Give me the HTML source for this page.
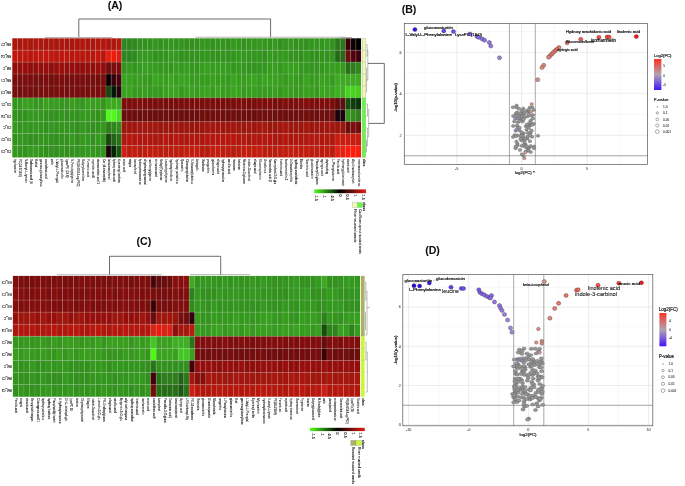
<!DOCTYPE html>
<html><head><meta charset="utf-8"><title>Figure</title>
<style>html,body{margin:0;padding:0;background:#fff;}body{width:685px;height:486px;overflow:hidden;font-family:"Liberation Sans",sans-serif;}svg{display:block;}</style></head>
<body>
<svg width="685" height="486" viewBox="0 0 685 486" font-family="Liberation Sans, Arial, sans-serif">
<defs>
<linearGradient id="gbr" x1="0" x2="1" y1="0" y2="0"><stop offset="0" stop-color="rgb(80,255,30)"/><stop offset="0.5" stop-color="#000"/><stop offset="1" stop-color="rgb(230,30,20)"/></linearGradient>
<linearGradient id="fcB" x1="0" x2="0" y1="0" y2="1"><stop offset="0" stop-color="rgb(250,50,35)"/><stop offset="0.5" stop-color="rgb(175,165,175)"/><stop offset="1" stop-color="rgb(70,20,255)"/></linearGradient>
<filter id="soft" x="-2%" y="-2%" width="104%" height="104%"><feGaussianBlur stdDeviation="0.3"/></filter>
</defs>
<g filter="url(#soft)">
<rect width="685" height="486" fill="#fff"/>
<rect x="12.30" y="38.30" width="5.25" height="11.96" fill="rgb(172,24,14)"/>
<rect x="17.51" y="38.30" width="5.25" height="11.96" fill="rgb(170,24,14)"/>
<rect x="22.71" y="38.30" width="5.25" height="11.96" fill="rgb(177,25,15)"/>
<rect x="27.91" y="38.30" width="5.25" height="11.96" fill="rgb(169,24,14)"/>
<rect x="33.12" y="38.30" width="5.25" height="11.96" fill="rgb(175,25,15)"/>
<rect x="38.33" y="38.30" width="5.25" height="11.96" fill="rgb(173,24,14)"/>
<rect x="43.53" y="38.30" width="5.25" height="11.96" fill="rgb(168,24,14)"/>
<rect x="48.73" y="38.30" width="5.25" height="11.96" fill="rgb(175,25,15)"/>
<rect x="53.94" y="38.30" width="5.25" height="11.96" fill="rgb(168,24,14)"/>
<rect x="59.14" y="38.30" width="5.25" height="11.96" fill="rgb(174,24,14)"/>
<rect x="64.35" y="38.30" width="5.25" height="11.96" fill="rgb(168,24,14)"/>
<rect x="69.56" y="38.30" width="5.25" height="11.96" fill="rgb(169,24,14)"/>
<rect x="74.76" y="38.30" width="5.25" height="11.96" fill="rgb(173,24,14)"/>
<rect x="79.97" y="38.30" width="5.25" height="11.96" fill="rgb(179,25,15)"/>
<rect x="85.17" y="38.30" width="5.25" height="11.96" fill="rgb(169,24,14)"/>
<rect x="90.38" y="38.30" width="5.25" height="11.96" fill="rgb(171,24,14)"/>
<rect x="95.58" y="38.30" width="5.25" height="11.96" fill="rgb(176,25,15)"/>
<rect x="100.78" y="38.30" width="5.25" height="11.96" fill="rgb(181,25,15)"/>
<rect x="105.99" y="38.30" width="5.25" height="11.96" fill="rgb(176,25,15)"/>
<rect x="111.19" y="38.30" width="5.25" height="11.96" fill="rgb(173,24,14)"/>
<rect x="116.40" y="38.30" width="5.25" height="11.96" fill="rgb(181,25,15)"/>
<rect x="121.61" y="38.30" width="5.25" height="11.96" fill="rgb(45,135,30)"/>
<rect x="126.81" y="38.30" width="5.25" height="11.96" fill="rgb(45,135,30)"/>
<rect x="132.02" y="38.30" width="5.25" height="11.96" fill="rgb(45,138,30)"/>
<rect x="137.22" y="38.30" width="5.25" height="11.96" fill="rgb(48,145,29)"/>
<rect x="142.43" y="38.30" width="5.25" height="11.96" fill="rgb(48,145,29)"/>
<rect x="147.63" y="38.30" width="5.25" height="11.96" fill="rgb(49,147,29)"/>
<rect x="152.84" y="38.30" width="5.25" height="11.96" fill="rgb(51,153,30)"/>
<rect x="158.04" y="38.30" width="5.25" height="11.96" fill="rgb(48,146,29)"/>
<rect x="163.25" y="38.30" width="5.25" height="11.96" fill="rgb(50,150,30)"/>
<rect x="168.45" y="38.30" width="5.25" height="11.96" fill="rgb(50,151,30)"/>
<rect x="173.66" y="38.30" width="5.25" height="11.96" fill="rgb(49,148,29)"/>
<rect x="178.86" y="38.30" width="5.25" height="11.96" fill="rgb(50,150,30)"/>
<rect x="184.07" y="38.30" width="5.25" height="11.96" fill="rgb(48,144,28)"/>
<rect x="189.27" y="38.30" width="5.25" height="11.96" fill="rgb(48,144,28)"/>
<rect x="194.48" y="38.30" width="5.25" height="11.96" fill="rgb(48,146,29)"/>
<rect x="199.68" y="38.30" width="5.25" height="11.96" fill="rgb(50,152,30)"/>
<rect x="204.89" y="38.30" width="5.25" height="11.96" fill="rgb(49,149,29)"/>
<rect x="210.09" y="38.30" width="5.25" height="11.96" fill="rgb(49,147,29)"/>
<rect x="215.30" y="38.30" width="5.25" height="11.96" fill="rgb(50,151,30)"/>
<rect x="220.50" y="38.30" width="5.25" height="11.96" fill="rgb(49,149,29)"/>
<rect x="225.71" y="38.30" width="5.25" height="11.96" fill="rgb(49,147,29)"/>
<rect x="230.91" y="38.30" width="5.25" height="11.96" fill="rgb(51,153,30)"/>
<rect x="236.12" y="38.30" width="5.25" height="11.96" fill="rgb(50,152,30)"/>
<rect x="241.32" y="38.30" width="5.25" height="11.96" fill="rgb(48,146,29)"/>
<rect x="246.53" y="38.30" width="5.25" height="11.96" fill="rgb(50,150,30)"/>
<rect x="251.73" y="38.30" width="5.25" height="11.96" fill="rgb(50,150,30)"/>
<rect x="256.94" y="38.30" width="5.25" height="11.96" fill="rgb(51,154,30)"/>
<rect x="262.14" y="38.30" width="5.25" height="11.96" fill="rgb(50,152,30)"/>
<rect x="267.35" y="38.30" width="5.25" height="11.96" fill="rgb(49,147,29)"/>
<rect x="272.55" y="38.30" width="5.25" height="11.96" fill="rgb(51,155,31)"/>
<rect x="277.75" y="38.30" width="5.25" height="11.96" fill="rgb(48,145,29)"/>
<rect x="282.96" y="38.30" width="5.25" height="11.96" fill="rgb(49,149,29)"/>
<rect x="288.17" y="38.30" width="5.25" height="11.96" fill="rgb(51,153,30)"/>
<rect x="293.37" y="38.30" width="5.25" height="11.96" fill="rgb(48,145,29)"/>
<rect x="298.57" y="38.30" width="5.25" height="11.96" fill="rgb(49,149,29)"/>
<rect x="303.78" y="38.30" width="5.25" height="11.96" fill="rgb(48,144,28)"/>
<rect x="308.99" y="38.30" width="5.25" height="11.96" fill="rgb(50,152,30)"/>
<rect x="314.19" y="38.30" width="5.25" height="11.96" fill="rgb(51,153,30)"/>
<rect x="319.40" y="38.30" width="5.25" height="11.96" fill="rgb(50,150,30)"/>
<rect x="324.60" y="38.30" width="5.25" height="11.96" fill="rgb(51,154,30)"/>
<rect x="329.81" y="38.30" width="5.25" height="11.96" fill="rgb(49,147,29)"/>
<rect x="335.01" y="38.30" width="5.25" height="11.96" fill="rgb(42,120,28)"/>
<rect x="340.22" y="38.30" width="5.25" height="11.96" fill="rgb(42,120,28)"/>
<rect x="345.42" y="38.30" width="5.25" height="11.96" fill="rgb(60,0,5)"/>
<rect x="350.62" y="38.30" width="5.25" height="11.96" fill="rgb(15,0,5)"/>
<rect x="355.83" y="38.30" width="5.25" height="11.96" fill="rgb(0,0,0)"/>
<rect x="12.30" y="50.21" width="5.25" height="11.96" fill="rgb(196,25,15)"/>
<rect x="17.51" y="50.21" width="5.25" height="11.96" fill="rgb(189,24,14)"/>
<rect x="22.71" y="50.21" width="5.25" height="11.96" fill="rgb(192,25,15)"/>
<rect x="27.91" y="50.21" width="5.25" height="11.96" fill="rgb(183,24,14)"/>
<rect x="33.12" y="50.21" width="5.25" height="11.96" fill="rgb(193,25,15)"/>
<rect x="38.33" y="50.21" width="5.25" height="11.96" fill="rgb(192,25,15)"/>
<rect x="43.53" y="50.21" width="5.25" height="11.96" fill="rgb(197,25,15)"/>
<rect x="48.73" y="50.21" width="5.25" height="11.96" fill="rgb(194,25,15)"/>
<rect x="53.94" y="50.21" width="5.25" height="11.96" fill="rgb(186,24,14)"/>
<rect x="59.14" y="50.21" width="5.25" height="11.96" fill="rgb(188,24,14)"/>
<rect x="64.35" y="50.21" width="5.25" height="11.96" fill="rgb(192,25,15)"/>
<rect x="69.56" y="50.21" width="5.25" height="11.96" fill="rgb(182,24,14)"/>
<rect x="74.76" y="50.21" width="5.25" height="11.96" fill="rgb(189,24,14)"/>
<rect x="79.97" y="50.21" width="5.25" height="11.96" fill="rgb(184,24,14)"/>
<rect x="85.17" y="50.21" width="5.25" height="11.96" fill="rgb(184,24,14)"/>
<rect x="90.38" y="50.21" width="5.25" height="11.96" fill="rgb(183,24,14)"/>
<rect x="95.58" y="50.21" width="5.25" height="11.96" fill="rgb(194,25,15)"/>
<rect x="100.78" y="50.21" width="5.25" height="11.96" fill="rgb(184,24,14)"/>
<rect x="105.99" y="50.21" width="5.25" height="11.96" fill="rgb(235,30,15)"/>
<rect x="111.19" y="50.21" width="5.25" height="11.96" fill="rgb(235,30,15)"/>
<rect x="116.40" y="50.21" width="5.25" height="11.96" fill="rgb(220,30,20)"/>
<rect x="121.61" y="50.21" width="5.25" height="11.96" fill="rgb(45,135,30)"/>
<rect x="126.81" y="50.21" width="5.25" height="11.96" fill="rgb(45,135,30)"/>
<rect x="132.02" y="50.21" width="5.25" height="11.96" fill="rgb(46,138,30)"/>
<rect x="137.22" y="50.21" width="5.25" height="11.96" fill="rgb(51,154,30)"/>
<rect x="142.43" y="50.21" width="5.25" height="11.96" fill="rgb(51,153,30)"/>
<rect x="147.63" y="50.21" width="5.25" height="11.96" fill="rgb(51,154,30)"/>
<rect x="152.84" y="50.21" width="5.25" height="11.96" fill="rgb(49,147,29)"/>
<rect x="158.04" y="50.21" width="5.25" height="11.96" fill="rgb(49,148,29)"/>
<rect x="163.25" y="50.21" width="5.25" height="11.96" fill="rgb(49,148,29)"/>
<rect x="168.45" y="50.21" width="5.25" height="11.96" fill="rgb(51,154,30)"/>
<rect x="173.66" y="50.21" width="5.25" height="11.96" fill="rgb(51,155,31)"/>
<rect x="178.86" y="50.21" width="5.25" height="11.96" fill="rgb(48,145,29)"/>
<rect x="184.07" y="50.21" width="5.25" height="11.96" fill="rgb(48,146,29)"/>
<rect x="189.27" y="50.21" width="5.25" height="11.96" fill="rgb(48,146,29)"/>
<rect x="194.48" y="50.21" width="5.25" height="11.96" fill="rgb(48,146,29)"/>
<rect x="199.68" y="50.21" width="5.25" height="11.96" fill="rgb(49,149,29)"/>
<rect x="204.89" y="50.21" width="5.25" height="11.96" fill="rgb(50,151,30)"/>
<rect x="210.09" y="50.21" width="5.25" height="11.96" fill="rgb(49,147,29)"/>
<rect x="215.30" y="50.21" width="5.25" height="11.96" fill="rgb(48,144,28)"/>
<rect x="220.50" y="50.21" width="5.25" height="11.96" fill="rgb(49,149,29)"/>
<rect x="225.71" y="50.21" width="5.25" height="11.96" fill="rgb(49,148,29)"/>
<rect x="230.91" y="50.21" width="5.25" height="11.96" fill="rgb(50,150,30)"/>
<rect x="236.12" y="50.21" width="5.25" height="11.96" fill="rgb(51,155,31)"/>
<rect x="241.32" y="50.21" width="5.25" height="11.96" fill="rgb(50,152,30)"/>
<rect x="246.53" y="50.21" width="5.25" height="11.96" fill="rgb(50,150,30)"/>
<rect x="251.73" y="50.21" width="5.25" height="11.96" fill="rgb(50,151,30)"/>
<rect x="256.94" y="50.21" width="5.25" height="11.96" fill="rgb(50,152,30)"/>
<rect x="262.14" y="50.21" width="5.25" height="11.96" fill="rgb(48,144,28)"/>
<rect x="267.35" y="50.21" width="5.25" height="11.96" fill="rgb(51,154,30)"/>
<rect x="272.55" y="50.21" width="5.25" height="11.96" fill="rgb(51,153,30)"/>
<rect x="277.75" y="50.21" width="5.25" height="11.96" fill="rgb(51,154,30)"/>
<rect x="282.96" y="50.21" width="5.25" height="11.96" fill="rgb(51,153,30)"/>
<rect x="288.17" y="50.21" width="5.25" height="11.96" fill="rgb(49,148,29)"/>
<rect x="293.37" y="50.21" width="5.25" height="11.96" fill="rgb(49,148,29)"/>
<rect x="298.57" y="50.21" width="5.25" height="11.96" fill="rgb(48,145,29)"/>
<rect x="303.78" y="50.21" width="5.25" height="11.96" fill="rgb(50,151,30)"/>
<rect x="308.99" y="50.21" width="5.25" height="11.96" fill="rgb(48,144,28)"/>
<rect x="314.19" y="50.21" width="5.25" height="11.96" fill="rgb(48,144,28)"/>
<rect x="319.40" y="50.21" width="5.25" height="11.96" fill="rgb(48,146,29)"/>
<rect x="324.60" y="50.21" width="5.25" height="11.96" fill="rgb(48,145,29)"/>
<rect x="329.81" y="50.21" width="5.25" height="11.96" fill="rgb(49,148,29)"/>
<rect x="335.01" y="50.21" width="5.25" height="11.96" fill="rgb(38,105,25)"/>
<rect x="340.22" y="50.21" width="5.25" height="11.96" fill="rgb(38,105,25)"/>
<rect x="345.42" y="50.21" width="5.25" height="11.96" fill="rgb(110,8,8)"/>
<rect x="350.62" y="50.21" width="5.25" height="11.96" fill="rgb(80,5,8)"/>
<rect x="355.83" y="50.21" width="5.25" height="11.96" fill="rgb(65,5,8)"/>
<rect x="12.30" y="62.12" width="5.25" height="11.96" fill="rgb(144,14,9)"/>
<rect x="17.51" y="62.12" width="5.25" height="11.96" fill="rgb(154,15,10)"/>
<rect x="22.71" y="62.12" width="5.25" height="11.96" fill="rgb(151,15,10)"/>
<rect x="27.91" y="62.12" width="5.25" height="11.96" fill="rgb(145,14,9)"/>
<rect x="33.12" y="62.12" width="5.25" height="11.96" fill="rgb(147,14,9)"/>
<rect x="38.33" y="62.12" width="5.25" height="11.96" fill="rgb(148,14,9)"/>
<rect x="43.53" y="62.12" width="5.25" height="11.96" fill="rgb(148,14,9)"/>
<rect x="48.73" y="62.12" width="5.25" height="11.96" fill="rgb(145,14,9)"/>
<rect x="53.94" y="62.12" width="5.25" height="11.96" fill="rgb(154,15,10)"/>
<rect x="59.14" y="62.12" width="5.25" height="11.96" fill="rgb(155,15,10)"/>
<rect x="64.35" y="62.12" width="5.25" height="11.96" fill="rgb(149,14,9)"/>
<rect x="69.56" y="62.12" width="5.25" height="11.96" fill="rgb(149,14,9)"/>
<rect x="74.76" y="62.12" width="5.25" height="11.96" fill="rgb(145,14,9)"/>
<rect x="79.97" y="62.12" width="5.25" height="11.96" fill="rgb(145,14,9)"/>
<rect x="85.17" y="62.12" width="5.25" height="11.96" fill="rgb(148,14,9)"/>
<rect x="90.38" y="62.12" width="5.25" height="11.96" fill="rgb(147,14,9)"/>
<rect x="95.58" y="62.12" width="5.25" height="11.96" fill="rgb(153,15,10)"/>
<rect x="100.78" y="62.12" width="5.25" height="11.96" fill="rgb(145,14,9)"/>
<rect x="105.99" y="62.12" width="5.25" height="11.96" fill="rgb(115,10,10)"/>
<rect x="111.19" y="62.12" width="5.25" height="11.96" fill="rgb(125,10,10)"/>
<rect x="116.40" y="62.12" width="5.25" height="11.96" fill="rgb(125,10,10)"/>
<rect x="121.61" y="62.12" width="5.25" height="11.96" fill="rgb(50,150,29)"/>
<rect x="126.81" y="62.12" width="5.25" height="11.96" fill="rgb(52,155,30)"/>
<rect x="132.02" y="62.12" width="5.25" height="11.96" fill="rgb(50,149,28)"/>
<rect x="137.22" y="62.12" width="5.25" height="11.96" fill="rgb(52,155,30)"/>
<rect x="142.43" y="62.12" width="5.25" height="11.96" fill="rgb(53,160,31)"/>
<rect x="147.63" y="62.12" width="5.25" height="11.96" fill="rgb(53,159,30)"/>
<rect x="152.84" y="62.12" width="5.25" height="11.96" fill="rgb(52,157,30)"/>
<rect x="158.04" y="62.12" width="5.25" height="11.96" fill="rgb(51,152,29)"/>
<rect x="163.25" y="62.12" width="5.25" height="11.96" fill="rgb(51,153,29)"/>
<rect x="168.45" y="62.12" width="5.25" height="11.96" fill="rgb(50,150,29)"/>
<rect x="173.66" y="62.12" width="5.25" height="11.96" fill="rgb(53,158,30)"/>
<rect x="178.86" y="62.12" width="5.25" height="11.96" fill="rgb(52,155,30)"/>
<rect x="184.07" y="62.12" width="5.25" height="11.96" fill="rgb(53,158,30)"/>
<rect x="189.27" y="62.12" width="5.25" height="11.96" fill="rgb(51,152,29)"/>
<rect x="194.48" y="62.12" width="5.25" height="11.96" fill="rgb(50,151,29)"/>
<rect x="199.68" y="62.12" width="5.25" height="11.96" fill="rgb(53,158,30)"/>
<rect x="204.89" y="62.12" width="5.25" height="11.96" fill="rgb(54,161,31)"/>
<rect x="210.09" y="62.12" width="5.25" height="11.96" fill="rgb(53,159,30)"/>
<rect x="215.30" y="62.12" width="5.25" height="11.96" fill="rgb(53,158,30)"/>
<rect x="220.50" y="62.12" width="5.25" height="11.96" fill="rgb(53,158,30)"/>
<rect x="225.71" y="62.12" width="5.25" height="11.96" fill="rgb(52,157,30)"/>
<rect x="230.91" y="62.12" width="5.25" height="11.96" fill="rgb(50,151,29)"/>
<rect x="236.12" y="62.12" width="5.25" height="11.96" fill="rgb(52,155,30)"/>
<rect x="241.32" y="62.12" width="5.25" height="11.96" fill="rgb(51,153,29)"/>
<rect x="246.53" y="62.12" width="5.25" height="11.96" fill="rgb(50,149,28)"/>
<rect x="251.73" y="62.12" width="5.25" height="11.96" fill="rgb(50,149,28)"/>
<rect x="256.94" y="62.12" width="5.25" height="11.96" fill="rgb(51,152,29)"/>
<rect x="262.14" y="62.12" width="5.25" height="11.96" fill="rgb(50,152,29)"/>
<rect x="267.35" y="62.12" width="5.25" height="11.96" fill="rgb(52,157,30)"/>
<rect x="272.55" y="62.12" width="5.25" height="11.96" fill="rgb(53,160,31)"/>
<rect x="277.75" y="62.12" width="5.25" height="11.96" fill="rgb(51,154,29)"/>
<rect x="282.96" y="62.12" width="5.25" height="11.96" fill="rgb(53,160,31)"/>
<rect x="288.17" y="62.12" width="5.25" height="11.96" fill="rgb(54,161,31)"/>
<rect x="293.37" y="62.12" width="5.25" height="11.96" fill="rgb(53,160,31)"/>
<rect x="298.57" y="62.12" width="5.25" height="11.96" fill="rgb(51,153,29)"/>
<rect x="303.78" y="62.12" width="5.25" height="11.96" fill="rgb(50,151,29)"/>
<rect x="308.99" y="62.12" width="5.25" height="11.96" fill="rgb(50,151,29)"/>
<rect x="314.19" y="62.12" width="5.25" height="11.96" fill="rgb(50,151,29)"/>
<rect x="319.40" y="62.12" width="5.25" height="11.96" fill="rgb(50,151,29)"/>
<rect x="324.60" y="62.12" width="5.25" height="11.96" fill="rgb(52,156,30)"/>
<rect x="329.81" y="62.12" width="5.25" height="11.96" fill="rgb(53,159,30)"/>
<rect x="335.01" y="62.12" width="5.25" height="11.96" fill="rgb(53,159,30)"/>
<rect x="340.22" y="62.12" width="5.25" height="11.96" fill="rgb(51,154,29)"/>
<rect x="345.42" y="62.12" width="5.25" height="11.96" fill="rgb(40,115,25)"/>
<rect x="350.62" y="62.12" width="5.25" height="11.96" fill="rgb(45,125,28)"/>
<rect x="355.83" y="62.12" width="5.25" height="11.96" fill="rgb(48,135,30)"/>
<rect x="12.30" y="74.03" width="5.25" height="11.96" fill="rgb(121,12,10)"/>
<rect x="17.51" y="74.03" width="5.25" height="11.96" fill="rgb(123,12,10)"/>
<rect x="22.71" y="74.03" width="5.25" height="11.96" fill="rgb(122,12,10)"/>
<rect x="27.91" y="74.03" width="5.25" height="11.96" fill="rgb(122,12,10)"/>
<rect x="33.12" y="74.03" width="5.25" height="11.96" fill="rgb(119,11,9)"/>
<rect x="38.33" y="74.03" width="5.25" height="11.96" fill="rgb(116,11,9)"/>
<rect x="43.53" y="74.03" width="5.25" height="11.96" fill="rgb(122,12,10)"/>
<rect x="48.73" y="74.03" width="5.25" height="11.96" fill="rgb(118,11,9)"/>
<rect x="53.94" y="74.03" width="5.25" height="11.96" fill="rgb(122,12,10)"/>
<rect x="59.14" y="74.03" width="5.25" height="11.96" fill="rgb(124,12,10)"/>
<rect x="64.35" y="74.03" width="5.25" height="11.96" fill="rgb(119,11,9)"/>
<rect x="69.56" y="74.03" width="5.25" height="11.96" fill="rgb(119,11,9)"/>
<rect x="74.76" y="74.03" width="5.25" height="11.96" fill="rgb(124,12,10)"/>
<rect x="79.97" y="74.03" width="5.25" height="11.96" fill="rgb(122,12,10)"/>
<rect x="85.17" y="74.03" width="5.25" height="11.96" fill="rgb(116,11,9)"/>
<rect x="90.38" y="74.03" width="5.25" height="11.96" fill="rgb(116,11,9)"/>
<rect x="95.58" y="74.03" width="5.25" height="11.96" fill="rgb(116,11,9)"/>
<rect x="100.78" y="74.03" width="5.25" height="11.96" fill="rgb(123,12,10)"/>
<rect x="105.99" y="74.03" width="5.25" height="11.96" fill="rgb(10,0,0)"/>
<rect x="111.19" y="74.03" width="5.25" height="11.96" fill="rgb(55,5,10)"/>
<rect x="116.40" y="74.03" width="5.25" height="11.96" fill="rgb(75,5,8)"/>
<rect x="121.61" y="74.03" width="5.25" height="11.96" fill="rgb(57,166,31)"/>
<rect x="126.81" y="74.03" width="5.25" height="11.96" fill="rgb(55,162,30)"/>
<rect x="132.02" y="74.03" width="5.25" height="11.96" fill="rgb(54,158,29)"/>
<rect x="137.22" y="74.03" width="5.25" height="11.96" fill="rgb(55,160,30)"/>
<rect x="142.43" y="74.03" width="5.25" height="11.96" fill="rgb(53,155,29)"/>
<rect x="147.63" y="74.03" width="5.25" height="11.96" fill="rgb(52,153,28)"/>
<rect x="152.84" y="74.03" width="5.25" height="11.96" fill="rgb(57,166,31)"/>
<rect x="158.04" y="74.03" width="5.25" height="11.96" fill="rgb(55,161,30)"/>
<rect x="163.25" y="74.03" width="5.25" height="11.96" fill="rgb(55,160,30)"/>
<rect x="168.45" y="74.03" width="5.25" height="11.96" fill="rgb(56,165,31)"/>
<rect x="173.66" y="74.03" width="5.25" height="11.96" fill="rgb(54,159,29)"/>
<rect x="178.86" y="74.03" width="5.25" height="11.96" fill="rgb(56,164,30)"/>
<rect x="184.07" y="74.03" width="5.25" height="11.96" fill="rgb(56,164,30)"/>
<rect x="189.27" y="74.03" width="5.25" height="11.96" fill="rgb(53,156,29)"/>
<rect x="194.48" y="74.03" width="5.25" height="11.96" fill="rgb(53,156,29)"/>
<rect x="199.68" y="74.03" width="5.25" height="11.96" fill="rgb(54,157,29)"/>
<rect x="204.89" y="74.03" width="5.25" height="11.96" fill="rgb(53,156,29)"/>
<rect x="210.09" y="74.03" width="5.25" height="11.96" fill="rgb(55,161,30)"/>
<rect x="215.30" y="74.03" width="5.25" height="11.96" fill="rgb(53,156,29)"/>
<rect x="220.50" y="74.03" width="5.25" height="11.96" fill="rgb(54,158,29)"/>
<rect x="225.71" y="74.03" width="5.25" height="11.96" fill="rgb(53,155,29)"/>
<rect x="230.91" y="74.03" width="5.25" height="11.96" fill="rgb(56,165,30)"/>
<rect x="236.12" y="74.03" width="5.25" height="11.96" fill="rgb(54,158,29)"/>
<rect x="241.32" y="74.03" width="5.25" height="11.96" fill="rgb(54,159,29)"/>
<rect x="246.53" y="74.03" width="5.25" height="11.96" fill="rgb(55,161,30)"/>
<rect x="251.73" y="74.03" width="5.25" height="11.96" fill="rgb(56,165,30)"/>
<rect x="256.94" y="74.03" width="5.25" height="11.96" fill="rgb(54,158,29)"/>
<rect x="262.14" y="74.03" width="5.25" height="11.96" fill="rgb(56,165,31)"/>
<rect x="267.35" y="74.03" width="5.25" height="11.96" fill="rgb(55,160,30)"/>
<rect x="272.55" y="74.03" width="5.25" height="11.96" fill="rgb(55,160,30)"/>
<rect x="277.75" y="74.03" width="5.25" height="11.96" fill="rgb(55,160,30)"/>
<rect x="282.96" y="74.03" width="5.25" height="11.96" fill="rgb(52,153,28)"/>
<rect x="288.17" y="74.03" width="5.25" height="11.96" fill="rgb(54,159,29)"/>
<rect x="293.37" y="74.03" width="5.25" height="11.96" fill="rgb(53,155,29)"/>
<rect x="298.57" y="74.03" width="5.25" height="11.96" fill="rgb(52,153,28)"/>
<rect x="303.78" y="74.03" width="5.25" height="11.96" fill="rgb(56,163,30)"/>
<rect x="308.99" y="74.03" width="5.25" height="11.96" fill="rgb(53,155,29)"/>
<rect x="314.19" y="74.03" width="5.25" height="11.96" fill="rgb(54,159,29)"/>
<rect x="319.40" y="74.03" width="5.25" height="11.96" fill="rgb(55,162,30)"/>
<rect x="324.60" y="74.03" width="5.25" height="11.96" fill="rgb(55,160,30)"/>
<rect x="329.81" y="74.03" width="5.25" height="11.96" fill="rgb(54,157,29)"/>
<rect x="335.01" y="74.03" width="5.25" height="11.96" fill="rgb(60,170,35)"/>
<rect x="340.22" y="74.03" width="5.25" height="11.96" fill="rgb(60,170,35)"/>
<rect x="345.42" y="74.03" width="5.25" height="11.96" fill="rgb(60,170,35)"/>
<rect x="350.62" y="74.03" width="5.25" height="11.96" fill="rgb(60,170,35)"/>
<rect x="355.83" y="74.03" width="5.25" height="11.96" fill="rgb(60,170,35)"/>
<rect x="12.30" y="85.94" width="5.25" height="11.96" fill="rgb(117,11,9)"/>
<rect x="17.51" y="85.94" width="5.25" height="11.96" fill="rgb(117,11,9)"/>
<rect x="22.71" y="85.94" width="5.25" height="11.96" fill="rgb(122,12,10)"/>
<rect x="27.91" y="85.94" width="5.25" height="11.96" fill="rgb(120,12,10)"/>
<rect x="33.12" y="85.94" width="5.25" height="11.96" fill="rgb(120,12,10)"/>
<rect x="38.33" y="85.94" width="5.25" height="11.96" fill="rgb(122,12,10)"/>
<rect x="43.53" y="85.94" width="5.25" height="11.96" fill="rgb(123,12,10)"/>
<rect x="48.73" y="85.94" width="5.25" height="11.96" fill="rgb(119,11,9)"/>
<rect x="53.94" y="85.94" width="5.25" height="11.96" fill="rgb(121,12,10)"/>
<rect x="59.14" y="85.94" width="5.25" height="11.96" fill="rgb(120,12,10)"/>
<rect x="64.35" y="85.94" width="5.25" height="11.96" fill="rgb(120,12,10)"/>
<rect x="69.56" y="85.94" width="5.25" height="11.96" fill="rgb(121,12,10)"/>
<rect x="74.76" y="85.94" width="5.25" height="11.96" fill="rgb(119,11,9)"/>
<rect x="79.97" y="85.94" width="5.25" height="11.96" fill="rgb(120,12,10)"/>
<rect x="85.17" y="85.94" width="5.25" height="11.96" fill="rgb(119,11,9)"/>
<rect x="90.38" y="85.94" width="5.25" height="11.96" fill="rgb(124,12,10)"/>
<rect x="95.58" y="85.94" width="5.25" height="11.96" fill="rgb(121,12,10)"/>
<rect x="100.78" y="85.94" width="5.25" height="11.96" fill="rgb(123,12,10)"/>
<rect x="105.99" y="85.94" width="5.25" height="11.96" fill="rgb(25,70,15)"/>
<rect x="111.19" y="85.94" width="5.25" height="11.96" fill="rgb(5,25,5)"/>
<rect x="116.40" y="85.94" width="5.25" height="11.96" fill="rgb(40,0,10)"/>
<rect x="121.61" y="85.94" width="5.25" height="11.96" fill="rgb(56,165,31)"/>
<rect x="126.81" y="85.94" width="5.25" height="11.96" fill="rgb(56,164,30)"/>
<rect x="132.02" y="85.94" width="5.25" height="11.96" fill="rgb(53,155,29)"/>
<rect x="137.22" y="85.94" width="5.25" height="11.96" fill="rgb(53,155,29)"/>
<rect x="142.43" y="85.94" width="5.25" height="11.96" fill="rgb(54,159,29)"/>
<rect x="147.63" y="85.94" width="5.25" height="11.96" fill="rgb(53,154,28)"/>
<rect x="152.84" y="85.94" width="5.25" height="11.96" fill="rgb(53,156,29)"/>
<rect x="158.04" y="85.94" width="5.25" height="11.96" fill="rgb(53,154,28)"/>
<rect x="163.25" y="85.94" width="5.25" height="11.96" fill="rgb(55,162,30)"/>
<rect x="168.45" y="85.94" width="5.25" height="11.96" fill="rgb(56,163,30)"/>
<rect x="173.66" y="85.94" width="5.25" height="11.96" fill="rgb(56,165,30)"/>
<rect x="178.86" y="85.94" width="5.25" height="11.96" fill="rgb(53,155,29)"/>
<rect x="184.07" y="85.94" width="5.25" height="11.96" fill="rgb(55,162,30)"/>
<rect x="189.27" y="85.94" width="5.25" height="11.96" fill="rgb(55,162,30)"/>
<rect x="194.48" y="85.94" width="5.25" height="11.96" fill="rgb(53,155,29)"/>
<rect x="199.68" y="85.94" width="5.25" height="11.96" fill="rgb(56,164,30)"/>
<rect x="204.89" y="85.94" width="5.25" height="11.96" fill="rgb(57,165,31)"/>
<rect x="210.09" y="85.94" width="5.25" height="11.96" fill="rgb(53,156,29)"/>
<rect x="215.30" y="85.94" width="5.25" height="11.96" fill="rgb(56,165,31)"/>
<rect x="220.50" y="85.94" width="5.25" height="11.96" fill="rgb(54,158,29)"/>
<rect x="225.71" y="85.94" width="5.25" height="11.96" fill="rgb(54,159,29)"/>
<rect x="230.91" y="85.94" width="5.25" height="11.96" fill="rgb(57,166,31)"/>
<rect x="236.12" y="85.94" width="5.25" height="11.96" fill="rgb(56,164,30)"/>
<rect x="241.32" y="85.94" width="5.25" height="11.96" fill="rgb(53,155,29)"/>
<rect x="246.53" y="85.94" width="5.25" height="11.96" fill="rgb(54,159,29)"/>
<rect x="251.73" y="85.94" width="5.25" height="11.96" fill="rgb(55,160,30)"/>
<rect x="256.94" y="85.94" width="5.25" height="11.96" fill="rgb(54,157,29)"/>
<rect x="262.14" y="85.94" width="5.25" height="11.96" fill="rgb(53,156,29)"/>
<rect x="267.35" y="85.94" width="5.25" height="11.96" fill="rgb(54,157,29)"/>
<rect x="272.55" y="85.94" width="5.25" height="11.96" fill="rgb(55,162,30)"/>
<rect x="277.75" y="85.94" width="5.25" height="11.96" fill="rgb(52,153,28)"/>
<rect x="282.96" y="85.94" width="5.25" height="11.96" fill="rgb(55,160,30)"/>
<rect x="288.17" y="85.94" width="5.25" height="11.96" fill="rgb(54,159,29)"/>
<rect x="293.37" y="85.94" width="5.25" height="11.96" fill="rgb(52,153,28)"/>
<rect x="298.57" y="85.94" width="5.25" height="11.96" fill="rgb(54,157,29)"/>
<rect x="303.78" y="85.94" width="5.25" height="11.96" fill="rgb(55,161,30)"/>
<rect x="308.99" y="85.94" width="5.25" height="11.96" fill="rgb(55,160,30)"/>
<rect x="314.19" y="85.94" width="5.25" height="11.96" fill="rgb(53,154,28)"/>
<rect x="319.40" y="85.94" width="5.25" height="11.96" fill="rgb(57,166,31)"/>
<rect x="324.60" y="85.94" width="5.25" height="11.96" fill="rgb(56,163,30)"/>
<rect x="329.81" y="85.94" width="5.25" height="11.96" fill="rgb(57,166,31)"/>
<rect x="335.01" y="85.94" width="5.25" height="11.96" fill="rgb(60,175,35)"/>
<rect x="340.22" y="85.94" width="5.25" height="11.96" fill="rgb(60,175,35)"/>
<rect x="345.42" y="85.94" width="5.25" height="11.96" fill="rgb(70,210,30)"/>
<rect x="350.62" y="85.94" width="5.25" height="11.96" fill="rgb(70,210,30)"/>
<rect x="355.83" y="85.94" width="5.25" height="11.96" fill="rgb(70,205,30)"/>
<rect x="12.30" y="97.85" width="5.25" height="11.96" fill="rgb(53,150,29)"/>
<rect x="17.51" y="97.85" width="5.25" height="11.96" fill="rgb(54,154,29)"/>
<rect x="22.71" y="97.85" width="5.25" height="11.96" fill="rgb(56,160,30)"/>
<rect x="27.91" y="97.85" width="5.25" height="11.96" fill="rgb(56,158,30)"/>
<rect x="33.12" y="97.85" width="5.25" height="11.96" fill="rgb(53,152,29)"/>
<rect x="38.33" y="97.85" width="5.25" height="11.96" fill="rgb(53,150,29)"/>
<rect x="43.53" y="97.85" width="5.25" height="11.96" fill="rgb(56,160,31)"/>
<rect x="48.73" y="97.85" width="5.25" height="11.96" fill="rgb(55,155,30)"/>
<rect x="53.94" y="97.85" width="5.25" height="11.96" fill="rgb(55,157,30)"/>
<rect x="59.14" y="97.85" width="5.25" height="11.96" fill="rgb(53,149,29)"/>
<rect x="64.35" y="97.85" width="5.25" height="11.96" fill="rgb(53,149,28)"/>
<rect x="69.56" y="97.85" width="5.25" height="11.96" fill="rgb(55,157,30)"/>
<rect x="74.76" y="97.85" width="5.25" height="11.96" fill="rgb(54,154,29)"/>
<rect x="79.97" y="97.85" width="5.25" height="11.96" fill="rgb(53,149,28)"/>
<rect x="85.17" y="97.85" width="5.25" height="11.96" fill="rgb(56,160,31)"/>
<rect x="90.38" y="97.85" width="5.25" height="11.96" fill="rgb(55,156,30)"/>
<rect x="95.58" y="97.85" width="5.25" height="11.96" fill="rgb(56,158,30)"/>
<rect x="100.78" y="97.85" width="5.25" height="11.96" fill="rgb(53,149,29)"/>
<rect x="105.99" y="97.85" width="5.25" height="11.96" fill="rgb(60,170,30)"/>
<rect x="111.19" y="97.85" width="5.25" height="11.96" fill="rgb(60,170,30)"/>
<rect x="116.40" y="97.85" width="5.25" height="11.96" fill="rgb(60,170,30)"/>
<rect x="121.61" y="97.85" width="5.25" height="11.96" fill="rgb(124,11,7)"/>
<rect x="126.81" y="97.85" width="5.25" height="11.96" fill="rgb(123,11,7)"/>
<rect x="132.02" y="97.85" width="5.25" height="11.96" fill="rgb(125,12,8)"/>
<rect x="137.22" y="97.85" width="5.25" height="11.96" fill="rgb(129,12,8)"/>
<rect x="142.43" y="97.85" width="5.25" height="11.96" fill="rgb(122,11,7)"/>
<rect x="147.63" y="97.85" width="5.25" height="11.96" fill="rgb(121,11,7)"/>
<rect x="152.84" y="97.85" width="5.25" height="11.96" fill="rgb(125,12,8)"/>
<rect x="158.04" y="97.85" width="5.25" height="11.96" fill="rgb(122,11,7)"/>
<rect x="163.25" y="97.85" width="5.25" height="11.96" fill="rgb(121,11,7)"/>
<rect x="168.45" y="97.85" width="5.25" height="11.96" fill="rgb(121,11,7)"/>
<rect x="173.66" y="97.85" width="5.25" height="11.96" fill="rgb(120,11,7)"/>
<rect x="178.86" y="97.85" width="5.25" height="11.96" fill="rgb(122,11,7)"/>
<rect x="184.07" y="97.85" width="5.25" height="11.96" fill="rgb(123,11,7)"/>
<rect x="189.27" y="97.85" width="5.25" height="11.96" fill="rgb(123,11,7)"/>
<rect x="194.48" y="97.85" width="5.25" height="11.96" fill="rgb(127,12,8)"/>
<rect x="199.68" y="97.85" width="5.25" height="11.96" fill="rgb(122,11,7)"/>
<rect x="204.89" y="97.85" width="5.25" height="11.96" fill="rgb(125,12,8)"/>
<rect x="210.09" y="97.85" width="5.25" height="11.96" fill="rgb(121,11,7)"/>
<rect x="215.30" y="97.85" width="5.25" height="11.96" fill="rgb(123,11,7)"/>
<rect x="220.50" y="97.85" width="5.25" height="11.96" fill="rgb(120,11,7)"/>
<rect x="225.71" y="97.85" width="5.25" height="11.96" fill="rgb(122,11,7)"/>
<rect x="230.91" y="97.85" width="5.25" height="11.96" fill="rgb(120,11,7)"/>
<rect x="236.12" y="97.85" width="5.25" height="11.96" fill="rgb(127,12,8)"/>
<rect x="241.32" y="97.85" width="5.25" height="11.96" fill="rgb(125,12,8)"/>
<rect x="246.53" y="97.85" width="5.25" height="11.96" fill="rgb(121,11,7)"/>
<rect x="251.73" y="97.85" width="5.25" height="11.96" fill="rgb(124,11,7)"/>
<rect x="256.94" y="97.85" width="5.25" height="11.96" fill="rgb(129,12,8)"/>
<rect x="262.14" y="97.85" width="5.25" height="11.96" fill="rgb(121,11,7)"/>
<rect x="267.35" y="97.85" width="5.25" height="11.96" fill="rgb(128,12,8)"/>
<rect x="272.55" y="97.85" width="5.25" height="11.96" fill="rgb(124,11,7)"/>
<rect x="277.75" y="97.85" width="5.25" height="11.96" fill="rgb(124,11,7)"/>
<rect x="282.96" y="97.85" width="5.25" height="11.96" fill="rgb(128,12,8)"/>
<rect x="288.17" y="97.85" width="5.25" height="11.96" fill="rgb(123,11,7)"/>
<rect x="293.37" y="97.85" width="5.25" height="11.96" fill="rgb(125,12,8)"/>
<rect x="298.57" y="97.85" width="5.25" height="11.96" fill="rgb(126,12,8)"/>
<rect x="303.78" y="97.85" width="5.25" height="11.96" fill="rgb(129,12,8)"/>
<rect x="308.99" y="97.85" width="5.25" height="11.96" fill="rgb(123,11,7)"/>
<rect x="314.19" y="97.85" width="5.25" height="11.96" fill="rgb(128,12,8)"/>
<rect x="319.40" y="97.85" width="5.25" height="11.96" fill="rgb(127,12,8)"/>
<rect x="324.60" y="97.85" width="5.25" height="11.96" fill="rgb(126,12,8)"/>
<rect x="329.81" y="97.85" width="5.25" height="11.96" fill="rgb(124,11,7)"/>
<rect x="335.01" y="97.85" width="5.25" height="11.96" fill="rgb(95,8,10)"/>
<rect x="340.22" y="97.85" width="5.25" height="11.96" fill="rgb(95,8,10)"/>
<rect x="345.42" y="97.85" width="5.25" height="11.96" fill="rgb(25,80,15)"/>
<rect x="350.62" y="97.85" width="5.25" height="11.96" fill="rgb(15,60,10)"/>
<rect x="355.83" y="97.85" width="5.25" height="11.96" fill="rgb(12,50,10)"/>
<rect x="12.30" y="109.76" width="5.25" height="11.96" fill="rgb(49,147,29)"/>
<rect x="17.51" y="109.76" width="5.25" height="11.96" fill="rgb(48,145,29)"/>
<rect x="22.71" y="109.76" width="5.25" height="11.96" fill="rgb(48,145,29)"/>
<rect x="27.91" y="109.76" width="5.25" height="11.96" fill="rgb(51,154,30)"/>
<rect x="33.12" y="109.76" width="5.25" height="11.96" fill="rgb(51,154,30)"/>
<rect x="38.33" y="109.76" width="5.25" height="11.96" fill="rgb(50,152,30)"/>
<rect x="43.53" y="109.76" width="5.25" height="11.96" fill="rgb(49,147,29)"/>
<rect x="48.73" y="109.76" width="5.25" height="11.96" fill="rgb(48,146,29)"/>
<rect x="53.94" y="109.76" width="5.25" height="11.96" fill="rgb(49,147,29)"/>
<rect x="59.14" y="109.76" width="5.25" height="11.96" fill="rgb(49,149,29)"/>
<rect x="64.35" y="109.76" width="5.25" height="11.96" fill="rgb(48,145,29)"/>
<rect x="69.56" y="109.76" width="5.25" height="11.96" fill="rgb(49,149,29)"/>
<rect x="74.76" y="109.76" width="5.25" height="11.96" fill="rgb(49,147,29)"/>
<rect x="79.97" y="109.76" width="5.25" height="11.96" fill="rgb(51,155,31)"/>
<rect x="85.17" y="109.76" width="5.25" height="11.96" fill="rgb(51,155,31)"/>
<rect x="90.38" y="109.76" width="5.25" height="11.96" fill="rgb(50,150,30)"/>
<rect x="95.58" y="109.76" width="5.25" height="11.96" fill="rgb(48,146,29)"/>
<rect x="100.78" y="109.76" width="5.25" height="11.96" fill="rgb(51,155,31)"/>
<rect x="105.99" y="109.76" width="5.25" height="11.96" fill="rgb(80,250,30)"/>
<rect x="111.19" y="109.76" width="5.25" height="11.96" fill="rgb(80,250,30)"/>
<rect x="116.40" y="109.76" width="5.25" height="11.96" fill="rgb(70,220,35)"/>
<rect x="121.61" y="109.76" width="5.25" height="11.96" fill="rgb(108,11,9)"/>
<rect x="126.81" y="109.76" width="5.25" height="11.96" fill="rgb(109,11,9)"/>
<rect x="132.02" y="109.76" width="5.25" height="11.96" fill="rgb(110,12,10)"/>
<rect x="137.22" y="109.76" width="5.25" height="11.96" fill="rgb(107,11,9)"/>
<rect x="142.43" y="109.76" width="5.25" height="11.96" fill="rgb(110,12,10)"/>
<rect x="147.63" y="109.76" width="5.25" height="11.96" fill="rgb(105,11,9)"/>
<rect x="152.84" y="109.76" width="5.25" height="11.96" fill="rgb(107,11,9)"/>
<rect x="158.04" y="109.76" width="5.25" height="11.96" fill="rgb(106,11,9)"/>
<rect x="163.25" y="109.76" width="5.25" height="11.96" fill="rgb(109,11,9)"/>
<rect x="168.45" y="109.76" width="5.25" height="11.96" fill="rgb(105,11,9)"/>
<rect x="173.66" y="109.76" width="5.25" height="11.96" fill="rgb(105,11,9)"/>
<rect x="178.86" y="109.76" width="5.25" height="11.96" fill="rgb(108,11,9)"/>
<rect x="184.07" y="109.76" width="5.25" height="11.96" fill="rgb(107,11,9)"/>
<rect x="189.27" y="109.76" width="5.25" height="11.96" fill="rgb(110,12,10)"/>
<rect x="194.48" y="109.76" width="5.25" height="11.96" fill="rgb(110,12,10)"/>
<rect x="199.68" y="109.76" width="5.25" height="11.96" fill="rgb(112,12,10)"/>
<rect x="204.89" y="109.76" width="5.25" height="11.96" fill="rgb(111,12,10)"/>
<rect x="210.09" y="109.76" width="5.25" height="11.96" fill="rgb(111,12,10)"/>
<rect x="215.30" y="109.76" width="5.25" height="11.96" fill="rgb(113,12,10)"/>
<rect x="220.50" y="109.76" width="5.25" height="11.96" fill="rgb(109,11,9)"/>
<rect x="225.71" y="109.76" width="5.25" height="11.96" fill="rgb(108,11,9)"/>
<rect x="230.91" y="109.76" width="5.25" height="11.96" fill="rgb(114,12,10)"/>
<rect x="236.12" y="109.76" width="5.25" height="11.96" fill="rgb(106,11,9)"/>
<rect x="241.32" y="109.76" width="5.25" height="11.96" fill="rgb(111,12,10)"/>
<rect x="246.53" y="109.76" width="5.25" height="11.96" fill="rgb(111,12,10)"/>
<rect x="251.73" y="109.76" width="5.25" height="11.96" fill="rgb(105,11,9)"/>
<rect x="256.94" y="109.76" width="5.25" height="11.96" fill="rgb(112,12,10)"/>
<rect x="262.14" y="109.76" width="5.25" height="11.96" fill="rgb(113,12,10)"/>
<rect x="267.35" y="109.76" width="5.25" height="11.96" fill="rgb(111,12,10)"/>
<rect x="272.55" y="109.76" width="5.25" height="11.96" fill="rgb(112,12,10)"/>
<rect x="277.75" y="109.76" width="5.25" height="11.96" fill="rgb(112,12,10)"/>
<rect x="282.96" y="109.76" width="5.25" height="11.96" fill="rgb(106,11,9)"/>
<rect x="288.17" y="109.76" width="5.25" height="11.96" fill="rgb(110,12,10)"/>
<rect x="293.37" y="109.76" width="5.25" height="11.96" fill="rgb(110,12,10)"/>
<rect x="298.57" y="109.76" width="5.25" height="11.96" fill="rgb(112,12,10)"/>
<rect x="303.78" y="109.76" width="5.25" height="11.96" fill="rgb(112,12,10)"/>
<rect x="308.99" y="109.76" width="5.25" height="11.96" fill="rgb(112,12,10)"/>
<rect x="314.19" y="109.76" width="5.25" height="11.96" fill="rgb(110,12,10)"/>
<rect x="319.40" y="109.76" width="5.25" height="11.96" fill="rgb(113,12,10)"/>
<rect x="324.60" y="109.76" width="5.25" height="11.96" fill="rgb(111,12,10)"/>
<rect x="329.81" y="109.76" width="5.25" height="11.96" fill="rgb(111,12,10)"/>
<rect x="335.01" y="109.76" width="5.25" height="11.96" fill="rgb(25,5,10)"/>
<rect x="340.22" y="109.76" width="5.25" height="11.96" fill="rgb(30,0,10)"/>
<rect x="345.42" y="109.76" width="5.25" height="11.96" fill="rgb(55,150,30)"/>
<rect x="350.62" y="109.76" width="5.25" height="11.96" fill="rgb(50,140,30)"/>
<rect x="355.83" y="109.76" width="5.25" height="11.96" fill="rgb(45,130,28)"/>
<rect x="12.30" y="121.67" width="5.25" height="11.96" fill="rgb(51,154,30)"/>
<rect x="17.51" y="121.67" width="5.25" height="11.96" fill="rgb(50,150,30)"/>
<rect x="22.71" y="121.67" width="5.25" height="11.96" fill="rgb(50,151,30)"/>
<rect x="27.91" y="121.67" width="5.25" height="11.96" fill="rgb(50,151,30)"/>
<rect x="33.12" y="121.67" width="5.25" height="11.96" fill="rgb(50,152,30)"/>
<rect x="38.33" y="121.67" width="5.25" height="11.96" fill="rgb(49,149,29)"/>
<rect x="43.53" y="121.67" width="5.25" height="11.96" fill="rgb(48,144,28)"/>
<rect x="48.73" y="121.67" width="5.25" height="11.96" fill="rgb(51,153,30)"/>
<rect x="53.94" y="121.67" width="5.25" height="11.96" fill="rgb(50,152,30)"/>
<rect x="59.14" y="121.67" width="5.25" height="11.96" fill="rgb(50,150,30)"/>
<rect x="64.35" y="121.67" width="5.25" height="11.96" fill="rgb(50,150,30)"/>
<rect x="69.56" y="121.67" width="5.25" height="11.96" fill="rgb(50,151,30)"/>
<rect x="74.76" y="121.67" width="5.25" height="11.96" fill="rgb(48,144,28)"/>
<rect x="79.97" y="121.67" width="5.25" height="11.96" fill="rgb(50,152,30)"/>
<rect x="85.17" y="121.67" width="5.25" height="11.96" fill="rgb(49,147,29)"/>
<rect x="90.38" y="121.67" width="5.25" height="11.96" fill="rgb(48,144,28)"/>
<rect x="95.58" y="121.67" width="5.25" height="11.96" fill="rgb(49,147,29)"/>
<rect x="100.78" y="121.67" width="5.25" height="11.96" fill="rgb(50,152,30)"/>
<rect x="105.99" y="121.67" width="5.25" height="11.96" fill="rgb(45,125,25)"/>
<rect x="111.19" y="121.67" width="5.25" height="11.96" fill="rgb(45,135,25)"/>
<rect x="116.40" y="121.67" width="5.25" height="11.96" fill="rgb(50,140,30)"/>
<rect x="121.61" y="121.67" width="5.25" height="11.96" fill="rgb(159,19,11)"/>
<rect x="126.81" y="121.67" width="5.25" height="11.96" fill="rgb(158,19,11)"/>
<rect x="132.02" y="121.67" width="5.25" height="11.96" fill="rgb(159,19,11)"/>
<rect x="137.22" y="121.67" width="5.25" height="11.96" fill="rgb(162,20,12)"/>
<rect x="142.43" y="121.67" width="5.25" height="11.96" fill="rgb(163,20,12)"/>
<rect x="147.63" y="121.67" width="5.25" height="11.96" fill="rgb(161,20,12)"/>
<rect x="152.84" y="121.67" width="5.25" height="11.96" fill="rgb(161,20,12)"/>
<rect x="158.04" y="121.67" width="5.25" height="11.96" fill="rgb(154,19,11)"/>
<rect x="163.25" y="121.67" width="5.25" height="11.96" fill="rgb(155,19,11)"/>
<rect x="168.45" y="121.67" width="5.25" height="11.96" fill="rgb(156,19,11)"/>
<rect x="173.66" y="121.67" width="5.25" height="11.96" fill="rgb(163,20,12)"/>
<rect x="178.86" y="121.67" width="5.25" height="11.96" fill="rgb(157,19,11)"/>
<rect x="184.07" y="121.67" width="5.25" height="11.96" fill="rgb(160,20,12)"/>
<rect x="189.27" y="121.67" width="5.25" height="11.96" fill="rgb(153,19,11)"/>
<rect x="194.48" y="121.67" width="5.25" height="11.96" fill="rgb(154,19,11)"/>
<rect x="199.68" y="121.67" width="5.25" height="11.96" fill="rgb(157,19,11)"/>
<rect x="204.89" y="121.67" width="5.25" height="11.96" fill="rgb(162,20,12)"/>
<rect x="210.09" y="121.67" width="5.25" height="11.96" fill="rgb(162,20,12)"/>
<rect x="215.30" y="121.67" width="5.25" height="11.96" fill="rgb(162,20,12)"/>
<rect x="220.50" y="121.67" width="5.25" height="11.96" fill="rgb(157,19,11)"/>
<rect x="225.71" y="121.67" width="5.25" height="11.96" fill="rgb(160,20,12)"/>
<rect x="230.91" y="121.67" width="5.25" height="11.96" fill="rgb(159,19,11)"/>
<rect x="236.12" y="121.67" width="5.25" height="11.96" fill="rgb(159,19,11)"/>
<rect x="241.32" y="121.67" width="5.25" height="11.96" fill="rgb(155,19,11)"/>
<rect x="246.53" y="121.67" width="5.25" height="11.96" fill="rgb(165,20,12)"/>
<rect x="251.73" y="121.67" width="5.25" height="11.96" fill="rgb(156,19,11)"/>
<rect x="256.94" y="121.67" width="5.25" height="11.96" fill="rgb(166,20,12)"/>
<rect x="262.14" y="121.67" width="5.25" height="11.96" fill="rgb(165,20,12)"/>
<rect x="267.35" y="121.67" width="5.25" height="11.96" fill="rgb(153,19,11)"/>
<rect x="272.55" y="121.67" width="5.25" height="11.96" fill="rgb(159,19,11)"/>
<rect x="277.75" y="121.67" width="5.25" height="11.96" fill="rgb(164,20,12)"/>
<rect x="282.96" y="121.67" width="5.25" height="11.96" fill="rgb(165,20,12)"/>
<rect x="288.17" y="121.67" width="5.25" height="11.96" fill="rgb(159,19,11)"/>
<rect x="293.37" y="121.67" width="5.25" height="11.96" fill="rgb(157,19,11)"/>
<rect x="298.57" y="121.67" width="5.25" height="11.96" fill="rgb(156,19,11)"/>
<rect x="303.78" y="121.67" width="5.25" height="11.96" fill="rgb(165,20,12)"/>
<rect x="308.99" y="121.67" width="5.25" height="11.96" fill="rgb(156,19,11)"/>
<rect x="314.19" y="121.67" width="5.25" height="11.96" fill="rgb(161,20,12)"/>
<rect x="319.40" y="121.67" width="5.25" height="11.96" fill="rgb(155,19,11)"/>
<rect x="324.60" y="121.67" width="5.25" height="11.96" fill="rgb(160,20,12)"/>
<rect x="329.81" y="121.67" width="5.25" height="11.96" fill="rgb(165,20,12)"/>
<rect x="335.01" y="121.67" width="5.25" height="11.96" fill="rgb(155,18,12)"/>
<rect x="340.22" y="121.67" width="5.25" height="11.96" fill="rgb(155,18,12)"/>
<rect x="345.42" y="121.67" width="5.25" height="11.96" fill="rgb(105,10,10)"/>
<rect x="350.62" y="121.67" width="5.25" height="11.96" fill="rgb(125,12,10)"/>
<rect x="355.83" y="121.67" width="5.25" height="11.96" fill="rgb(115,12,10)"/>
<rect x="12.30" y="133.58" width="5.25" height="11.96" fill="rgb(48,146,29)"/>
<rect x="17.51" y="133.58" width="5.25" height="11.96" fill="rgb(51,154,30)"/>
<rect x="22.71" y="133.58" width="5.25" height="11.96" fill="rgb(49,149,29)"/>
<rect x="27.91" y="133.58" width="5.25" height="11.96" fill="rgb(48,144,28)"/>
<rect x="33.12" y="133.58" width="5.25" height="11.96" fill="rgb(48,144,28)"/>
<rect x="38.33" y="133.58" width="5.25" height="11.96" fill="rgb(49,149,29)"/>
<rect x="43.53" y="133.58" width="5.25" height="11.96" fill="rgb(49,149,29)"/>
<rect x="48.73" y="133.58" width="5.25" height="11.96" fill="rgb(49,147,29)"/>
<rect x="53.94" y="133.58" width="5.25" height="11.96" fill="rgb(48,145,29)"/>
<rect x="59.14" y="133.58" width="5.25" height="11.96" fill="rgb(49,148,29)"/>
<rect x="64.35" y="133.58" width="5.25" height="11.96" fill="rgb(49,147,29)"/>
<rect x="69.56" y="133.58" width="5.25" height="11.96" fill="rgb(51,154,30)"/>
<rect x="74.76" y="133.58" width="5.25" height="11.96" fill="rgb(48,144,28)"/>
<rect x="79.97" y="133.58" width="5.25" height="11.96" fill="rgb(51,153,30)"/>
<rect x="85.17" y="133.58" width="5.25" height="11.96" fill="rgb(51,154,30)"/>
<rect x="90.38" y="133.58" width="5.25" height="11.96" fill="rgb(48,145,29)"/>
<rect x="95.58" y="133.58" width="5.25" height="11.96" fill="rgb(51,155,31)"/>
<rect x="100.78" y="133.58" width="5.25" height="11.96" fill="rgb(50,152,30)"/>
<rect x="105.99" y="133.58" width="5.25" height="11.96" fill="rgb(25,70,15)"/>
<rect x="111.19" y="133.58" width="5.25" height="11.96" fill="rgb(35,100,20)"/>
<rect x="116.40" y="133.58" width="5.25" height="11.96" fill="rgb(40,115,25)"/>
<rect x="121.61" y="133.58" width="5.25" height="11.96" fill="rgb(176,23,13)"/>
<rect x="126.81" y="133.58" width="5.25" height="11.96" fill="rgb(185,24,14)"/>
<rect x="132.02" y="133.58" width="5.25" height="11.96" fill="rgb(179,24,14)"/>
<rect x="137.22" y="133.58" width="5.25" height="11.96" fill="rgb(176,23,13)"/>
<rect x="142.43" y="133.58" width="5.25" height="11.96" fill="rgb(176,23,13)"/>
<rect x="147.63" y="133.58" width="5.25" height="11.96" fill="rgb(174,23,13)"/>
<rect x="152.84" y="133.58" width="5.25" height="11.96" fill="rgb(171,23,13)"/>
<rect x="158.04" y="133.58" width="5.25" height="11.96" fill="rgb(172,23,13)"/>
<rect x="163.25" y="133.58" width="5.25" height="11.96" fill="rgb(182,24,14)"/>
<rect x="168.45" y="133.58" width="5.25" height="11.96" fill="rgb(174,23,13)"/>
<rect x="173.66" y="133.58" width="5.25" height="11.96" fill="rgb(184,24,14)"/>
<rect x="178.86" y="133.58" width="5.25" height="11.96" fill="rgb(174,23,13)"/>
<rect x="184.07" y="133.58" width="5.25" height="11.96" fill="rgb(174,23,13)"/>
<rect x="189.27" y="133.58" width="5.25" height="11.96" fill="rgb(178,24,14)"/>
<rect x="194.48" y="133.58" width="5.25" height="11.96" fill="rgb(173,23,13)"/>
<rect x="199.68" y="133.58" width="5.25" height="11.96" fill="rgb(176,23,13)"/>
<rect x="204.89" y="133.58" width="5.25" height="11.96" fill="rgb(184,24,14)"/>
<rect x="210.09" y="133.58" width="5.25" height="11.96" fill="rgb(183,24,14)"/>
<rect x="215.30" y="133.58" width="5.25" height="11.96" fill="rgb(182,24,14)"/>
<rect x="220.50" y="133.58" width="5.25" height="11.96" fill="rgb(179,24,14)"/>
<rect x="225.71" y="133.58" width="5.25" height="11.96" fill="rgb(183,24,14)"/>
<rect x="230.91" y="133.58" width="5.25" height="11.96" fill="rgb(184,24,14)"/>
<rect x="236.12" y="133.58" width="5.25" height="11.96" fill="rgb(178,24,14)"/>
<rect x="241.32" y="133.58" width="5.25" height="11.96" fill="rgb(181,24,14)"/>
<rect x="246.53" y="133.58" width="5.25" height="11.96" fill="rgb(171,23,13)"/>
<rect x="251.73" y="133.58" width="5.25" height="11.96" fill="rgb(181,24,14)"/>
<rect x="256.94" y="133.58" width="5.25" height="11.96" fill="rgb(177,23,13)"/>
<rect x="262.14" y="133.58" width="5.25" height="11.96" fill="rgb(181,24,14)"/>
<rect x="267.35" y="133.58" width="5.25" height="11.96" fill="rgb(180,24,14)"/>
<rect x="272.55" y="133.58" width="5.25" height="11.96" fill="rgb(174,23,13)"/>
<rect x="277.75" y="133.58" width="5.25" height="11.96" fill="rgb(171,23,13)"/>
<rect x="282.96" y="133.58" width="5.25" height="11.96" fill="rgb(184,24,14)"/>
<rect x="288.17" y="133.58" width="5.25" height="11.96" fill="rgb(172,23,13)"/>
<rect x="293.37" y="133.58" width="5.25" height="11.96" fill="rgb(177,23,13)"/>
<rect x="298.57" y="133.58" width="5.25" height="11.96" fill="rgb(175,23,13)"/>
<rect x="303.78" y="133.58" width="5.25" height="11.96" fill="rgb(175,23,13)"/>
<rect x="308.99" y="133.58" width="5.25" height="11.96" fill="rgb(181,24,14)"/>
<rect x="314.19" y="133.58" width="5.25" height="11.96" fill="rgb(184,24,14)"/>
<rect x="319.40" y="133.58" width="5.25" height="11.96" fill="rgb(174,23,13)"/>
<rect x="324.60" y="133.58" width="5.25" height="11.96" fill="rgb(180,24,14)"/>
<rect x="329.81" y="133.58" width="5.25" height="11.96" fill="rgb(175,23,13)"/>
<rect x="335.01" y="133.58" width="5.25" height="11.96" fill="rgb(200,28,15)"/>
<rect x="340.22" y="133.58" width="5.25" height="11.96" fill="rgb(200,28,15)"/>
<rect x="345.42" y="133.58" width="5.25" height="11.96" fill="rgb(200,28,15)"/>
<rect x="350.62" y="133.58" width="5.25" height="11.96" fill="rgb(200,28,15)"/>
<rect x="355.83" y="133.58" width="5.25" height="11.96" fill="rgb(200,28,15)"/>
<rect x="12.30" y="145.49" width="5.25" height="11.96" fill="rgb(51,154,30)"/>
<rect x="17.51" y="145.49" width="5.25" height="11.96" fill="rgb(49,149,29)"/>
<rect x="22.71" y="145.49" width="5.25" height="11.96" fill="rgb(48,146,29)"/>
<rect x="27.91" y="145.49" width="5.25" height="11.96" fill="rgb(51,154,30)"/>
<rect x="33.12" y="145.49" width="5.25" height="11.96" fill="rgb(51,155,31)"/>
<rect x="38.33" y="145.49" width="5.25" height="11.96" fill="rgb(49,149,29)"/>
<rect x="43.53" y="145.49" width="5.25" height="11.96" fill="rgb(48,145,29)"/>
<rect x="48.73" y="145.49" width="5.25" height="11.96" fill="rgb(48,146,29)"/>
<rect x="53.94" y="145.49" width="5.25" height="11.96" fill="rgb(48,145,29)"/>
<rect x="59.14" y="145.49" width="5.25" height="11.96" fill="rgb(49,148,29)"/>
<rect x="64.35" y="145.49" width="5.25" height="11.96" fill="rgb(48,145,29)"/>
<rect x="69.56" y="145.49" width="5.25" height="11.96" fill="rgb(48,146,29)"/>
<rect x="74.76" y="145.49" width="5.25" height="11.96" fill="rgb(49,147,29)"/>
<rect x="79.97" y="145.49" width="5.25" height="11.96" fill="rgb(50,150,30)"/>
<rect x="85.17" y="145.49" width="5.25" height="11.96" fill="rgb(51,154,30)"/>
<rect x="90.38" y="145.49" width="5.25" height="11.96" fill="rgb(50,152,30)"/>
<rect x="95.58" y="145.49" width="5.25" height="11.96" fill="rgb(49,148,29)"/>
<rect x="100.78" y="145.49" width="5.25" height="11.96" fill="rgb(49,148,29)"/>
<rect x="105.99" y="145.49" width="5.25" height="11.96" fill="rgb(30,0,10)"/>
<rect x="111.19" y="145.49" width="5.25" height="11.96" fill="rgb(5,40,5)"/>
<rect x="116.40" y="145.49" width="5.25" height="11.96" fill="rgb(25,85,15)"/>
<rect x="121.61" y="145.49" width="5.25" height="11.96" fill="rgb(210,30,20)"/>
<rect x="126.81" y="145.49" width="5.25" height="11.96" fill="rgb(186,27,14)"/>
<rect x="132.02" y="145.49" width="5.25" height="11.96" fill="rgb(197,29,15)"/>
<rect x="137.22" y="145.49" width="5.25" height="11.96" fill="rgb(184,27,14)"/>
<rect x="142.43" y="145.49" width="5.25" height="11.96" fill="rgb(190,28,15)"/>
<rect x="147.63" y="145.49" width="5.25" height="11.96" fill="rgb(191,28,15)"/>
<rect x="152.84" y="145.49" width="5.25" height="11.96" fill="rgb(195,28,15)"/>
<rect x="158.04" y="145.49" width="5.25" height="11.96" fill="rgb(185,27,14)"/>
<rect x="163.25" y="145.49" width="5.25" height="11.96" fill="rgb(186,27,14)"/>
<rect x="168.45" y="145.49" width="5.25" height="11.96" fill="rgb(186,27,14)"/>
<rect x="173.66" y="145.49" width="5.25" height="11.96" fill="rgb(188,27,14)"/>
<rect x="178.86" y="145.49" width="5.25" height="11.96" fill="rgb(189,27,14)"/>
<rect x="184.07" y="145.49" width="5.25" height="11.96" fill="rgb(196,29,15)"/>
<rect x="189.27" y="145.49" width="5.25" height="11.96" fill="rgb(195,28,15)"/>
<rect x="194.48" y="145.49" width="5.25" height="11.96" fill="rgb(195,28,15)"/>
<rect x="199.68" y="145.49" width="5.25" height="11.96" fill="rgb(182,26,14)"/>
<rect x="204.89" y="145.49" width="5.25" height="11.96" fill="rgb(182,26,14)"/>
<rect x="210.09" y="145.49" width="5.25" height="11.96" fill="rgb(193,28,15)"/>
<rect x="215.30" y="145.49" width="5.25" height="11.96" fill="rgb(196,28,15)"/>
<rect x="220.50" y="145.49" width="5.25" height="11.96" fill="rgb(189,27,14)"/>
<rect x="225.71" y="145.49" width="5.25" height="11.96" fill="rgb(191,28,15)"/>
<rect x="230.91" y="145.49" width="5.25" height="11.96" fill="rgb(182,26,14)"/>
<rect x="236.12" y="145.49" width="5.25" height="11.96" fill="rgb(188,27,14)"/>
<rect x="241.32" y="145.49" width="5.25" height="11.96" fill="rgb(196,28,15)"/>
<rect x="246.53" y="145.49" width="5.25" height="11.96" fill="rgb(194,28,15)"/>
<rect x="251.73" y="145.49" width="5.25" height="11.96" fill="rgb(195,28,15)"/>
<rect x="256.94" y="145.49" width="5.25" height="11.96" fill="rgb(197,29,15)"/>
<rect x="262.14" y="145.49" width="5.25" height="11.96" fill="rgb(186,27,14)"/>
<rect x="267.35" y="145.49" width="5.25" height="11.96" fill="rgb(184,27,14)"/>
<rect x="272.55" y="145.49" width="5.25" height="11.96" fill="rgb(184,27,14)"/>
<rect x="277.75" y="145.49" width="5.25" height="11.96" fill="rgb(190,28,15)"/>
<rect x="282.96" y="145.49" width="5.25" height="11.96" fill="rgb(192,28,15)"/>
<rect x="288.17" y="145.49" width="5.25" height="11.96" fill="rgb(196,28,15)"/>
<rect x="293.37" y="145.49" width="5.25" height="11.96" fill="rgb(193,28,15)"/>
<rect x="298.57" y="145.49" width="5.25" height="11.96" fill="rgb(192,28,15)"/>
<rect x="303.78" y="145.49" width="5.25" height="11.96" fill="rgb(194,28,15)"/>
<rect x="308.99" y="145.49" width="5.25" height="11.96" fill="rgb(189,27,14)"/>
<rect x="314.19" y="145.49" width="5.25" height="11.96" fill="rgb(190,28,15)"/>
<rect x="319.40" y="145.49" width="5.25" height="11.96" fill="rgb(183,26,14)"/>
<rect x="324.60" y="145.49" width="5.25" height="11.96" fill="rgb(194,28,15)"/>
<rect x="329.81" y="145.49" width="5.25" height="11.96" fill="rgb(185,27,14)"/>
<rect x="335.01" y="145.49" width="5.25" height="11.96" fill="rgb(225,35,20)"/>
<rect x="340.22" y="145.49" width="5.25" height="11.96" fill="rgb(225,35,20)"/>
<rect x="345.42" y="145.49" width="5.25" height="11.96" fill="rgb(255,30,15)"/>
<rect x="350.62" y="145.49" width="5.25" height="11.96" fill="rgb(255,30,15)"/>
<rect x="355.83" y="145.49" width="5.25" height="11.96" fill="rgb(250,30,15)"/>
<path d="M17.51 38.30V157.40M22.71 38.30V157.40M27.91 38.30V157.40M33.12 38.30V157.40M38.33 38.30V157.40M43.53 38.30V157.40M48.73 38.30V157.40M53.94 38.30V157.40M59.14 38.30V157.40M64.35 38.30V157.40M69.56 38.30V157.40M74.76 38.30V157.40M79.97 38.30V157.40M85.17 38.30V157.40M90.38 38.30V157.40M95.58 38.30V157.40M100.78 38.30V157.40M105.99 38.30V157.40M111.19 38.30V157.40M116.40 38.30V157.40M121.61 38.30V157.40M126.81 38.30V157.40M132.02 38.30V157.40M137.22 38.30V157.40M142.43 38.30V157.40M147.63 38.30V157.40M152.84 38.30V157.40M158.04 38.30V157.40M163.25 38.30V157.40M168.45 38.30V157.40M173.66 38.30V157.40M178.86 38.30V157.40M184.07 38.30V157.40M189.27 38.30V157.40M194.48 38.30V157.40M199.68 38.30V157.40M204.89 38.30V157.40M210.09 38.30V157.40M215.30 38.30V157.40M220.50 38.30V157.40M225.71 38.30V157.40M230.91 38.30V157.40M236.12 38.30V157.40M241.32 38.30V157.40M246.53 38.30V157.40M251.73 38.30V157.40M256.94 38.30V157.40M262.14 38.30V157.40M267.35 38.30V157.40M272.55 38.30V157.40M277.75 38.30V157.40M282.96 38.30V157.40M288.17 38.30V157.40M293.37 38.30V157.40M298.57 38.30V157.40M303.78 38.30V157.40M308.99 38.30V157.40M314.19 38.30V157.40M319.40 38.30V157.40M324.60 38.30V157.40M329.81 38.30V157.40M335.01 38.30V157.40M340.22 38.30V157.40M345.42 38.30V157.40M350.62 38.30V157.40M355.83 38.30V157.40M12.30 50.21H361.04M12.30 62.12H361.04M12.30 74.03H361.04M12.30 85.94H361.04M12.30 97.85H361.04M12.30 109.76H361.04M12.30 121.67H361.04M12.30 133.58H361.04M12.30 145.49H361.04" stroke="rgba(195,195,195,0.45)" stroke-width="0.50" fill="none"/>
<rect x="362.2" y="38.30" width="3.5" height="11.91" fill="rgb(240,250,175)"/>
<rect x="362.2" y="50.21" width="3.5" height="11.91" fill="rgb(240,250,175)"/>
<rect x="362.2" y="62.12" width="3.5" height="11.91" fill="rgb(240,250,175)"/>
<rect x="362.2" y="74.03" width="3.5" height="11.91" fill="rgb(240,250,175)"/>
<rect x="362.2" y="85.94" width="3.5" height="11.91" fill="rgb(240,250,175)"/>
<rect x="362.2" y="97.85" width="3.5" height="11.91" fill="rgb(100,250,60)"/>
<rect x="362.2" y="109.76" width="3.5" height="11.91" fill="rgb(100,250,60)"/>
<rect x="362.2" y="121.67" width="3.5" height="11.91" fill="rgb(100,250,60)"/>
<rect x="362.2" y="133.58" width="3.5" height="11.91" fill="rgb(100,250,60)"/>
<rect x="362.2" y="145.49" width="3.5" height="11.91" fill="rgb(100,250,60)"/>
<path d="M362.2 50.21H365.7M362.2 62.12H365.7M362.2 74.03H365.7M362.2 85.94H365.7M362.2 97.85H365.7M362.2 109.76H365.7M362.2 121.67H365.7M362.2 133.58H365.7M362.2 145.49H365.7" stroke="rgba(170,170,150,0.7)" stroke-width="0.5"/>
<rect x="362.2" y="38.30" width="3.5" height="119.10" fill="none" stroke="rgba(150,150,150,0.7)" stroke-width="0.4"/>
<path d="M78.8 37.3V19H270.6V37" stroke="#484848" stroke-width="0.8" fill="none"/>
<path d="M45 37.5H112.4M195.3 37.2H346.2" stroke="#999" stroke-width="0.7" fill="none"/>
<path d="M340 37.6H352" stroke="#aaa" stroke-width="1" fill="none"/>
<path d="M368 63.4H384.3V123.4H368.7" stroke="#484848" stroke-width="0.8" fill="none"/>
<path d="M366 44.5H367V56H366M367 50H367.8V80H366.3M367.8 63.4H368.2M366 68H366.6V92H366M368.7 109.4V136.8M368.7 109.4H367.5V104H366M367.5 109.4V116H366M368.7 136.8H367.4V128H366M367.4 136.8V146H366.5V140H366M366.5 146V152H366" stroke="#777" stroke-width="0.5" fill="none"/>
<rect x="12.90" y="275.90" width="5.56" height="12.13" fill="rgb(126,12,10)"/>
<rect x="18.41" y="275.90" width="5.56" height="12.13" fill="rgb(126,12,10)"/>
<rect x="23.92" y="275.90" width="5.56" height="12.13" fill="rgb(121,11,9)"/>
<rect x="29.43" y="275.90" width="5.56" height="12.13" fill="rgb(120,11,9)"/>
<rect x="34.94" y="275.90" width="5.56" height="12.13" fill="rgb(125,12,10)"/>
<rect x="40.45" y="275.90" width="5.56" height="12.13" fill="rgb(125,12,10)"/>
<rect x="45.96" y="275.90" width="5.56" height="12.13" fill="rgb(123,11,9)"/>
<rect x="51.47" y="275.90" width="5.56" height="12.13" fill="rgb(122,11,9)"/>
<rect x="56.98" y="275.90" width="5.56" height="12.13" fill="rgb(126,12,10)"/>
<rect x="62.49" y="275.90" width="5.56" height="12.13" fill="rgb(120,11,9)"/>
<rect x="68.00" y="275.90" width="5.56" height="12.13" fill="rgb(123,11,9)"/>
<rect x="73.51" y="275.90" width="5.56" height="12.13" fill="rgb(124,11,9)"/>
<rect x="79.02" y="275.90" width="5.56" height="12.13" fill="rgb(129,12,10)"/>
<rect x="84.53" y="275.90" width="5.56" height="12.13" fill="rgb(126,12,10)"/>
<rect x="90.04" y="275.90" width="5.56" height="12.13" fill="rgb(128,12,10)"/>
<rect x="95.55" y="275.90" width="5.56" height="12.13" fill="rgb(124,11,9)"/>
<rect x="101.06" y="275.90" width="5.56" height="12.13" fill="rgb(122,11,9)"/>
<rect x="106.57" y="275.90" width="5.56" height="12.13" fill="rgb(122,11,9)"/>
<rect x="112.08" y="275.90" width="5.56" height="12.13" fill="rgb(129,12,10)"/>
<rect x="117.59" y="275.90" width="5.56" height="12.13" fill="rgb(127,12,10)"/>
<rect x="123.10" y="275.90" width="5.56" height="12.13" fill="rgb(123,11,9)"/>
<rect x="128.61" y="275.90" width="5.56" height="12.13" fill="rgb(120,11,9)"/>
<rect x="134.12" y="275.90" width="5.56" height="12.13" fill="rgb(124,11,9)"/>
<rect x="139.63" y="275.90" width="5.56" height="12.13" fill="rgb(126,12,10)"/>
<rect x="145.14" y="275.90" width="5.56" height="12.13" fill="rgb(124,11,9)"/>
<rect x="150.65" y="275.90" width="5.56" height="12.13" fill="rgb(75,5,8)"/>
<rect x="156.16" y="275.90" width="5.56" height="12.13" fill="rgb(95,8,10)"/>
<rect x="161.67" y="275.90" width="5.56" height="12.13" fill="rgb(105,8,8)"/>
<rect x="167.18" y="275.90" width="5.56" height="12.13" fill="rgb(110,8,8)"/>
<rect x="172.69" y="275.90" width="5.56" height="12.13" fill="rgb(140,15,10)"/>
<rect x="178.20" y="275.90" width="5.56" height="12.13" fill="rgb(135,14,10)"/>
<rect x="183.71" y="275.90" width="5.56" height="12.13" fill="rgb(140,15,10)"/>
<rect x="189.22" y="275.90" width="5.56" height="12.13" fill="rgb(60,170,35)"/>
<rect x="194.73" y="275.90" width="5.56" height="12.13" fill="rgb(48,146,29)"/>
<rect x="200.24" y="275.90" width="5.56" height="12.13" fill="rgb(51,153,30)"/>
<rect x="205.75" y="275.90" width="5.56" height="12.13" fill="rgb(50,152,30)"/>
<rect x="211.26" y="275.90" width="5.56" height="12.13" fill="rgb(50,150,30)"/>
<rect x="216.77" y="275.90" width="5.56" height="12.13" fill="rgb(48,146,29)"/>
<rect x="222.28" y="275.90" width="5.56" height="12.13" fill="rgb(51,155,31)"/>
<rect x="227.79" y="275.90" width="5.56" height="12.13" fill="rgb(49,147,29)"/>
<rect x="233.30" y="275.90" width="5.56" height="12.13" fill="rgb(51,153,30)"/>
<rect x="238.81" y="275.90" width="5.56" height="12.13" fill="rgb(48,146,29)"/>
<rect x="244.32" y="275.90" width="5.56" height="12.13" fill="rgb(48,146,29)"/>
<rect x="249.83" y="275.90" width="5.56" height="12.13" fill="rgb(51,153,30)"/>
<rect x="255.34" y="275.90" width="5.56" height="12.13" fill="rgb(49,147,29)"/>
<rect x="260.85" y="275.90" width="5.56" height="12.13" fill="rgb(51,155,31)"/>
<rect x="266.36" y="275.90" width="5.56" height="12.13" fill="rgb(49,149,29)"/>
<rect x="271.87" y="275.90" width="5.56" height="12.13" fill="rgb(48,146,29)"/>
<rect x="277.38" y="275.90" width="5.56" height="12.13" fill="rgb(48,146,29)"/>
<rect x="282.89" y="275.90" width="5.56" height="12.13" fill="rgb(49,149,29)"/>
<rect x="288.40" y="275.90" width="5.56" height="12.13" fill="rgb(50,151,30)"/>
<rect x="293.91" y="275.90" width="5.56" height="12.13" fill="rgb(51,155,31)"/>
<rect x="299.42" y="275.90" width="5.56" height="12.13" fill="rgb(48,145,29)"/>
<rect x="304.93" y="275.90" width="5.56" height="12.13" fill="rgb(49,148,29)"/>
<rect x="310.44" y="275.90" width="5.56" height="12.13" fill="rgb(48,146,29)"/>
<rect x="315.95" y="275.90" width="5.56" height="12.13" fill="rgb(51,155,31)"/>
<rect x="321.46" y="275.90" width="5.56" height="12.13" fill="rgb(60,170,35)"/>
<rect x="326.97" y="275.90" width="5.56" height="12.13" fill="rgb(48,144,28)"/>
<rect x="332.48" y="275.90" width="5.56" height="12.13" fill="rgb(48,144,28)"/>
<rect x="337.99" y="275.90" width="5.56" height="12.13" fill="rgb(49,148,29)"/>
<rect x="343.50" y="275.90" width="5.56" height="12.13" fill="rgb(51,154,30)"/>
<rect x="349.01" y="275.90" width="5.56" height="12.13" fill="rgb(51,154,30)"/>
<rect x="354.52" y="275.90" width="5.56" height="12.13" fill="rgb(50,152,30)"/>
<rect x="12.90" y="287.98" width="5.56" height="12.13" fill="rgb(135,12,10)"/>
<rect x="18.41" y="287.98" width="5.56" height="12.13" fill="rgb(134,12,10)"/>
<rect x="23.92" y="287.98" width="5.56" height="12.13" fill="rgb(128,11,9)"/>
<rect x="29.43" y="287.98" width="5.56" height="12.13" fill="rgb(126,11,9)"/>
<rect x="34.94" y="287.98" width="5.56" height="12.13" fill="rgb(134,12,10)"/>
<rect x="40.45" y="287.98" width="5.56" height="12.13" fill="rgb(132,12,10)"/>
<rect x="45.96" y="287.98" width="5.56" height="12.13" fill="rgb(125,11,9)"/>
<rect x="51.47" y="287.98" width="5.56" height="12.13" fill="rgb(131,12,10)"/>
<rect x="56.98" y="287.98" width="5.56" height="12.13" fill="rgb(128,11,9)"/>
<rect x="62.49" y="287.98" width="5.56" height="12.13" fill="rgb(128,11,9)"/>
<rect x="68.00" y="287.98" width="5.56" height="12.13" fill="rgb(128,11,9)"/>
<rect x="73.51" y="287.98" width="5.56" height="12.13" fill="rgb(126,11,9)"/>
<rect x="79.02" y="287.98" width="5.56" height="12.13" fill="rgb(124,11,9)"/>
<rect x="84.53" y="287.98" width="5.56" height="12.13" fill="rgb(127,11,9)"/>
<rect x="90.04" y="287.98" width="5.56" height="12.13" fill="rgb(128,11,9)"/>
<rect x="95.55" y="287.98" width="5.56" height="12.13" fill="rgb(134,12,10)"/>
<rect x="101.06" y="287.98" width="5.56" height="12.13" fill="rgb(126,11,9)"/>
<rect x="106.57" y="287.98" width="5.56" height="12.13" fill="rgb(134,12,10)"/>
<rect x="112.08" y="287.98" width="5.56" height="12.13" fill="rgb(126,11,9)"/>
<rect x="117.59" y="287.98" width="5.56" height="12.13" fill="rgb(128,11,9)"/>
<rect x="123.10" y="287.98" width="5.56" height="12.13" fill="rgb(133,12,10)"/>
<rect x="128.61" y="287.98" width="5.56" height="12.13" fill="rgb(133,12,10)"/>
<rect x="134.12" y="287.98" width="5.56" height="12.13" fill="rgb(129,11,9)"/>
<rect x="139.63" y="287.98" width="5.56" height="12.13" fill="rgb(125,11,9)"/>
<rect x="145.14" y="287.98" width="5.56" height="12.13" fill="rgb(129,11,9)"/>
<rect x="150.65" y="287.98" width="5.56" height="12.13" fill="rgb(120,10,10)"/>
<rect x="156.16" y="287.98" width="5.56" height="12.13" fill="rgb(120,10,10)"/>
<rect x="161.67" y="287.98" width="5.56" height="12.13" fill="rgb(120,10,10)"/>
<rect x="167.18" y="287.98" width="5.56" height="12.13" fill="rgb(120,10,10)"/>
<rect x="172.69" y="287.98" width="5.56" height="12.13" fill="rgb(134,12,10)"/>
<rect x="178.20" y="287.98" width="5.56" height="12.13" fill="rgb(125,11,9)"/>
<rect x="183.71" y="287.98" width="5.56" height="12.13" fill="rgb(129,11,9)"/>
<rect x="189.22" y="287.98" width="5.56" height="12.13" fill="rgb(45,130,28)"/>
<rect x="194.73" y="287.98" width="5.56" height="12.13" fill="rgb(51,153,30)"/>
<rect x="200.24" y="287.98" width="5.56" height="12.13" fill="rgb(48,144,28)"/>
<rect x="205.75" y="287.98" width="5.56" height="12.13" fill="rgb(48,144,28)"/>
<rect x="211.26" y="287.98" width="5.56" height="12.13" fill="rgb(48,144,28)"/>
<rect x="216.77" y="287.98" width="5.56" height="12.13" fill="rgb(51,155,31)"/>
<rect x="222.28" y="287.98" width="5.56" height="12.13" fill="rgb(49,147,29)"/>
<rect x="227.79" y="287.98" width="5.56" height="12.13" fill="rgb(50,152,30)"/>
<rect x="233.30" y="287.98" width="5.56" height="12.13" fill="rgb(51,154,30)"/>
<rect x="238.81" y="287.98" width="5.56" height="12.13" fill="rgb(49,148,29)"/>
<rect x="244.32" y="287.98" width="5.56" height="12.13" fill="rgb(49,147,29)"/>
<rect x="249.83" y="287.98" width="5.56" height="12.13" fill="rgb(51,155,31)"/>
<rect x="255.34" y="287.98" width="5.56" height="12.13" fill="rgb(50,151,30)"/>
<rect x="260.85" y="287.98" width="5.56" height="12.13" fill="rgb(49,147,29)"/>
<rect x="266.36" y="287.98" width="5.56" height="12.13" fill="rgb(50,152,30)"/>
<rect x="271.87" y="287.98" width="5.56" height="12.13" fill="rgb(49,147,29)"/>
<rect x="277.38" y="287.98" width="5.56" height="12.13" fill="rgb(49,147,29)"/>
<rect x="282.89" y="287.98" width="5.56" height="12.13" fill="rgb(48,144,28)"/>
<rect x="288.40" y="287.98" width="5.56" height="12.13" fill="rgb(51,153,30)"/>
<rect x="293.91" y="287.98" width="5.56" height="12.13" fill="rgb(51,154,30)"/>
<rect x="299.42" y="287.98" width="5.56" height="12.13" fill="rgb(50,151,30)"/>
<rect x="304.93" y="287.98" width="5.56" height="12.13" fill="rgb(51,155,31)"/>
<rect x="310.44" y="287.98" width="5.56" height="12.13" fill="rgb(48,144,28)"/>
<rect x="315.95" y="287.98" width="5.56" height="12.13" fill="rgb(48,146,29)"/>
<rect x="321.46" y="287.98" width="5.56" height="12.13" fill="rgb(49,149,29)"/>
<rect x="326.97" y="287.98" width="5.56" height="12.13" fill="rgb(51,155,31)"/>
<rect x="332.48" y="287.98" width="5.56" height="12.13" fill="rgb(51,155,31)"/>
<rect x="337.99" y="287.98" width="5.56" height="12.13" fill="rgb(49,148,29)"/>
<rect x="343.50" y="287.98" width="5.56" height="12.13" fill="rgb(49,147,29)"/>
<rect x="349.01" y="287.98" width="5.56" height="12.13" fill="rgb(49,149,29)"/>
<rect x="354.52" y="287.98" width="5.56" height="12.13" fill="rgb(49,149,29)"/>
<rect x="12.90" y="300.06" width="5.56" height="12.13" fill="rgb(134,12,10)"/>
<rect x="18.41" y="300.06" width="5.56" height="12.13" fill="rgb(126,11,9)"/>
<rect x="23.92" y="300.06" width="5.56" height="12.13" fill="rgb(133,12,10)"/>
<rect x="29.43" y="300.06" width="5.56" height="12.13" fill="rgb(132,12,10)"/>
<rect x="34.94" y="300.06" width="5.56" height="12.13" fill="rgb(133,12,10)"/>
<rect x="40.45" y="300.06" width="5.56" height="12.13" fill="rgb(132,12,10)"/>
<rect x="45.96" y="300.06" width="5.56" height="12.13" fill="rgb(131,12,10)"/>
<rect x="51.47" y="300.06" width="5.56" height="12.13" fill="rgb(128,11,9)"/>
<rect x="56.98" y="300.06" width="5.56" height="12.13" fill="rgb(128,11,9)"/>
<rect x="62.49" y="300.06" width="5.56" height="12.13" fill="rgb(128,11,9)"/>
<rect x="68.00" y="300.06" width="5.56" height="12.13" fill="rgb(132,12,10)"/>
<rect x="73.51" y="300.06" width="5.56" height="12.13" fill="rgb(125,11,9)"/>
<rect x="79.02" y="300.06" width="5.56" height="12.13" fill="rgb(126,11,9)"/>
<rect x="84.53" y="300.06" width="5.56" height="12.13" fill="rgb(132,12,10)"/>
<rect x="90.04" y="300.06" width="5.56" height="12.13" fill="rgb(127,11,9)"/>
<rect x="95.55" y="300.06" width="5.56" height="12.13" fill="rgb(125,11,9)"/>
<rect x="101.06" y="300.06" width="5.56" height="12.13" fill="rgb(125,11,9)"/>
<rect x="106.57" y="300.06" width="5.56" height="12.13" fill="rgb(130,12,10)"/>
<rect x="112.08" y="300.06" width="5.56" height="12.13" fill="rgb(128,11,9)"/>
<rect x="117.59" y="300.06" width="5.56" height="12.13" fill="rgb(134,12,10)"/>
<rect x="123.10" y="300.06" width="5.56" height="12.13" fill="rgb(133,12,10)"/>
<rect x="128.61" y="300.06" width="5.56" height="12.13" fill="rgb(135,12,10)"/>
<rect x="134.12" y="300.06" width="5.56" height="12.13" fill="rgb(127,11,9)"/>
<rect x="139.63" y="300.06" width="5.56" height="12.13" fill="rgb(125,11,9)"/>
<rect x="145.14" y="300.06" width="5.56" height="12.13" fill="rgb(125,11,9)"/>
<rect x="150.65" y="300.06" width="5.56" height="12.13" fill="rgb(60,3,5)"/>
<rect x="156.16" y="300.06" width="5.56" height="12.13" fill="rgb(120,10,10)"/>
<rect x="161.67" y="300.06" width="5.56" height="12.13" fill="rgb(120,10,10)"/>
<rect x="167.18" y="300.06" width="5.56" height="12.13" fill="rgb(120,10,10)"/>
<rect x="172.69" y="300.06" width="5.56" height="12.13" fill="rgb(129,11,9)"/>
<rect x="178.20" y="300.06" width="5.56" height="12.13" fill="rgb(131,12,10)"/>
<rect x="183.71" y="300.06" width="5.56" height="12.13" fill="rgb(131,12,10)"/>
<rect x="189.22" y="300.06" width="5.56" height="12.13" fill="rgb(50,140,28)"/>
<rect x="194.73" y="300.06" width="5.56" height="12.13" fill="rgb(51,154,30)"/>
<rect x="200.24" y="300.06" width="5.56" height="12.13" fill="rgb(50,151,30)"/>
<rect x="205.75" y="300.06" width="5.56" height="12.13" fill="rgb(48,145,29)"/>
<rect x="211.26" y="300.06" width="5.56" height="12.13" fill="rgb(51,154,30)"/>
<rect x="216.77" y="300.06" width="5.56" height="12.13" fill="rgb(49,147,29)"/>
<rect x="222.28" y="300.06" width="5.56" height="12.13" fill="rgb(50,150,30)"/>
<rect x="227.79" y="300.06" width="5.56" height="12.13" fill="rgb(49,148,29)"/>
<rect x="233.30" y="300.06" width="5.56" height="12.13" fill="rgb(50,152,30)"/>
<rect x="238.81" y="300.06" width="5.56" height="12.13" fill="rgb(48,146,29)"/>
<rect x="244.32" y="300.06" width="5.56" height="12.13" fill="rgb(48,146,29)"/>
<rect x="249.83" y="300.06" width="5.56" height="12.13" fill="rgb(48,146,29)"/>
<rect x="255.34" y="300.06" width="5.56" height="12.13" fill="rgb(48,145,29)"/>
<rect x="260.85" y="300.06" width="5.56" height="12.13" fill="rgb(51,154,30)"/>
<rect x="266.36" y="300.06" width="5.56" height="12.13" fill="rgb(50,150,30)"/>
<rect x="271.87" y="300.06" width="5.56" height="12.13" fill="rgb(49,147,29)"/>
<rect x="277.38" y="300.06" width="5.56" height="12.13" fill="rgb(49,148,29)"/>
<rect x="282.89" y="300.06" width="5.56" height="12.13" fill="rgb(51,155,31)"/>
<rect x="288.40" y="300.06" width="5.56" height="12.13" fill="rgb(50,150,30)"/>
<rect x="293.91" y="300.06" width="5.56" height="12.13" fill="rgb(48,146,29)"/>
<rect x="299.42" y="300.06" width="5.56" height="12.13" fill="rgb(51,153,30)"/>
<rect x="304.93" y="300.06" width="5.56" height="12.13" fill="rgb(50,151,30)"/>
<rect x="310.44" y="300.06" width="5.56" height="12.13" fill="rgb(51,155,31)"/>
<rect x="315.95" y="300.06" width="5.56" height="12.13" fill="rgb(48,145,29)"/>
<rect x="321.46" y="300.06" width="5.56" height="12.13" fill="rgb(49,149,29)"/>
<rect x="326.97" y="300.06" width="5.56" height="12.13" fill="rgb(51,153,30)"/>
<rect x="332.48" y="300.06" width="5.56" height="12.13" fill="rgb(51,154,30)"/>
<rect x="337.99" y="300.06" width="5.56" height="12.13" fill="rgb(51,154,30)"/>
<rect x="343.50" y="300.06" width="5.56" height="12.13" fill="rgb(48,144,28)"/>
<rect x="349.01" y="300.06" width="5.56" height="12.13" fill="rgb(49,147,29)"/>
<rect x="354.52" y="300.06" width="5.56" height="12.13" fill="rgb(48,145,29)"/>
<rect x="12.90" y="312.14" width="5.56" height="12.13" fill="rgb(151,17,9)"/>
<rect x="18.41" y="312.14" width="5.56" height="12.13" fill="rgb(160,18,10)"/>
<rect x="23.92" y="312.14" width="5.56" height="12.13" fill="rgb(156,18,10)"/>
<rect x="29.43" y="312.14" width="5.56" height="12.13" fill="rgb(160,18,10)"/>
<rect x="34.94" y="312.14" width="5.56" height="12.13" fill="rgb(153,17,9)"/>
<rect x="40.45" y="312.14" width="5.56" height="12.13" fill="rgb(159,18,10)"/>
<rect x="45.96" y="312.14" width="5.56" height="12.13" fill="rgb(154,17,9)"/>
<rect x="51.47" y="312.14" width="5.56" height="12.13" fill="rgb(152,17,9)"/>
<rect x="56.98" y="312.14" width="5.56" height="12.13" fill="rgb(158,18,10)"/>
<rect x="62.49" y="312.14" width="5.56" height="12.13" fill="rgb(160,18,10)"/>
<rect x="68.00" y="312.14" width="5.56" height="12.13" fill="rgb(150,17,9)"/>
<rect x="73.51" y="312.14" width="5.56" height="12.13" fill="rgb(156,18,10)"/>
<rect x="79.02" y="312.14" width="5.56" height="12.13" fill="rgb(156,18,10)"/>
<rect x="84.53" y="312.14" width="5.56" height="12.13" fill="rgb(151,17,9)"/>
<rect x="90.04" y="312.14" width="5.56" height="12.13" fill="rgb(153,17,9)"/>
<rect x="95.55" y="312.14" width="5.56" height="12.13" fill="rgb(150,17,9)"/>
<rect x="101.06" y="312.14" width="5.56" height="12.13" fill="rgb(151,17,9)"/>
<rect x="106.57" y="312.14" width="5.56" height="12.13" fill="rgb(151,17,9)"/>
<rect x="112.08" y="312.14" width="5.56" height="12.13" fill="rgb(156,18,10)"/>
<rect x="117.59" y="312.14" width="5.56" height="12.13" fill="rgb(156,18,10)"/>
<rect x="123.10" y="312.14" width="5.56" height="12.13" fill="rgb(151,17,9)"/>
<rect x="128.61" y="312.14" width="5.56" height="12.13" fill="rgb(148,17,9)"/>
<rect x="134.12" y="312.14" width="5.56" height="12.13" fill="rgb(152,17,9)"/>
<rect x="139.63" y="312.14" width="5.56" height="12.13" fill="rgb(157,18,10)"/>
<rect x="145.14" y="312.14" width="5.56" height="12.13" fill="rgb(151,17,9)"/>
<rect x="150.65" y="312.14" width="5.56" height="12.13" fill="rgb(100,8,10)"/>
<rect x="156.16" y="312.14" width="5.56" height="12.13" fill="rgb(160,20,10)"/>
<rect x="161.67" y="312.14" width="5.56" height="12.13" fill="rgb(160,20,10)"/>
<rect x="167.18" y="312.14" width="5.56" height="12.13" fill="rgb(160,20,10)"/>
<rect x="172.69" y="312.14" width="5.56" height="12.13" fill="rgb(150,18,10)"/>
<rect x="178.20" y="312.14" width="5.56" height="12.13" fill="rgb(120,10,10)"/>
<rect x="183.71" y="312.14" width="5.56" height="12.13" fill="rgb(115,10,10)"/>
<rect x="189.22" y="312.14" width="5.56" height="12.13" fill="rgb(50,0,8)"/>
<rect x="194.73" y="312.14" width="5.56" height="12.13" fill="rgb(52,156,30)"/>
<rect x="200.24" y="312.14" width="5.56" height="12.13" fill="rgb(50,149,29)"/>
<rect x="205.75" y="312.14" width="5.56" height="12.13" fill="rgb(50,150,29)"/>
<rect x="211.26" y="312.14" width="5.56" height="12.13" fill="rgb(52,157,30)"/>
<rect x="216.77" y="312.14" width="5.56" height="12.13" fill="rgb(51,153,29)"/>
<rect x="222.28" y="312.14" width="5.56" height="12.13" fill="rgb(51,152,29)"/>
<rect x="227.79" y="312.14" width="5.56" height="12.13" fill="rgb(51,152,29)"/>
<rect x="233.30" y="312.14" width="5.56" height="12.13" fill="rgb(53,160,31)"/>
<rect x="238.81" y="312.14" width="5.56" height="12.13" fill="rgb(51,152,29)"/>
<rect x="244.32" y="312.14" width="5.56" height="12.13" fill="rgb(52,155,30)"/>
<rect x="249.83" y="312.14" width="5.56" height="12.13" fill="rgb(51,153,29)"/>
<rect x="255.34" y="312.14" width="5.56" height="12.13" fill="rgb(51,153,29)"/>
<rect x="260.85" y="312.14" width="5.56" height="12.13" fill="rgb(53,159,30)"/>
<rect x="266.36" y="312.14" width="5.56" height="12.13" fill="rgb(54,161,31)"/>
<rect x="271.87" y="312.14" width="5.56" height="12.13" fill="rgb(51,153,29)"/>
<rect x="277.38" y="312.14" width="5.56" height="12.13" fill="rgb(50,151,29)"/>
<rect x="282.89" y="312.14" width="5.56" height="12.13" fill="rgb(52,157,30)"/>
<rect x="288.40" y="312.14" width="5.56" height="12.13" fill="rgb(50,151,29)"/>
<rect x="293.91" y="312.14" width="5.56" height="12.13" fill="rgb(49,148,28)"/>
<rect x="299.42" y="312.14" width="5.56" height="12.13" fill="rgb(53,159,30)"/>
<rect x="304.93" y="312.14" width="5.56" height="12.13" fill="rgb(51,154,29)"/>
<rect x="310.44" y="312.14" width="5.56" height="12.13" fill="rgb(53,158,30)"/>
<rect x="315.95" y="312.14" width="5.56" height="12.13" fill="rgb(51,153,29)"/>
<rect x="321.46" y="312.14" width="5.56" height="12.13" fill="rgb(45,130,28)"/>
<rect x="326.97" y="312.14" width="5.56" height="12.13" fill="rgb(51,154,29)"/>
<rect x="332.48" y="312.14" width="5.56" height="12.13" fill="rgb(50,150,29)"/>
<rect x="337.99" y="312.14" width="5.56" height="12.13" fill="rgb(49,148,28)"/>
<rect x="343.50" y="312.14" width="5.56" height="12.13" fill="rgb(52,155,30)"/>
<rect x="349.01" y="312.14" width="5.56" height="12.13" fill="rgb(52,156,30)"/>
<rect x="354.52" y="312.14" width="5.56" height="12.13" fill="rgb(53,160,30)"/>
<rect x="12.90" y="324.22" width="5.56" height="12.13" fill="rgb(174,24,14)"/>
<rect x="18.41" y="324.22" width="5.56" height="12.13" fill="rgb(181,25,15)"/>
<rect x="23.92" y="324.22" width="5.56" height="12.13" fill="rgb(178,24,14)"/>
<rect x="29.43" y="324.22" width="5.56" height="12.13" fill="rgb(180,25,15)"/>
<rect x="34.94" y="324.22" width="5.56" height="12.13" fill="rgb(174,24,14)"/>
<rect x="40.45" y="324.22" width="5.56" height="12.13" fill="rgb(176,24,14)"/>
<rect x="45.96" y="324.22" width="5.56" height="12.13" fill="rgb(180,25,15)"/>
<rect x="51.47" y="324.22" width="5.56" height="12.13" fill="rgb(186,25,15)"/>
<rect x="56.98" y="324.22" width="5.56" height="12.13" fill="rgb(174,24,14)"/>
<rect x="62.49" y="324.22" width="5.56" height="12.13" fill="rgb(179,24,14)"/>
<rect x="68.00" y="324.22" width="5.56" height="12.13" fill="rgb(184,25,15)"/>
<rect x="73.51" y="324.22" width="5.56" height="12.13" fill="rgb(186,25,15)"/>
<rect x="79.02" y="324.22" width="5.56" height="12.13" fill="rgb(175,24,14)"/>
<rect x="84.53" y="324.22" width="5.56" height="12.13" fill="rgb(174,24,14)"/>
<rect x="90.04" y="324.22" width="5.56" height="12.13" fill="rgb(186,25,15)"/>
<rect x="95.55" y="324.22" width="5.56" height="12.13" fill="rgb(186,25,15)"/>
<rect x="101.06" y="324.22" width="5.56" height="12.13" fill="rgb(179,24,14)"/>
<rect x="106.57" y="324.22" width="5.56" height="12.13" fill="rgb(173,24,14)"/>
<rect x="112.08" y="324.22" width="5.56" height="12.13" fill="rgb(186,25,15)"/>
<rect x="117.59" y="324.22" width="5.56" height="12.13" fill="rgb(178,24,14)"/>
<rect x="123.10" y="324.22" width="5.56" height="12.13" fill="rgb(185,25,15)"/>
<rect x="128.61" y="324.22" width="5.56" height="12.13" fill="rgb(181,25,15)"/>
<rect x="134.12" y="324.22" width="5.56" height="12.13" fill="rgb(184,25,15)"/>
<rect x="139.63" y="324.22" width="5.56" height="12.13" fill="rgb(175,24,14)"/>
<rect x="145.14" y="324.22" width="5.56" height="12.13" fill="rgb(184,25,15)"/>
<rect x="150.65" y="324.22" width="5.56" height="12.13" fill="rgb(215,35,20)"/>
<rect x="156.16" y="324.22" width="5.56" height="12.13" fill="rgb(235,30,15)"/>
<rect x="161.67" y="324.22" width="5.56" height="12.13" fill="rgb(215,32,18)"/>
<rect x="167.18" y="324.22" width="5.56" height="12.13" fill="rgb(215,32,18)"/>
<rect x="172.69" y="324.22" width="5.56" height="12.13" fill="rgb(140,15,12)"/>
<rect x="178.20" y="324.22" width="5.56" height="12.13" fill="rgb(165,20,12)"/>
<rect x="183.71" y="324.22" width="5.56" height="12.13" fill="rgb(165,20,12)"/>
<rect x="189.22" y="324.22" width="5.56" height="12.13" fill="rgb(185,28,15)"/>
<rect x="194.73" y="324.22" width="5.56" height="12.13" fill="rgb(54,156,29)"/>
<rect x="200.24" y="324.22" width="5.56" height="12.13" fill="rgb(53,153,29)"/>
<rect x="205.75" y="324.22" width="5.56" height="12.13" fill="rgb(53,154,29)"/>
<rect x="211.26" y="324.22" width="5.56" height="12.13" fill="rgb(55,160,30)"/>
<rect x="216.77" y="324.22" width="5.56" height="12.13" fill="rgb(56,163,30)"/>
<rect x="222.28" y="324.22" width="5.56" height="12.13" fill="rgb(52,152,28)"/>
<rect x="227.79" y="324.22" width="5.56" height="12.13" fill="rgb(55,158,30)"/>
<rect x="233.30" y="324.22" width="5.56" height="12.13" fill="rgb(56,161,30)"/>
<rect x="238.81" y="324.22" width="5.56" height="12.13" fill="rgb(52,152,28)"/>
<rect x="244.32" y="324.22" width="5.56" height="12.13" fill="rgb(56,162,30)"/>
<rect x="249.83" y="324.22" width="5.56" height="12.13" fill="rgb(53,153,29)"/>
<rect x="255.34" y="324.22" width="5.56" height="12.13" fill="rgb(55,159,30)"/>
<rect x="260.85" y="324.22" width="5.56" height="12.13" fill="rgb(55,158,30)"/>
<rect x="266.36" y="324.22" width="5.56" height="12.13" fill="rgb(55,159,30)"/>
<rect x="271.87" y="324.22" width="5.56" height="12.13" fill="rgb(54,155,29)"/>
<rect x="277.38" y="324.22" width="5.56" height="12.13" fill="rgb(54,156,29)"/>
<rect x="282.89" y="324.22" width="5.56" height="12.13" fill="rgb(55,159,30)"/>
<rect x="288.40" y="324.22" width="5.56" height="12.13" fill="rgb(54,157,29)"/>
<rect x="293.91" y="324.22" width="5.56" height="12.13" fill="rgb(55,160,30)"/>
<rect x="299.42" y="324.22" width="5.56" height="12.13" fill="rgb(54,157,29)"/>
<rect x="304.93" y="324.22" width="5.56" height="12.13" fill="rgb(54,157,29)"/>
<rect x="310.44" y="324.22" width="5.56" height="12.13" fill="rgb(52,151,28)"/>
<rect x="315.95" y="324.22" width="5.56" height="12.13" fill="rgb(55,159,30)"/>
<rect x="321.46" y="324.22" width="5.56" height="12.13" fill="rgb(25,80,15)"/>
<rect x="326.97" y="324.22" width="5.56" height="12.13" fill="rgb(45,130,28)"/>
<rect x="332.48" y="324.22" width="5.56" height="12.13" fill="rgb(45,132,28)"/>
<rect x="337.99" y="324.22" width="5.56" height="12.13" fill="rgb(56,161,30)"/>
<rect x="343.50" y="324.22" width="5.56" height="12.13" fill="rgb(54,157,29)"/>
<rect x="349.01" y="324.22" width="5.56" height="12.13" fill="rgb(45,130,28)"/>
<rect x="354.52" y="324.22" width="5.56" height="12.13" fill="rgb(54,157,29)"/>
<rect x="12.90" y="336.30" width="5.56" height="12.13" fill="rgb(53,150,29)"/>
<rect x="18.41" y="336.30" width="5.56" height="12.13" fill="rgb(53,150,29)"/>
<rect x="23.92" y="336.30" width="5.56" height="12.13" fill="rgb(54,154,29)"/>
<rect x="29.43" y="336.30" width="5.56" height="12.13" fill="rgb(53,149,29)"/>
<rect x="34.94" y="336.30" width="5.56" height="12.13" fill="rgb(54,154,29)"/>
<rect x="40.45" y="336.30" width="5.56" height="12.13" fill="rgb(55,155,30)"/>
<rect x="45.96" y="336.30" width="5.56" height="12.13" fill="rgb(52,149,28)"/>
<rect x="51.47" y="336.30" width="5.56" height="12.13" fill="rgb(55,156,30)"/>
<rect x="56.98" y="336.30" width="5.56" height="12.13" fill="rgb(53,149,28)"/>
<rect x="62.49" y="336.30" width="5.56" height="12.13" fill="rgb(56,157,30)"/>
<rect x="68.00" y="336.30" width="5.56" height="12.13" fill="rgb(56,158,30)"/>
<rect x="73.51" y="336.30" width="5.56" height="12.13" fill="rgb(55,155,30)"/>
<rect x="79.02" y="336.30" width="5.56" height="12.13" fill="rgb(53,149,28)"/>
<rect x="84.53" y="336.30" width="5.56" height="12.13" fill="rgb(55,155,30)"/>
<rect x="90.04" y="336.30" width="5.56" height="12.13" fill="rgb(54,153,29)"/>
<rect x="95.55" y="336.30" width="5.56" height="12.13" fill="rgb(56,160,31)"/>
<rect x="101.06" y="336.30" width="5.56" height="12.13" fill="rgb(53,150,29)"/>
<rect x="106.57" y="336.30" width="5.56" height="12.13" fill="rgb(56,159,30)"/>
<rect x="112.08" y="336.30" width="5.56" height="12.13" fill="rgb(57,161,31)"/>
<rect x="117.59" y="336.30" width="5.56" height="12.13" fill="rgb(56,157,30)"/>
<rect x="123.10" y="336.30" width="5.56" height="12.13" fill="rgb(56,158,30)"/>
<rect x="128.61" y="336.30" width="5.56" height="12.13" fill="rgb(53,151,29)"/>
<rect x="134.12" y="336.30" width="5.56" height="12.13" fill="rgb(57,160,31)"/>
<rect x="139.63" y="336.30" width="5.56" height="12.13" fill="rgb(54,154,29)"/>
<rect x="145.14" y="336.30" width="5.56" height="12.13" fill="rgb(57,160,31)"/>
<rect x="150.65" y="336.30" width="5.56" height="12.13" fill="rgb(65,200,35)"/>
<rect x="156.16" y="336.30" width="5.56" height="12.13" fill="rgb(55,160,30)"/>
<rect x="161.67" y="336.30" width="5.56" height="12.13" fill="rgb(55,160,30)"/>
<rect x="167.18" y="336.30" width="5.56" height="12.13" fill="rgb(55,160,30)"/>
<rect x="172.69" y="336.30" width="5.56" height="12.13" fill="rgb(60,175,32)"/>
<rect x="178.20" y="336.30" width="5.56" height="12.13" fill="rgb(60,175,32)"/>
<rect x="183.71" y="336.30" width="5.56" height="12.13" fill="rgb(60,175,32)"/>
<rect x="189.22" y="336.30" width="5.56" height="12.13" fill="rgb(40,120,25)"/>
<rect x="194.73" y="336.30" width="5.56" height="12.13" fill="rgb(134,12,10)"/>
<rect x="200.24" y="336.30" width="5.56" height="12.13" fill="rgb(127,11,9)"/>
<rect x="205.75" y="336.30" width="5.56" height="12.13" fill="rgb(133,12,10)"/>
<rect x="211.26" y="336.30" width="5.56" height="12.13" fill="rgb(126,11,9)"/>
<rect x="216.77" y="336.30" width="5.56" height="12.13" fill="rgb(130,12,10)"/>
<rect x="222.28" y="336.30" width="5.56" height="12.13" fill="rgb(134,12,10)"/>
<rect x="227.79" y="336.30" width="5.56" height="12.13" fill="rgb(126,11,9)"/>
<rect x="233.30" y="336.30" width="5.56" height="12.13" fill="rgb(127,11,9)"/>
<rect x="238.81" y="336.30" width="5.56" height="12.13" fill="rgb(130,12,10)"/>
<rect x="244.32" y="336.30" width="5.56" height="12.13" fill="rgb(128,11,9)"/>
<rect x="249.83" y="336.30" width="5.56" height="12.13" fill="rgb(125,11,9)"/>
<rect x="255.34" y="336.30" width="5.56" height="12.13" fill="rgb(126,11,9)"/>
<rect x="260.85" y="336.30" width="5.56" height="12.13" fill="rgb(126,11,9)"/>
<rect x="266.36" y="336.30" width="5.56" height="12.13" fill="rgb(134,12,10)"/>
<rect x="271.87" y="336.30" width="5.56" height="12.13" fill="rgb(131,12,10)"/>
<rect x="277.38" y="336.30" width="5.56" height="12.13" fill="rgb(134,12,10)"/>
<rect x="282.89" y="336.30" width="5.56" height="12.13" fill="rgb(126,11,9)"/>
<rect x="288.40" y="336.30" width="5.56" height="12.13" fill="rgb(132,12,10)"/>
<rect x="293.91" y="336.30" width="5.56" height="12.13" fill="rgb(125,11,9)"/>
<rect x="299.42" y="336.30" width="5.56" height="12.13" fill="rgb(130,12,10)"/>
<rect x="304.93" y="336.30" width="5.56" height="12.13" fill="rgb(131,12,10)"/>
<rect x="310.44" y="336.30" width="5.56" height="12.13" fill="rgb(128,11,9)"/>
<rect x="315.95" y="336.30" width="5.56" height="12.13" fill="rgb(133,12,10)"/>
<rect x="321.46" y="336.30" width="5.56" height="12.13" fill="rgb(100,8,8)"/>
<rect x="326.97" y="336.30" width="5.56" height="12.13" fill="rgb(130,12,10)"/>
<rect x="332.48" y="336.30" width="5.56" height="12.13" fill="rgb(133,12,10)"/>
<rect x="337.99" y="336.30" width="5.56" height="12.13" fill="rgb(125,11,9)"/>
<rect x="343.50" y="336.30" width="5.56" height="12.13" fill="rgb(135,12,10)"/>
<rect x="349.01" y="336.30" width="5.56" height="12.13" fill="rgb(131,12,10)"/>
<rect x="354.52" y="336.30" width="5.56" height="12.13" fill="rgb(128,11,9)"/>
<rect x="12.90" y="348.38" width="5.56" height="12.13" fill="rgb(56,158,30)"/>
<rect x="18.41" y="348.38" width="5.56" height="12.13" fill="rgb(53,152,29)"/>
<rect x="23.92" y="348.38" width="5.56" height="12.13" fill="rgb(57,161,31)"/>
<rect x="29.43" y="348.38" width="5.56" height="12.13" fill="rgb(55,155,30)"/>
<rect x="34.94" y="348.38" width="5.56" height="12.13" fill="rgb(54,153,29)"/>
<rect x="40.45" y="348.38" width="5.56" height="12.13" fill="rgb(56,158,30)"/>
<rect x="45.96" y="348.38" width="5.56" height="12.13" fill="rgb(54,154,29)"/>
<rect x="51.47" y="348.38" width="5.56" height="12.13" fill="rgb(53,150,29)"/>
<rect x="56.98" y="348.38" width="5.56" height="12.13" fill="rgb(56,158,30)"/>
<rect x="62.49" y="348.38" width="5.56" height="12.13" fill="rgb(53,149,28)"/>
<rect x="68.00" y="348.38" width="5.56" height="12.13" fill="rgb(56,158,30)"/>
<rect x="73.51" y="348.38" width="5.56" height="12.13" fill="rgb(53,151,29)"/>
<rect x="79.02" y="348.38" width="5.56" height="12.13" fill="rgb(55,156,30)"/>
<rect x="84.53" y="348.38" width="5.56" height="12.13" fill="rgb(57,161,31)"/>
<rect x="90.04" y="348.38" width="5.56" height="12.13" fill="rgb(55,156,30)"/>
<rect x="95.55" y="348.38" width="5.56" height="12.13" fill="rgb(55,157,30)"/>
<rect x="101.06" y="348.38" width="5.56" height="12.13" fill="rgb(54,152,29)"/>
<rect x="106.57" y="348.38" width="5.56" height="12.13" fill="rgb(52,148,28)"/>
<rect x="112.08" y="348.38" width="5.56" height="12.13" fill="rgb(52,149,28)"/>
<rect x="117.59" y="348.38" width="5.56" height="12.13" fill="rgb(53,150,29)"/>
<rect x="123.10" y="348.38" width="5.56" height="12.13" fill="rgb(55,156,30)"/>
<rect x="128.61" y="348.38" width="5.56" height="12.13" fill="rgb(54,154,29)"/>
<rect x="134.12" y="348.38" width="5.56" height="12.13" fill="rgb(55,155,30)"/>
<rect x="139.63" y="348.38" width="5.56" height="12.13" fill="rgb(56,159,30)"/>
<rect x="145.14" y="348.38" width="5.56" height="12.13" fill="rgb(53,150,29)"/>
<rect x="150.65" y="348.38" width="5.56" height="12.13" fill="rgb(75,250,15)"/>
<rect x="156.16" y="348.38" width="5.56" height="12.13" fill="rgb(55,165,30)"/>
<rect x="161.67" y="348.38" width="5.56" height="12.13" fill="rgb(55,165,30)"/>
<rect x="167.18" y="348.38" width="5.56" height="12.13" fill="rgb(55,165,30)"/>
<rect x="172.69" y="348.38" width="5.56" height="12.13" fill="rgb(55,160,30)"/>
<rect x="178.20" y="348.38" width="5.56" height="12.13" fill="rgb(65,200,35)"/>
<rect x="183.71" y="348.38" width="5.56" height="12.13" fill="rgb(65,200,35)"/>
<rect x="189.22" y="348.38" width="5.56" height="12.13" fill="rgb(55,160,30)"/>
<rect x="194.73" y="348.38" width="5.56" height="12.13" fill="rgb(115,10,10)"/>
<rect x="200.24" y="348.38" width="5.56" height="12.13" fill="rgb(115,10,10)"/>
<rect x="205.75" y="348.38" width="5.56" height="12.13" fill="rgb(112,9,9)"/>
<rect x="211.26" y="348.38" width="5.56" height="12.13" fill="rgb(116,10,10)"/>
<rect x="216.77" y="348.38" width="5.56" height="12.13" fill="rgb(114,9,9)"/>
<rect x="222.28" y="348.38" width="5.56" height="12.13" fill="rgb(111,9,9)"/>
<rect x="227.79" y="348.38" width="5.56" height="12.13" fill="rgb(119,10,10)"/>
<rect x="233.30" y="348.38" width="5.56" height="12.13" fill="rgb(112,9,9)"/>
<rect x="238.81" y="348.38" width="5.56" height="12.13" fill="rgb(111,9,9)"/>
<rect x="244.32" y="348.38" width="5.56" height="12.13" fill="rgb(111,9,9)"/>
<rect x="249.83" y="348.38" width="5.56" height="12.13" fill="rgb(116,10,10)"/>
<rect x="255.34" y="348.38" width="5.56" height="12.13" fill="rgb(118,10,10)"/>
<rect x="260.85" y="348.38" width="5.56" height="12.13" fill="rgb(117,10,10)"/>
<rect x="266.36" y="348.38" width="5.56" height="12.13" fill="rgb(114,9,9)"/>
<rect x="271.87" y="348.38" width="5.56" height="12.13" fill="rgb(112,9,9)"/>
<rect x="277.38" y="348.38" width="5.56" height="12.13" fill="rgb(110,9,9)"/>
<rect x="282.89" y="348.38" width="5.56" height="12.13" fill="rgb(116,10,10)"/>
<rect x="288.40" y="348.38" width="5.56" height="12.13" fill="rgb(115,10,10)"/>
<rect x="293.91" y="348.38" width="5.56" height="12.13" fill="rgb(113,9,9)"/>
<rect x="299.42" y="348.38" width="5.56" height="12.13" fill="rgb(116,10,10)"/>
<rect x="304.93" y="348.38" width="5.56" height="12.13" fill="rgb(114,9,9)"/>
<rect x="310.44" y="348.38" width="5.56" height="12.13" fill="rgb(119,10,10)"/>
<rect x="315.95" y="348.38" width="5.56" height="12.13" fill="rgb(117,10,10)"/>
<rect x="321.46" y="348.38" width="5.56" height="12.13" fill="rgb(60,3,5)"/>
<rect x="326.97" y="348.38" width="5.56" height="12.13" fill="rgb(118,10,10)"/>
<rect x="332.48" y="348.38" width="5.56" height="12.13" fill="rgb(110,9,9)"/>
<rect x="337.99" y="348.38" width="5.56" height="12.13" fill="rgb(115,10,10)"/>
<rect x="343.50" y="348.38" width="5.56" height="12.13" fill="rgb(114,9,9)"/>
<rect x="349.01" y="348.38" width="5.56" height="12.13" fill="rgb(100,8,8)"/>
<rect x="354.52" y="348.38" width="5.56" height="12.13" fill="rgb(110,9,9)"/>
<rect x="12.90" y="360.46" width="5.56" height="12.13" fill="rgb(51,153,30)"/>
<rect x="18.41" y="360.46" width="5.56" height="12.13" fill="rgb(48,144,28)"/>
<rect x="23.92" y="360.46" width="5.56" height="12.13" fill="rgb(50,150,30)"/>
<rect x="29.43" y="360.46" width="5.56" height="12.13" fill="rgb(51,155,31)"/>
<rect x="34.94" y="360.46" width="5.56" height="12.13" fill="rgb(48,145,29)"/>
<rect x="40.45" y="360.46" width="5.56" height="12.13" fill="rgb(48,146,29)"/>
<rect x="45.96" y="360.46" width="5.56" height="12.13" fill="rgb(50,151,30)"/>
<rect x="51.47" y="360.46" width="5.56" height="12.13" fill="rgb(50,150,30)"/>
<rect x="56.98" y="360.46" width="5.56" height="12.13" fill="rgb(50,151,30)"/>
<rect x="62.49" y="360.46" width="5.56" height="12.13" fill="rgb(51,153,30)"/>
<rect x="68.00" y="360.46" width="5.56" height="12.13" fill="rgb(48,146,29)"/>
<rect x="73.51" y="360.46" width="5.56" height="12.13" fill="rgb(49,147,29)"/>
<rect x="79.02" y="360.46" width="5.56" height="12.13" fill="rgb(49,147,29)"/>
<rect x="84.53" y="360.46" width="5.56" height="12.13" fill="rgb(48,144,28)"/>
<rect x="90.04" y="360.46" width="5.56" height="12.13" fill="rgb(51,154,30)"/>
<rect x="95.55" y="360.46" width="5.56" height="12.13" fill="rgb(51,153,30)"/>
<rect x="101.06" y="360.46" width="5.56" height="12.13" fill="rgb(50,152,30)"/>
<rect x="106.57" y="360.46" width="5.56" height="12.13" fill="rgb(48,144,28)"/>
<rect x="112.08" y="360.46" width="5.56" height="12.13" fill="rgb(51,154,30)"/>
<rect x="117.59" y="360.46" width="5.56" height="12.13" fill="rgb(50,152,30)"/>
<rect x="123.10" y="360.46" width="5.56" height="12.13" fill="rgb(49,149,29)"/>
<rect x="128.61" y="360.46" width="5.56" height="12.13" fill="rgb(50,152,30)"/>
<rect x="134.12" y="360.46" width="5.56" height="12.13" fill="rgb(49,149,29)"/>
<rect x="139.63" y="360.46" width="5.56" height="12.13" fill="rgb(48,146,29)"/>
<rect x="145.14" y="360.46" width="5.56" height="12.13" fill="rgb(48,145,29)"/>
<rect x="150.65" y="360.46" width="5.56" height="12.13" fill="rgb(42,115,28)"/>
<rect x="156.16" y="360.46" width="5.56" height="12.13" fill="rgb(50,145,30)"/>
<rect x="161.67" y="360.46" width="5.56" height="12.13" fill="rgb(50,145,30)"/>
<rect x="167.18" y="360.46" width="5.56" height="12.13" fill="rgb(50,145,30)"/>
<rect x="172.69" y="360.46" width="5.56" height="12.13" fill="rgb(50,145,30)"/>
<rect x="178.20" y="360.46" width="5.56" height="12.13" fill="rgb(50,145,30)"/>
<rect x="183.71" y="360.46" width="5.56" height="12.13" fill="rgb(50,145,30)"/>
<rect x="189.22" y="360.46" width="5.56" height="12.13" fill="rgb(65,0,8)"/>
<rect x="194.73" y="360.46" width="5.56" height="12.13" fill="rgb(148,16,10)"/>
<rect x="200.24" y="360.46" width="5.56" height="12.13" fill="rgb(147,15,9)"/>
<rect x="205.75" y="360.46" width="5.56" height="12.13" fill="rgb(151,16,10)"/>
<rect x="211.26" y="360.46" width="5.56" height="12.13" fill="rgb(148,16,10)"/>
<rect x="216.77" y="360.46" width="5.56" height="12.13" fill="rgb(145,15,9)"/>
<rect x="222.28" y="360.46" width="5.56" height="12.13" fill="rgb(149,16,10)"/>
<rect x="227.79" y="360.46" width="5.56" height="12.13" fill="rgb(153,16,10)"/>
<rect x="233.30" y="360.46" width="5.56" height="12.13" fill="rgb(144,15,9)"/>
<rect x="238.81" y="360.46" width="5.56" height="12.13" fill="rgb(152,16,10)"/>
<rect x="244.32" y="360.46" width="5.56" height="12.13" fill="rgb(142,15,9)"/>
<rect x="249.83" y="360.46" width="5.56" height="12.13" fill="rgb(145,15,9)"/>
<rect x="255.34" y="360.46" width="5.56" height="12.13" fill="rgb(144,15,9)"/>
<rect x="260.85" y="360.46" width="5.56" height="12.13" fill="rgb(150,16,10)"/>
<rect x="266.36" y="360.46" width="5.56" height="12.13" fill="rgb(153,16,10)"/>
<rect x="271.87" y="360.46" width="5.56" height="12.13" fill="rgb(150,16,10)"/>
<rect x="277.38" y="360.46" width="5.56" height="12.13" fill="rgb(145,15,9)"/>
<rect x="282.89" y="360.46" width="5.56" height="12.13" fill="rgb(152,16,10)"/>
<rect x="288.40" y="360.46" width="5.56" height="12.13" fill="rgb(145,15,9)"/>
<rect x="293.91" y="360.46" width="5.56" height="12.13" fill="rgb(144,15,9)"/>
<rect x="299.42" y="360.46" width="5.56" height="12.13" fill="rgb(152,16,10)"/>
<rect x="304.93" y="360.46" width="5.56" height="12.13" fill="rgb(149,16,10)"/>
<rect x="310.44" y="360.46" width="5.56" height="12.13" fill="rgb(150,16,10)"/>
<rect x="315.95" y="360.46" width="5.56" height="12.13" fill="rgb(149,16,10)"/>
<rect x="321.46" y="360.46" width="5.56" height="12.13" fill="rgb(153,16,10)"/>
<rect x="326.97" y="360.46" width="5.56" height="12.13" fill="rgb(147,15,9)"/>
<rect x="332.48" y="360.46" width="5.56" height="12.13" fill="rgb(152,16,10)"/>
<rect x="337.99" y="360.46" width="5.56" height="12.13" fill="rgb(150,16,10)"/>
<rect x="343.50" y="360.46" width="5.56" height="12.13" fill="rgb(152,16,10)"/>
<rect x="349.01" y="360.46" width="5.56" height="12.13" fill="rgb(147,15,9)"/>
<rect x="354.52" y="360.46" width="5.56" height="12.13" fill="rgb(150,16,10)"/>
<rect x="12.90" y="372.54" width="5.56" height="12.13" fill="rgb(50,150,30)"/>
<rect x="18.41" y="372.54" width="5.56" height="12.13" fill="rgb(49,147,29)"/>
<rect x="23.92" y="372.54" width="5.56" height="12.13" fill="rgb(48,146,29)"/>
<rect x="29.43" y="372.54" width="5.56" height="12.13" fill="rgb(50,151,30)"/>
<rect x="34.94" y="372.54" width="5.56" height="12.13" fill="rgb(48,144,28)"/>
<rect x="40.45" y="372.54" width="5.56" height="12.13" fill="rgb(51,154,30)"/>
<rect x="45.96" y="372.54" width="5.56" height="12.13" fill="rgb(48,145,29)"/>
<rect x="51.47" y="372.54" width="5.56" height="12.13" fill="rgb(48,144,28)"/>
<rect x="56.98" y="372.54" width="5.56" height="12.13" fill="rgb(48,145,29)"/>
<rect x="62.49" y="372.54" width="5.56" height="12.13" fill="rgb(51,155,31)"/>
<rect x="68.00" y="372.54" width="5.56" height="12.13" fill="rgb(49,148,29)"/>
<rect x="73.51" y="372.54" width="5.56" height="12.13" fill="rgb(48,145,29)"/>
<rect x="79.02" y="372.54" width="5.56" height="12.13" fill="rgb(48,144,28)"/>
<rect x="84.53" y="372.54" width="5.56" height="12.13" fill="rgb(48,144,28)"/>
<rect x="90.04" y="372.54" width="5.56" height="12.13" fill="rgb(50,152,30)"/>
<rect x="95.55" y="372.54" width="5.56" height="12.13" fill="rgb(50,151,30)"/>
<rect x="101.06" y="372.54" width="5.56" height="12.13" fill="rgb(50,152,30)"/>
<rect x="106.57" y="372.54" width="5.56" height="12.13" fill="rgb(50,152,30)"/>
<rect x="112.08" y="372.54" width="5.56" height="12.13" fill="rgb(48,144,28)"/>
<rect x="117.59" y="372.54" width="5.56" height="12.13" fill="rgb(50,151,30)"/>
<rect x="123.10" y="372.54" width="5.56" height="12.13" fill="rgb(49,148,29)"/>
<rect x="128.61" y="372.54" width="5.56" height="12.13" fill="rgb(51,153,30)"/>
<rect x="134.12" y="372.54" width="5.56" height="12.13" fill="rgb(51,153,30)"/>
<rect x="139.63" y="372.54" width="5.56" height="12.13" fill="rgb(51,154,30)"/>
<rect x="145.14" y="372.54" width="5.56" height="12.13" fill="rgb(48,144,28)"/>
<rect x="150.65" y="372.54" width="5.56" height="12.13" fill="rgb(70,0,8)"/>
<rect x="156.16" y="372.54" width="5.56" height="12.13" fill="rgb(40,115,25)"/>
<rect x="161.67" y="372.54" width="5.56" height="12.13" fill="rgb(45,125,28)"/>
<rect x="167.18" y="372.54" width="5.56" height="12.13" fill="rgb(45,125,28)"/>
<rect x="172.69" y="372.54" width="5.56" height="12.13" fill="rgb(45,125,28)"/>
<rect x="178.20" y="372.54" width="5.56" height="12.13" fill="rgb(35,100,22)"/>
<rect x="183.71" y="372.54" width="5.56" height="12.13" fill="rgb(42,120,26)"/>
<rect x="189.22" y="372.54" width="5.56" height="12.13" fill="rgb(165,22,12)"/>
<rect x="194.73" y="372.54" width="5.56" height="12.13" fill="rgb(135,14,10)"/>
<rect x="200.24" y="372.54" width="5.56" height="12.13" fill="rgb(135,14,10)"/>
<rect x="205.75" y="372.54" width="5.56" height="12.13" fill="rgb(169,20,12)"/>
<rect x="211.26" y="372.54" width="5.56" height="12.13" fill="rgb(166,20,12)"/>
<rect x="216.77" y="372.54" width="5.56" height="12.13" fill="rgb(162,19,11)"/>
<rect x="222.28" y="372.54" width="5.56" height="12.13" fill="rgb(159,19,11)"/>
<rect x="227.79" y="372.54" width="5.56" height="12.13" fill="rgb(159,19,11)"/>
<rect x="233.30" y="372.54" width="5.56" height="12.13" fill="rgb(168,20,12)"/>
<rect x="238.81" y="372.54" width="5.56" height="12.13" fill="rgb(161,19,11)"/>
<rect x="244.32" y="372.54" width="5.56" height="12.13" fill="rgb(162,19,11)"/>
<rect x="249.83" y="372.54" width="5.56" height="12.13" fill="rgb(163,19,11)"/>
<rect x="255.34" y="372.54" width="5.56" height="12.13" fill="rgb(158,19,11)"/>
<rect x="260.85" y="372.54" width="5.56" height="12.13" fill="rgb(161,19,11)"/>
<rect x="266.36" y="372.54" width="5.56" height="12.13" fill="rgb(162,19,11)"/>
<rect x="271.87" y="372.54" width="5.56" height="12.13" fill="rgb(167,20,12)"/>
<rect x="277.38" y="372.54" width="5.56" height="12.13" fill="rgb(163,19,11)"/>
<rect x="282.89" y="372.54" width="5.56" height="12.13" fill="rgb(162,19,11)"/>
<rect x="288.40" y="372.54" width="5.56" height="12.13" fill="rgb(171,20,12)"/>
<rect x="293.91" y="372.54" width="5.56" height="12.13" fill="rgb(165,20,12)"/>
<rect x="299.42" y="372.54" width="5.56" height="12.13" fill="rgb(169,20,12)"/>
<rect x="304.93" y="372.54" width="5.56" height="12.13" fill="rgb(166,20,12)"/>
<rect x="310.44" y="372.54" width="5.56" height="12.13" fill="rgb(158,19,11)"/>
<rect x="315.95" y="372.54" width="5.56" height="12.13" fill="rgb(163,19,11)"/>
<rect x="321.46" y="372.54" width="5.56" height="12.13" fill="rgb(164,19,11)"/>
<rect x="326.97" y="372.54" width="5.56" height="12.13" fill="rgb(168,20,12)"/>
<rect x="332.48" y="372.54" width="5.56" height="12.13" fill="rgb(162,19,11)"/>
<rect x="337.99" y="372.54" width="5.56" height="12.13" fill="rgb(167,20,12)"/>
<rect x="343.50" y="372.54" width="5.56" height="12.13" fill="rgb(165,20,12)"/>
<rect x="349.01" y="372.54" width="5.56" height="12.13" fill="rgb(161,19,11)"/>
<rect x="354.52" y="372.54" width="5.56" height="12.13" fill="rgb(169,20,12)"/>
<rect x="12.90" y="384.62" width="5.56" height="12.13" fill="rgb(48,145,29)"/>
<rect x="18.41" y="384.62" width="5.56" height="12.13" fill="rgb(51,153,30)"/>
<rect x="23.92" y="384.62" width="5.56" height="12.13" fill="rgb(48,146,29)"/>
<rect x="29.43" y="384.62" width="5.56" height="12.13" fill="rgb(48,144,28)"/>
<rect x="34.94" y="384.62" width="5.56" height="12.13" fill="rgb(48,146,29)"/>
<rect x="40.45" y="384.62" width="5.56" height="12.13" fill="rgb(51,153,30)"/>
<rect x="45.96" y="384.62" width="5.56" height="12.13" fill="rgb(51,155,31)"/>
<rect x="51.47" y="384.62" width="5.56" height="12.13" fill="rgb(48,144,28)"/>
<rect x="56.98" y="384.62" width="5.56" height="12.13" fill="rgb(49,149,29)"/>
<rect x="62.49" y="384.62" width="5.56" height="12.13" fill="rgb(49,149,29)"/>
<rect x="68.00" y="384.62" width="5.56" height="12.13" fill="rgb(51,153,30)"/>
<rect x="73.51" y="384.62" width="5.56" height="12.13" fill="rgb(48,146,29)"/>
<rect x="79.02" y="384.62" width="5.56" height="12.13" fill="rgb(49,149,29)"/>
<rect x="84.53" y="384.62" width="5.56" height="12.13" fill="rgb(49,148,29)"/>
<rect x="90.04" y="384.62" width="5.56" height="12.13" fill="rgb(51,153,30)"/>
<rect x="95.55" y="384.62" width="5.56" height="12.13" fill="rgb(49,147,29)"/>
<rect x="101.06" y="384.62" width="5.56" height="12.13" fill="rgb(51,155,31)"/>
<rect x="106.57" y="384.62" width="5.56" height="12.13" fill="rgb(49,147,29)"/>
<rect x="112.08" y="384.62" width="5.56" height="12.13" fill="rgb(48,146,29)"/>
<rect x="117.59" y="384.62" width="5.56" height="12.13" fill="rgb(50,152,30)"/>
<rect x="123.10" y="384.62" width="5.56" height="12.13" fill="rgb(49,149,29)"/>
<rect x="128.61" y="384.62" width="5.56" height="12.13" fill="rgb(48,145,29)"/>
<rect x="134.12" y="384.62" width="5.56" height="12.13" fill="rgb(50,151,30)"/>
<rect x="139.63" y="384.62" width="5.56" height="12.13" fill="rgb(48,144,28)"/>
<rect x="145.14" y="384.62" width="5.56" height="12.13" fill="rgb(51,153,30)"/>
<rect x="150.65" y="384.62" width="5.56" height="12.13" fill="rgb(115,10,12)"/>
<rect x="156.16" y="384.62" width="5.56" height="12.13" fill="rgb(40,110,25)"/>
<rect x="161.67" y="384.62" width="5.56" height="12.13" fill="rgb(40,110,25)"/>
<rect x="167.18" y="384.62" width="5.56" height="12.13" fill="rgb(40,110,25)"/>
<rect x="172.69" y="384.62" width="5.56" height="12.13" fill="rgb(40,112,25)"/>
<rect x="178.20" y="384.62" width="5.56" height="12.13" fill="rgb(30,90,20)"/>
<rect x="183.71" y="384.62" width="5.56" height="12.13" fill="rgb(40,115,25)"/>
<rect x="189.22" y="384.62" width="5.56" height="12.13" fill="rgb(205,30,18)"/>
<rect x="194.73" y="384.62" width="5.56" height="12.13" fill="rgb(187,25,14)"/>
<rect x="200.24" y="384.62" width="5.56" height="12.13" fill="rgb(175,24,13)"/>
<rect x="205.75" y="384.62" width="5.56" height="12.13" fill="rgb(177,24,13)"/>
<rect x="211.26" y="384.62" width="5.56" height="12.13" fill="rgb(178,24,13)"/>
<rect x="216.77" y="384.62" width="5.56" height="12.13" fill="rgb(187,25,14)"/>
<rect x="222.28" y="384.62" width="5.56" height="12.13" fill="rgb(182,25,14)"/>
<rect x="227.79" y="384.62" width="5.56" height="12.13" fill="rgb(180,24,13)"/>
<rect x="233.30" y="384.62" width="5.56" height="12.13" fill="rgb(187,25,14)"/>
<rect x="238.81" y="384.62" width="5.56" height="12.13" fill="rgb(178,24,13)"/>
<rect x="244.32" y="384.62" width="5.56" height="12.13" fill="rgb(181,24,13)"/>
<rect x="249.83" y="384.62" width="5.56" height="12.13" fill="rgb(182,25,14)"/>
<rect x="255.34" y="384.62" width="5.56" height="12.13" fill="rgb(185,25,14)"/>
<rect x="260.85" y="384.62" width="5.56" height="12.13" fill="rgb(185,25,14)"/>
<rect x="266.36" y="384.62" width="5.56" height="12.13" fill="rgb(184,25,14)"/>
<rect x="271.87" y="384.62" width="5.56" height="12.13" fill="rgb(179,24,13)"/>
<rect x="277.38" y="384.62" width="5.56" height="12.13" fill="rgb(179,24,13)"/>
<rect x="282.89" y="384.62" width="5.56" height="12.13" fill="rgb(176,24,13)"/>
<rect x="288.40" y="384.62" width="5.56" height="12.13" fill="rgb(186,25,14)"/>
<rect x="293.91" y="384.62" width="5.56" height="12.13" fill="rgb(184,25,14)"/>
<rect x="299.42" y="384.62" width="5.56" height="12.13" fill="rgb(185,25,14)"/>
<rect x="304.93" y="384.62" width="5.56" height="12.13" fill="rgb(177,24,13)"/>
<rect x="310.44" y="384.62" width="5.56" height="12.13" fill="rgb(181,24,13)"/>
<rect x="315.95" y="384.62" width="5.56" height="12.13" fill="rgb(185,25,14)"/>
<rect x="321.46" y="384.62" width="5.56" height="12.13" fill="rgb(205,30,18)"/>
<rect x="326.97" y="384.62" width="5.56" height="12.13" fill="rgb(176,24,13)"/>
<rect x="332.48" y="384.62" width="5.56" height="12.13" fill="rgb(181,24,13)"/>
<rect x="337.99" y="384.62" width="5.56" height="12.13" fill="rgb(187,25,14)"/>
<rect x="343.50" y="384.62" width="5.56" height="12.13" fill="rgb(178,24,13)"/>
<rect x="349.01" y="384.62" width="5.56" height="12.13" fill="rgb(177,24,13)"/>
<rect x="354.52" y="384.62" width="5.56" height="12.13" fill="rgb(179,24,13)"/>
<path d="M18.41 275.90V396.70M23.92 275.90V396.70M29.43 275.90V396.70M34.94 275.90V396.70M40.45 275.90V396.70M45.96 275.90V396.70M51.47 275.90V396.70M56.98 275.90V396.70M62.49 275.90V396.70M68.00 275.90V396.70M73.51 275.90V396.70M79.02 275.90V396.70M84.53 275.90V396.70M90.04 275.90V396.70M95.55 275.90V396.70M101.06 275.90V396.70M106.57 275.90V396.70M112.08 275.90V396.70M117.59 275.90V396.70M123.10 275.90V396.70M128.61 275.90V396.70M134.12 275.90V396.70M139.63 275.90V396.70M145.14 275.90V396.70M150.65 275.90V396.70M156.16 275.90V396.70M161.67 275.90V396.70M167.18 275.90V396.70M172.69 275.90V396.70M178.20 275.90V396.70M183.71 275.90V396.70M189.22 275.90V396.70M194.73 275.90V396.70M200.24 275.90V396.70M205.75 275.90V396.70M211.26 275.90V396.70M216.77 275.90V396.70M222.28 275.90V396.70M227.79 275.90V396.70M233.30 275.90V396.70M238.81 275.90V396.70M244.32 275.90V396.70M249.83 275.90V396.70M255.34 275.90V396.70M260.85 275.90V396.70M266.36 275.90V396.70M271.87 275.90V396.70M277.38 275.90V396.70M282.89 275.90V396.70M288.40 275.90V396.70M293.91 275.90V396.70M299.42 275.90V396.70M304.93 275.90V396.70M310.44 275.90V396.70M315.95 275.90V396.70M321.46 275.90V396.70M326.97 275.90V396.70M332.48 275.90V396.70M337.99 275.90V396.70M343.50 275.90V396.70M349.01 275.90V396.70M354.52 275.90V396.70M12.90 287.98H360.03M12.90 300.06H360.03M12.90 312.14H360.03M12.90 324.22H360.03M12.90 336.30H360.03M12.90 348.38H360.03M12.90 360.46H360.03M12.90 372.54H360.03M12.90 384.62H360.03" stroke="rgba(195,195,195,0.45)" stroke-width="0.50" fill="none"/>
<rect x="361" y="275.90" width="3.6" height="12.08" fill="rgb(172,176,98)"/>
<rect x="361" y="287.98" width="3.6" height="12.08" fill="rgb(172,176,98)"/>
<rect x="361" y="300.06" width="3.6" height="12.08" fill="rgb(172,176,98)"/>
<rect x="361" y="312.14" width="3.6" height="12.08" fill="rgb(172,176,98)"/>
<rect x="361" y="324.22" width="3.6" height="12.08" fill="rgb(172,176,98)"/>
<rect x="361" y="336.30" width="3.6" height="12.08" fill="rgb(200,250,50)"/>
<rect x="361" y="348.38" width="3.6" height="12.08" fill="rgb(200,250,50)"/>
<rect x="361" y="360.46" width="3.6" height="12.08" fill="rgb(200,250,50)"/>
<rect x="361" y="372.54" width="3.6" height="12.08" fill="rgb(200,250,50)"/>
<rect x="361" y="384.62" width="3.6" height="12.08" fill="rgb(200,250,50)"/>
<path d="M361 287.98H364.6M361 300.06H364.6M361 312.14H364.6M361 324.22H364.6M361 336.30H364.6M361 348.38H364.6M361 360.46H364.6M361 372.54H364.6M361 384.62H364.6" stroke="rgba(170,170,130,0.6)" stroke-width="0.5"/>
<path d="M109.5 275V256.3H220.7V275" stroke="#484848" stroke-width="0.8" fill="none"/>
<path d="M57 274.8H162M190 274.6H250" stroke="#999" stroke-width="0.7" fill="none"/>
<path d="M365 282H365.8V300H365M365.8 291H367V335H365.5M367 307.5H370M365.5 312V330M365 342H366V360H365M366 352H367.3V392H365.5M367.3 372H368" stroke="#777" stroke-width="0.5" fill="none"/>
<text x="115.00" y="9.00" font-size="10.6" fill="#111" stroke="#111" stroke-width="0.06" text-anchor="middle" font-weight="bold" >(A)</text>
<text x="409.00" y="13.30" font-size="10.6" fill="#111" stroke="#111" stroke-width="0.06" text-anchor="middle" font-weight="bold" >(B)</text>
<text x="143.90" y="245.00" font-size="10.6" fill="#111" stroke="#111" stroke-width="0.06" text-anchor="middle" font-weight="bold" >(C)</text>
<text x="432.50" y="253.60" font-size="10.6" fill="#111" stroke="#111" stroke-width="0.06" text-anchor="middle" font-weight="bold" >(D)</text>
<text x="11.20" y="43.05" font-size="3.5" fill="#222" stroke="#222" stroke-width="0.13" text-anchor="start" transform="rotate(180 11.20 43.05)" textLength="10.0" lengthAdjust="spacingAndGlyphs">RM_C2</text>
<text x="11.20" y="54.96" font-size="3.5" fill="#222" stroke="#222" stroke-width="0.13" text-anchor="start" transform="rotate(180 11.20 54.96)" textLength="10.0" lengthAdjust="spacingAndGlyphs">RM_C4</text>
<text x="11.20" y="66.87" font-size="3.5" fill="#222" stroke="#222" stroke-width="0.13" text-anchor="start" transform="rotate(180 11.20 66.87)" textLength="8.0" lengthAdjust="spacingAndGlyphs">RM_C</text>
<text x="11.20" y="78.78" font-size="3.5" fill="#222" stroke="#222" stroke-width="0.13" text-anchor="start" transform="rotate(180 11.20 78.78)" textLength="10.0" lengthAdjust="spacingAndGlyphs">RM_C1</text>
<text x="11.20" y="90.69" font-size="3.5" fill="#222" stroke="#222" stroke-width="0.13" text-anchor="start" transform="rotate(180 11.20 90.69)" textLength="10.0" lengthAdjust="spacingAndGlyphs">RM_C3</text>
<text x="11.20" y="102.60" font-size="3.5" fill="#222" stroke="#222" stroke-width="0.13" text-anchor="start" transform="rotate(180 11.20 102.60)" textLength="10.0" lengthAdjust="spacingAndGlyphs">CS_C1</text>
<text x="11.20" y="114.52" font-size="3.5" fill="#222" stroke="#222" stroke-width="0.13" text-anchor="start" transform="rotate(180 11.20 114.52)" textLength="10.0" lengthAdjust="spacingAndGlyphs">CS_C4</text>
<text x="11.20" y="126.42" font-size="3.5" fill="#222" stroke="#222" stroke-width="0.13" text-anchor="start" transform="rotate(180 11.20 126.42)" textLength="8.0" lengthAdjust="spacingAndGlyphs">CS_C</text>
<text x="11.20" y="138.34" font-size="3.5" fill="#222" stroke="#222" stroke-width="0.13" text-anchor="start" transform="rotate(180 11.20 138.34)" textLength="10.0" lengthAdjust="spacingAndGlyphs">CS_C2</text>
<text x="11.20" y="150.25" font-size="3.5" fill="#222" stroke="#222" stroke-width="0.13" text-anchor="start" transform="rotate(180 11.20 150.25)" textLength="10.0" lengthAdjust="spacingAndGlyphs">CS_C3</text>
<text x="11.80" y="280.74" font-size="3.5" fill="#222" stroke="#222" stroke-width="0.13" text-anchor="start" transform="rotate(180 11.80 280.74)" textLength="10.0" lengthAdjust="spacingAndGlyphs">RS_C3</text>
<text x="11.80" y="292.82" font-size="3.5" fill="#222" stroke="#222" stroke-width="0.13" text-anchor="start" transform="rotate(180 11.80 292.82)" textLength="10.0" lengthAdjust="spacingAndGlyphs">RS_C1</text>
<text x="11.80" y="304.90" font-size="3.5" fill="#222" stroke="#222" stroke-width="0.13" text-anchor="start" transform="rotate(180 11.80 304.90)" textLength="10.0" lengthAdjust="spacingAndGlyphs">RS_C2</text>
<text x="11.80" y="316.98" font-size="3.5" fill="#222" stroke="#222" stroke-width="0.13" text-anchor="start" transform="rotate(180 11.80 316.98)" textLength="8.0" lengthAdjust="spacingAndGlyphs">RS_C</text>
<text x="11.80" y="329.06" font-size="3.5" fill="#222" stroke="#222" stroke-width="0.13" text-anchor="start" transform="rotate(180 11.80 329.06)" textLength="10.0" lengthAdjust="spacingAndGlyphs">RS_C4</text>
<text x="11.80" y="341.14" font-size="3.5" fill="#222" stroke="#222" stroke-width="0.13" text-anchor="start" transform="rotate(180 11.80 341.14)" textLength="10.0" lengthAdjust="spacingAndGlyphs">RM_C1</text>
<text x="11.80" y="353.22" font-size="3.5" fill="#222" stroke="#222" stroke-width="0.13" text-anchor="start" transform="rotate(180 11.80 353.22)" textLength="10.0" lengthAdjust="spacingAndGlyphs">RM_C3</text>
<text x="11.80" y="365.30" font-size="3.5" fill="#222" stroke="#222" stroke-width="0.13" text-anchor="start" transform="rotate(180 11.80 365.30)" textLength="8.0" lengthAdjust="spacingAndGlyphs">RM_C</text>
<text x="11.80" y="377.38" font-size="3.5" fill="#222" stroke="#222" stroke-width="0.13" text-anchor="start" transform="rotate(180 11.80 377.38)" textLength="10.0" lengthAdjust="spacingAndGlyphs">RM_C2</text>
<text x="11.80" y="389.46" font-size="3.5" fill="#222" stroke="#222" stroke-width="0.13" text-anchor="start" transform="rotate(180 11.80 389.46)" textLength="10.0" lengthAdjust="spacingAndGlyphs">RM_C4</text>
<text x="14.15" y="158.90" font-size="2.6" fill="#1c1c1c" stroke="#1c1c1c" stroke-width="0.07" text-anchor="start" transform="rotate(90 14.15 158.90)" textLength="14.4" lengthAdjust="spacingAndGlyphs">tryptamine</text>
<text x="19.36" y="158.90" font-size="2.6" fill="#1c1c1c" stroke="#1c1c1c" stroke-width="0.07" text-anchor="start" transform="rotate(90 19.36 158.90)" textLength="17.9" lengthAdjust="spacingAndGlyphs">PC(18:3/18:0)</text>
<text x="24.56" y="158.90" font-size="2.6" fill="#1c1c1c" stroke="#1c1c1c" stroke-width="0.07" text-anchor="start" transform="rotate(90 24.56 158.90)" textLength="24.0" lengthAdjust="spacingAndGlyphs">N-Acetyl-L-tyrosin</text>
<text x="29.77" y="158.90" font-size="2.6" fill="#1c1c1c" stroke="#1c1c1c" stroke-width="0.07" text-anchor="start" transform="rotate(90 29.77 158.90)" textLength="25.4" lengthAdjust="spacingAndGlyphs">Dodecanoic acid (6.</text>
<text x="34.97" y="158.90" font-size="2.6" fill="#1c1c1c" stroke="#1c1c1c" stroke-width="0.07" text-anchor="start" transform="rotate(90 34.97 158.90)" textLength="8.2" lengthAdjust="spacingAndGlyphs">Guttiol</text>
<text x="40.18" y="158.90" font-size="2.6" fill="#1c1c1c" stroke="#1c1c1c" stroke-width="0.07" text-anchor="start" transform="rotate(90 40.18 158.90)" textLength="27.9" lengthAdjust="spacingAndGlyphs">gamma-glutamylleuc</text>
<text x="45.38" y="158.90" font-size="2.6" fill="#1c1c1c" stroke="#1c1c1c" stroke-width="0.07" text-anchor="start" transform="rotate(90 45.38 158.90)" textLength="19.6" lengthAdjust="spacingAndGlyphs">arachidonic acid</text>
<text x="50.59" y="158.90" font-size="2.6" fill="#1c1c1c" stroke="#1c1c1c" stroke-width="0.07" text-anchor="start" transform="rotate(90 50.59 158.90)" textLength="6.5" lengthAdjust="spacingAndGlyphs">valin</text>
<text x="55.79" y="158.90" font-size="2.6" fill="#1c1c1c" stroke="#1c1c1c" stroke-width="0.07" text-anchor="start" transform="rotate(90 55.79 158.90)" textLength="24.0" lengthAdjust="spacingAndGlyphs">L-Valyl-L-Phenylal</text>
<text x="61.00" y="158.90" font-size="2.6" fill="#1c1c1c" stroke="#1c1c1c" stroke-width="0.07" text-anchor="start" transform="rotate(90 61.00 158.90)" textLength="20.1" lengthAdjust="spacingAndGlyphs">gluconasturtiin</text>
<text x="66.20" y="158.90" font-size="2.6" fill="#1c1c1c" stroke="#1c1c1c" stroke-width="0.07" text-anchor="start" transform="rotate(90 66.20 158.90)" textLength="18.7" lengthAdjust="spacingAndGlyphs">LysoPE (18:0)</text>
<text x="71.41" y="158.90" font-size="2.6" fill="#1c1c1c" stroke="#1c1c1c" stroke-width="0.07" text-anchor="start" transform="rotate(90 71.41 158.90)" textLength="24.4" lengthAdjust="spacingAndGlyphs">N-Feruloylglycine</text>
<text x="76.61" y="158.90" font-size="2.6" fill="#1c1c1c" stroke="#1c1c1c" stroke-width="0.07" text-anchor="start" transform="rotate(90 76.61 158.90)" textLength="27.5" lengthAdjust="spacingAndGlyphs">PG(16:0/18:4-cg.PG2)</text>
<text x="81.82" y="158.90" font-size="2.6" fill="#1c1c1c" stroke="#1c1c1c" stroke-width="0.07" text-anchor="start" transform="rotate(90 81.82 158.90)" textLength="22.2" lengthAdjust="spacingAndGlyphs">Butyrylcarnitine</text>
<text x="87.02" y="158.90" font-size="2.6" fill="#1c1c1c" stroke="#1c1c1c" stroke-width="0.07" text-anchor="start" transform="rotate(90 87.02 158.90)" textLength="18.4" lengthAdjust="spacingAndGlyphs">Fumaric acid</text>
<text x="92.23" y="158.90" font-size="2.6" fill="#1c1c1c" stroke="#1c1c1c" stroke-width="0.07" text-anchor="start" transform="rotate(90 92.23 158.90)" textLength="18.4" lengthAdjust="spacingAndGlyphs">myristic acid</text>
<text x="97.43" y="158.90" font-size="2.6" fill="#1c1c1c" stroke="#1c1c1c" stroke-width="0.07" text-anchor="start" transform="rotate(90 97.43 158.90)" textLength="24.9" lengthAdjust="spacingAndGlyphs">docosanedioic acid 1</text>
<text x="102.64" y="158.90" font-size="2.6" fill="#1c1c1c" stroke="#1c1c1c" stroke-width="0.07" text-anchor="start" transform="rotate(90 102.64 158.90)" textLength="23.1" lengthAdjust="spacingAndGlyphs">Cer (d-stearoside)</text>
<text x="107.84" y="158.90" font-size="2.6" fill="#1c1c1c" stroke="#1c1c1c" stroke-width="0.07" text-anchor="start" transform="rotate(90 107.84 158.90)" textLength="20.5" lengthAdjust="spacingAndGlyphs">beta-tocopherol</text>
<text x="113.05" y="158.90" font-size="2.6" fill="#1c1c1c" stroke="#1c1c1c" stroke-width="0.07" text-anchor="start" transform="rotate(90 113.05 158.90)" textLength="23.1" lengthAdjust="spacingAndGlyphs">hydroxy stearic acid</text>
<text x="118.25" y="158.90" font-size="2.6" fill="#1c1c1c" stroke="#1c1c1c" stroke-width="0.07" text-anchor="start" transform="rotate(90 118.25 158.90)" textLength="24.0" lengthAdjust="spacingAndGlyphs">4-pentenyl isothioc</text>
<text x="123.46" y="158.90" font-size="2.6" fill="#1c1c1c" stroke="#1c1c1c" stroke-width="0.07" text-anchor="start" transform="rotate(90 123.46 158.90)" textLength="13.1" lengthAdjust="spacingAndGlyphs">erucic acid</text>
<text x="128.66" y="158.90" font-size="2.6" fill="#1c1c1c" stroke="#1c1c1c" stroke-width="0.07" text-anchor="start" transform="rotate(90 128.66 158.90)" textLength="8.2" lengthAdjust="spacingAndGlyphs">sinigrin</text>
<text x="133.87" y="158.90" font-size="2.6" fill="#1c1c1c" stroke="#1c1c1c" stroke-width="0.07" text-anchor="start" transform="rotate(90 133.87 158.90)" textLength="15.2" lengthAdjust="spacingAndGlyphs">kaempferol</text>
<text x="139.07" y="158.90" font-size="2.6" fill="#1c1c1c" stroke="#1c1c1c" stroke-width="0.07" text-anchor="start" transform="rotate(90 139.07 158.90)" textLength="25.8" lengthAdjust="spacingAndGlyphs">hydroxydocosanoic ac</text>
<text x="144.28" y="158.90" font-size="2.6" fill="#1c1c1c" stroke="#1c1c1c" stroke-width="0.07" text-anchor="start" transform="rotate(90 144.28 158.90)" textLength="25.8" lengthAdjust="spacingAndGlyphs">dihydroxystigmastat</text>
<text x="149.48" y="158.90" font-size="2.6" fill="#1c1c1c" stroke="#1c1c1c" stroke-width="0.07" text-anchor="start" transform="rotate(90 149.48 158.90)" textLength="22.2" lengthAdjust="spacingAndGlyphs">methionylglycine</text>
<text x="154.69" y="158.90" font-size="2.6" fill="#1c1c1c" stroke="#1c1c1c" stroke-width="0.07" text-anchor="start" transform="rotate(90 154.69 158.90)" textLength="17.9" lengthAdjust="spacingAndGlyphs">cinnamic acid</text>
<text x="159.89" y="158.90" font-size="2.6" fill="#1c1c1c" stroke="#1c1c1c" stroke-width="0.07" text-anchor="start" transform="rotate(90 159.89 158.90)" textLength="21.4" lengthAdjust="spacingAndGlyphs">Methyl(T)cytosine</text>
<text x="165.10" y="158.90" font-size="2.6" fill="#1c1c1c" stroke="#1c1c1c" stroke-width="0.07" text-anchor="start" transform="rotate(90 165.10 158.90)" textLength="23.7" lengthAdjust="spacingAndGlyphs">Leukotryptlysine</text>
<text x="170.30" y="158.90" font-size="2.6" fill="#1c1c1c" stroke="#1c1c1c" stroke-width="0.07" text-anchor="start" transform="rotate(90 170.30 158.90)" textLength="22.2" lengthAdjust="spacingAndGlyphs">hydroxy linolenic</text>
<text x="175.51" y="158.90" font-size="2.6" fill="#1c1c1c" stroke="#1c1c1c" stroke-width="0.07" text-anchor="start" transform="rotate(90 175.51 158.90)" textLength="24.9" lengthAdjust="spacingAndGlyphs">hydroxy palmitic a</text>
<text x="180.71" y="158.90" font-size="2.6" fill="#1c1c1c" stroke="#1c1c1c" stroke-width="0.07" text-anchor="start" transform="rotate(90 180.71 158.90)" textLength="12.6" lengthAdjust="spacingAndGlyphs">Quercetin</text>
<text x="185.92" y="158.90" font-size="2.6" fill="#1c1c1c" stroke="#1c1c1c" stroke-width="0.07" text-anchor="start" transform="rotate(90 185.92 158.90)" textLength="23.1" lengthAdjust="spacingAndGlyphs">Chlorogenylcholine</text>
<text x="191.12" y="158.90" font-size="2.6" fill="#1c1c1c" stroke="#1c1c1c" stroke-width="0.07" text-anchor="start" transform="rotate(90 191.12 158.90)" textLength="24.9" lengthAdjust="spacingAndGlyphs">N-Nonanoyl(cholic a</text>
<text x="196.33" y="158.90" font-size="2.6" fill="#1c1c1c" stroke="#1c1c1c" stroke-width="0.07" text-anchor="start" transform="rotate(90 196.33 158.90)" textLength="11.7" lengthAdjust="spacingAndGlyphs">Astragalin</text>
<text x="201.53" y="158.90" font-size="2.6" fill="#1c1c1c" stroke="#1c1c1c" stroke-width="0.07" text-anchor="start" transform="rotate(90 201.53 158.90)" textLength="12.6" lengthAdjust="spacingAndGlyphs">Diadenine</text>
<text x="206.74" y="158.90" font-size="2.6" fill="#1c1c1c" stroke="#1c1c1c" stroke-width="0.07" text-anchor="start" transform="rotate(90 206.74 158.90)" textLength="14.4" lengthAdjust="spacingAndGlyphs">progoitrin</text>
<text x="211.94" y="158.90" font-size="2.6" fill="#1c1c1c" stroke="#1c1c1c" stroke-width="0.07" text-anchor="start" transform="rotate(90 211.94 158.90)" textLength="16.1" lengthAdjust="spacingAndGlyphs">glucoiberin</text>
<text x="217.15" y="158.90" font-size="2.6" fill="#1c1c1c" stroke="#1c1c1c" stroke-width="0.07" text-anchor="start" transform="rotate(90 217.15 158.90)" textLength="14.9" lengthAdjust="spacingAndGlyphs">ellagic acid</text>
<text x="222.35" y="158.90" font-size="2.6" fill="#1c1c1c" stroke="#1c1c1c" stroke-width="0.07" text-anchor="start" transform="rotate(90 222.35 158.90)" textLength="23.1" lengthAdjust="spacingAndGlyphs">hydroxyquinoxaline</text>
<text x="227.56" y="158.90" font-size="2.6" fill="#1c1c1c" stroke="#1c1c1c" stroke-width="0.07" text-anchor="start" transform="rotate(90 227.56 158.90)" textLength="15.2" lengthAdjust="spacingAndGlyphs">vanillic acid</text>
<text x="232.76" y="158.90" font-size="2.6" fill="#1c1c1c" stroke="#1c1c1c" stroke-width="0.07" text-anchor="start" transform="rotate(90 232.76 158.90)" textLength="11.7" lengthAdjust="spacingAndGlyphs">threonine</text>
<text x="237.97" y="158.90" font-size="2.6" fill="#1c1c1c" stroke="#1c1c1c" stroke-width="0.07" text-anchor="start" transform="rotate(90 237.97 158.90)" textLength="10.9" lengthAdjust="spacingAndGlyphs">betaine</text>
<text x="243.17" y="158.90" font-size="2.6" fill="#1c1c1c" stroke="#1c1c1c" stroke-width="0.07" text-anchor="start" transform="rotate(90 243.17 158.90)" textLength="24.9" lengthAdjust="spacingAndGlyphs">Glutamine-2-glucose</text>
<text x="248.38" y="158.90" font-size="2.6" fill="#1c1c1c" stroke="#1c1c1c" stroke-width="0.07" text-anchor="start" transform="rotate(90 248.38 158.90)" textLength="22.2" lengthAdjust="spacingAndGlyphs">indole-3-carbinol</text>
<text x="253.58" y="158.90" font-size="2.6" fill="#1c1c1c" stroke="#1c1c1c" stroke-width="0.07" text-anchor="start" transform="rotate(90 253.58 158.90)" textLength="14.4" lengthAdjust="spacingAndGlyphs">ellagic acid</text>
<text x="258.79" y="158.90" font-size="2.6" fill="#1c1c1c" stroke="#1c1c1c" stroke-width="0.07" text-anchor="start" transform="rotate(90 258.79 158.90)" textLength="20.5" lengthAdjust="spacingAndGlyphs">Glucoraphanin</text>
<text x="263.99" y="158.90" font-size="2.6" fill="#1c1c1c" stroke="#1c1c1c" stroke-width="0.07" text-anchor="start" transform="rotate(90 263.99 158.90)" textLength="14.4" lengthAdjust="spacingAndGlyphs">Sinalbin a</text>
<text x="269.20" y="158.90" font-size="2.6" fill="#1c1c1c" stroke="#1c1c1c" stroke-width="0.07" text-anchor="start" transform="rotate(90 269.20 158.90)" textLength="23.1" lengthAdjust="spacingAndGlyphs">Nonanedioic acid (2</text>
<text x="274.40" y="158.90" font-size="2.6" fill="#1c1c1c" stroke="#1c1c1c" stroke-width="0.07" text-anchor="start" transform="rotate(90 274.40 158.90)" textLength="24.9" lengthAdjust="spacingAndGlyphs">Kaempferol-3-O-glu</text>
<text x="279.61" y="158.90" font-size="2.6" fill="#1c1c1c" stroke="#1c1c1c" stroke-width="0.07" text-anchor="start" transform="rotate(90 279.61 158.90)" textLength="17.0" lengthAdjust="spacingAndGlyphs">linolenic acid</text>
<text x="284.81" y="158.90" font-size="2.6" fill="#1c1c1c" stroke="#1c1c1c" stroke-width="0.07" text-anchor="start" transform="rotate(90 284.81 158.90)" textLength="21.4" lengthAdjust="spacingAndGlyphs">Isorhamnetin 2</text>
<text x="290.02" y="158.90" font-size="2.6" fill="#1c1c1c" stroke="#1c1c1c" stroke-width="0.07" text-anchor="start" transform="rotate(90 290.02 158.90)" textLength="23.1" lengthAdjust="spacingAndGlyphs">5-Oxovalerophilic</text>
<text x="295.22" y="158.90" font-size="2.6" fill="#1c1c1c" stroke="#1c1c1c" stroke-width="0.07" text-anchor="start" transform="rotate(90 295.22 158.90)" textLength="25.4" lengthAdjust="spacingAndGlyphs">hydroxy arachidonic</text>
<text x="300.43" y="158.90" font-size="2.6" fill="#1c1c1c" stroke="#1c1c1c" stroke-width="0.07" text-anchor="start" transform="rotate(90 300.43 158.90)" textLength="10.0" lengthAdjust="spacingAndGlyphs">Biotin</text>
<text x="305.63" y="158.90" font-size="2.6" fill="#1c1c1c" stroke="#1c1c1c" stroke-width="0.07" text-anchor="start" transform="rotate(90 305.63 158.90)" textLength="17.9" lengthAdjust="spacingAndGlyphs">Nicotinic acid</text>
<text x="310.84" y="158.90" font-size="2.6" fill="#1c1c1c" stroke="#1c1c1c" stroke-width="0.07" text-anchor="start" transform="rotate(90 310.84 158.90)" textLength="19.6" lengthAdjust="spacingAndGlyphs">glucobrassicin</text>
<text x="316.04" y="158.90" font-size="2.6" fill="#1c1c1c" stroke="#1c1c1c" stroke-width="0.07" text-anchor="start" transform="rotate(90 316.04 158.90)" textLength="25.8" lengthAdjust="spacingAndGlyphs">Phosphoryl-O-glucos</text>
<text x="321.25" y="158.90" font-size="2.6" fill="#1c1c1c" stroke="#1c1c1c" stroke-width="0.07" text-anchor="start" transform="rotate(90 321.25 158.90)" textLength="17.0" lengthAdjust="spacingAndGlyphs">syringic acid</text>
<text x="326.45" y="158.90" font-size="2.6" fill="#1c1c1c" stroke="#1c1c1c" stroke-width="0.07" text-anchor="start" transform="rotate(90 326.45 158.90)" textLength="15.2" lengthAdjust="spacingAndGlyphs">phytosphing</text>
<text x="331.66" y="158.90" font-size="2.6" fill="#1c1c1c" stroke="#1c1c1c" stroke-width="0.07" text-anchor="start" transform="rotate(90 331.66 158.90)" textLength="22.2" lengthAdjust="spacingAndGlyphs">L-Phenylalanine</text>
<text x="336.86" y="158.90" font-size="2.6" fill="#1c1c1c" stroke="#1c1c1c" stroke-width="0.07" text-anchor="start" transform="rotate(90 336.86 158.90)" textLength="15.2" lengthAdjust="spacingAndGlyphs">Ferulic acid</text>
<text x="342.07" y="158.90" font-size="2.6" fill="#1c1c1c" stroke="#1c1c1c" stroke-width="0.07" text-anchor="start" transform="rotate(90 342.07 158.90)" textLength="27.5" lengthAdjust="spacingAndGlyphs">hydroxyglutarinosin</text>
<text x="347.27" y="158.90" font-size="2.6" fill="#1c1c1c" stroke="#1c1c1c" stroke-width="0.07" text-anchor="start" transform="rotate(90 347.27 158.90)" textLength="13.5" lengthAdjust="spacingAndGlyphs">stearic acid</text>
<text x="352.48" y="158.90" font-size="2.6" fill="#1c1c1c" stroke="#1c1c1c" stroke-width="0.07" text-anchor="start" transform="rotate(90 352.48 158.90)" textLength="24.5" lengthAdjust="spacingAndGlyphs">Alpi-linolenoyl-et</text>
<text x="357.68" y="158.90" font-size="2.6" fill="#1c1c1c" stroke="#1c1c1c" stroke-width="0.07" text-anchor="start" transform="rotate(90 357.68 158.90)" textLength="27.5" lengthAdjust="spacingAndGlyphs">monosaccharide sc</text>
<text x="362.90" y="158.90" font-size="3.0" fill="#111" stroke="#111" stroke-width="0.06" text-anchor="start" transform="rotate(90 362.90 158.90)" font-weight="bold" >class</text>
<text x="14.91" y="398.10" font-size="2.6" fill="#1c1c1c" stroke="#1c1c1c" stroke-width="0.07" text-anchor="start" transform="rotate(90 14.91 398.10)" textLength="14.9" lengthAdjust="spacingAndGlyphs">Ferulic acid</text>
<text x="20.41" y="398.10" font-size="2.6" fill="#1c1c1c" stroke="#1c1c1c" stroke-width="0.07" text-anchor="start" transform="rotate(90 20.41 398.10)" textLength="8.8" lengthAdjust="spacingAndGlyphs">sinigrin</text>
<text x="25.92" y="398.10" font-size="2.6" fill="#1c1c1c" stroke="#1c1c1c" stroke-width="0.07" text-anchor="start" transform="rotate(90 25.92 398.10)" textLength="14.9" lengthAdjust="spacingAndGlyphs">stearic acid</text>
<text x="31.44" y="398.10" font-size="2.6" fill="#1c1c1c" stroke="#1c1c1c" stroke-width="0.07" text-anchor="start" transform="rotate(90 31.44 398.10)" textLength="23.3" lengthAdjust="spacingAndGlyphs">Benzylisothiocyan</text>
<text x="36.95" y="398.10" font-size="2.6" fill="#1c1c1c" stroke="#1c1c1c" stroke-width="0.07" text-anchor="start" transform="rotate(90 36.95 398.10)" textLength="23.7" lengthAdjust="spacingAndGlyphs">Chlorogenic acid 1</text>
<text x="42.45" y="398.10" font-size="2.6" fill="#1c1c1c" stroke="#1c1c1c" stroke-width="0.07" text-anchor="start" transform="rotate(90 42.45 398.10)" textLength="21.9" lengthAdjust="spacingAndGlyphs">hydroxy palmitic a</text>
<text x="47.96" y="398.10" font-size="2.6" fill="#1c1c1c" stroke="#1c1c1c" stroke-width="0.07" text-anchor="start" transform="rotate(90 47.96 398.10)" textLength="21.0" lengthAdjust="spacingAndGlyphs">hydroxy linolenic</text>
<text x="53.47" y="398.10" font-size="2.6" fill="#1c1c1c" stroke="#1c1c1c" stroke-width="0.07" text-anchor="start" transform="rotate(90 53.47 398.10)" textLength="24.5" lengthAdjust="spacingAndGlyphs">Phosphatidyl isoleti</text>
<text x="58.98" y="398.10" font-size="2.6" fill="#1c1c1c" stroke="#1c1c1c" stroke-width="0.07" text-anchor="start" transform="rotate(90 58.98 398.10)" textLength="25.4" lengthAdjust="spacingAndGlyphs">4-Hydroxybenzoic a</text>
<text x="64.50" y="398.10" font-size="2.6" fill="#1c1c1c" stroke="#1c1c1c" stroke-width="0.07" text-anchor="start" transform="rotate(90 64.50 398.10)" textLength="22.8" lengthAdjust="spacingAndGlyphs">2-H-L-tetrahydr-glu</text>
<text x="70.00" y="398.10" font-size="2.6" fill="#1c1c1c" stroke="#1c1c1c" stroke-width="0.07" text-anchor="start" transform="rotate(90 70.00 398.10)" textLength="13.1" lengthAdjust="spacingAndGlyphs">LysoPC 18:</text>
<text x="75.52" y="398.10" font-size="2.6" fill="#1c1c1c" stroke="#1c1c1c" stroke-width="0.07" text-anchor="start" transform="rotate(90 75.52 398.10)" textLength="8.8" lengthAdjust="spacingAndGlyphs">betaine</text>
<text x="81.03" y="398.10" font-size="2.6" fill="#1c1c1c" stroke="#1c1c1c" stroke-width="0.07" text-anchor="start" transform="rotate(90 81.03 398.10)" textLength="24.0" lengthAdjust="spacingAndGlyphs">Dihydroxystigmastat</text>
<text x="86.53" y="398.10" font-size="2.6" fill="#1c1c1c" stroke="#1c1c1c" stroke-width="0.07" text-anchor="start" transform="rotate(90 86.53 398.10)" textLength="10.5" lengthAdjust="spacingAndGlyphs">Ellagine</text>
<text x="92.05" y="398.10" font-size="2.6" fill="#1c1c1c" stroke="#1c1c1c" stroke-width="0.07" text-anchor="start" transform="rotate(90 92.05 398.10)" textLength="21.9" lengthAdjust="spacingAndGlyphs">indole-3-carbinol</text>
<text x="97.56" y="398.10" font-size="2.6" fill="#1c1c1c" stroke="#1c1c1c" stroke-width="0.07" text-anchor="start" transform="rotate(90 97.56 398.10)" textLength="21.9" lengthAdjust="spacingAndGlyphs">Luteolin-3-O-glu</text>
<text x="103.06" y="398.10" font-size="2.6" fill="#1c1c1c" stroke="#1c1c1c" stroke-width="0.07" text-anchor="start" transform="rotate(90 103.06 398.10)" textLength="23.7" lengthAdjust="spacingAndGlyphs">PG-Lfindosylglucos</text>
<text x="108.58" y="398.10" font-size="2.6" fill="#1c1c1c" stroke="#1c1c1c" stroke-width="0.07" text-anchor="start" transform="rotate(90 108.58 398.10)" textLength="14.5" lengthAdjust="spacingAndGlyphs">ellagic acid</text>
<text x="114.09" y="398.10" font-size="2.6" fill="#1c1c1c" stroke="#1c1c1c" stroke-width="0.07" text-anchor="start" transform="rotate(90 114.09 398.10)" textLength="14.5" lengthAdjust="spacingAndGlyphs">vanillic acid</text>
<text x="119.59" y="398.10" font-size="2.6" fill="#1c1c1c" stroke="#1c1c1c" stroke-width="0.07" text-anchor="start" transform="rotate(90 119.59 398.10)" textLength="22.8" lengthAdjust="spacingAndGlyphs">Apigenin-3-O-glu</text>
<text x="125.11" y="398.10" font-size="2.6" fill="#1c1c1c" stroke="#1c1c1c" stroke-width="0.07" text-anchor="start" transform="rotate(90 125.11 398.10)" textLength="21.9" lengthAdjust="spacingAndGlyphs">allyl isothiocyana</text>
<text x="130.61" y="398.10" font-size="2.6" fill="#1c1c1c" stroke="#1c1c1c" stroke-width="0.07" text-anchor="start" transform="rotate(90 130.61 398.10)" textLength="23.7" lengthAdjust="spacingAndGlyphs">hydroxy arachidoni</text>
<text x="136.12" y="398.10" font-size="2.6" fill="#1c1c1c" stroke="#1c1c1c" stroke-width="0.07" text-anchor="start" transform="rotate(90 136.12 398.10)" textLength="16.6" lengthAdjust="spacingAndGlyphs">linolenic acid</text>
<text x="141.63" y="398.10" font-size="2.6" fill="#1c1c1c" stroke="#1c1c1c" stroke-width="0.07" text-anchor="start" transform="rotate(90 141.63 398.10)" textLength="16.6" lengthAdjust="spacingAndGlyphs">isorhamnetin</text>
<text x="147.15" y="398.10" font-size="2.6" fill="#1c1c1c" stroke="#1c1c1c" stroke-width="0.07" text-anchor="start" transform="rotate(90 147.15 398.10)" textLength="13.1" lengthAdjust="spacingAndGlyphs">erucic acid</text>
<text x="152.66" y="398.10" font-size="2.6" fill="#1c1c1c" stroke="#1c1c1c" stroke-width="0.07" text-anchor="start" transform="rotate(90 152.66 398.10)" textLength="20.1" lengthAdjust="spacingAndGlyphs">arachidonic acid</text>
<text x="158.16" y="398.10" font-size="2.6" fill="#1c1c1c" stroke="#1c1c1c" stroke-width="0.07" text-anchor="start" transform="rotate(90 158.16 398.10)" textLength="13.1" lengthAdjust="spacingAndGlyphs">kaempferol</text>
<text x="163.68" y="398.10" font-size="2.6" fill="#1c1c1c" stroke="#1c1c1c" stroke-width="0.07" text-anchor="start" transform="rotate(90 163.68 398.10)" textLength="24.5" lengthAdjust="spacingAndGlyphs">Peonidin-3-O-gluco</text>
<text x="169.19" y="398.10" font-size="2.6" fill="#1c1c1c" stroke="#1c1c1c" stroke-width="0.07" text-anchor="start" transform="rotate(90 169.19 398.10)" textLength="20.1" lengthAdjust="spacingAndGlyphs">Dodecanoic acid (</text>
<text x="174.69" y="398.10" font-size="2.6" fill="#1c1c1c" stroke="#1c1c1c" stroke-width="0.07" text-anchor="start" transform="rotate(90 174.69 398.10)" textLength="19.8" lengthAdjust="spacingAndGlyphs">beta-tocopherol</text>
<text x="180.21" y="398.10" font-size="2.6" fill="#1c1c1c" stroke="#1c1c1c" stroke-width="0.07" text-anchor="start" transform="rotate(90 180.21 398.10)" textLength="14.9" lengthAdjust="spacingAndGlyphs">Syringic acid</text>
<text x="185.72" y="398.10" font-size="2.6" fill="#1c1c1c" stroke="#1c1c1c" stroke-width="0.07" text-anchor="start" transform="rotate(90 185.72 398.10)" textLength="21.9" lengthAdjust="spacingAndGlyphs">L-Glutathionyl-Gly</text>
<text x="191.22" y="398.10" font-size="2.6" fill="#1c1c1c" stroke="#1c1c1c" stroke-width="0.07" text-anchor="start" transform="rotate(90 191.22 398.10)" textLength="21.9" lengthAdjust="spacingAndGlyphs">PE-18 octadecen</text>
<text x="196.73" y="398.10" font-size="2.6" fill="#1c1c1c" stroke="#1c1c1c" stroke-width="0.07" text-anchor="start" transform="rotate(90 196.73 398.10)" textLength="12.3" lengthAdjust="spacingAndGlyphs">Diosmetin</text>
<text x="202.25" y="398.10" font-size="2.6" fill="#1c1c1c" stroke="#1c1c1c" stroke-width="0.07" text-anchor="start" transform="rotate(90 202.25 398.10)" textLength="17.5" lengthAdjust="spacingAndGlyphs">gluconasturtiin</text>
<text x="207.75" y="398.10" font-size="2.6" fill="#1c1c1c" stroke="#1c1c1c" stroke-width="0.07" text-anchor="start" transform="rotate(90 207.75 398.10)" textLength="20.1" lengthAdjust="spacingAndGlyphs">Glucotropaeolin</text>
<text x="213.26" y="398.10" font-size="2.6" fill="#1c1c1c" stroke="#1c1c1c" stroke-width="0.07" text-anchor="start" transform="rotate(90 213.26 398.10)" textLength="16.6" lengthAdjust="spacingAndGlyphs">Glucocheirolin</text>
<text x="218.78" y="398.10" font-size="2.6" fill="#1c1c1c" stroke="#1c1c1c" stroke-width="0.07" text-anchor="start" transform="rotate(90 218.78 398.10)" textLength="11.4" lengthAdjust="spacingAndGlyphs">progoitrin</text>
<text x="224.28" y="398.10" font-size="2.6" fill="#1c1c1c" stroke="#1c1c1c" stroke-width="0.07" text-anchor="start" transform="rotate(90 224.28 398.10)" textLength="20.1" lengthAdjust="spacingAndGlyphs">L-Phenylalanine</text>
<text x="229.79" y="398.10" font-size="2.6" fill="#1c1c1c" stroke="#1c1c1c" stroke-width="0.07" text-anchor="start" transform="rotate(90 229.79 398.10)" textLength="18.4" lengthAdjust="spacingAndGlyphs">gluconasturtiin</text>
<text x="235.31" y="398.10" font-size="2.6" fill="#1c1c1c" stroke="#1c1c1c" stroke-width="0.07" text-anchor="start" transform="rotate(90 235.31 398.10)" textLength="5.3" lengthAdjust="spacingAndGlyphs">Gutt</text>
<text x="240.81" y="398.10" font-size="2.6" fill="#1c1c1c" stroke="#1c1c1c" stroke-width="0.07" text-anchor="start" transform="rotate(90 240.81 398.10)" textLength="26.3" lengthAdjust="spacingAndGlyphs">gamma-glutamylleuc</text>
<text x="246.32" y="398.10" font-size="2.6" fill="#1c1c1c" stroke="#1c1c1c" stroke-width="0.07" text-anchor="start" transform="rotate(90 246.32 398.10)" textLength="23.7" lengthAdjust="spacingAndGlyphs">L-Valyl-L-Phenylal</text>
<text x="251.84" y="398.10" font-size="2.6" fill="#1c1c1c" stroke="#1c1c1c" stroke-width="0.07" text-anchor="start" transform="rotate(90 251.84 398.10)" textLength="20.1" lengthAdjust="spacingAndGlyphs">4-pentenyl isothio</text>
<text x="257.34" y="398.10" font-size="2.6" fill="#1c1c1c" stroke="#1c1c1c" stroke-width="0.07" text-anchor="start" transform="rotate(90 257.34 398.10)" textLength="15.8" lengthAdjust="spacingAndGlyphs">Myricetrin</text>
<text x="262.85" y="398.10" font-size="2.6" fill="#1c1c1c" stroke="#1c1c1c" stroke-width="0.07" text-anchor="start" transform="rotate(90 262.85 398.10)" textLength="25.4" lengthAdjust="spacingAndGlyphs">hydroxydocosanoic</text>
<text x="268.36" y="398.10" font-size="2.6" fill="#1c1c1c" stroke="#1c1c1c" stroke-width="0.07" text-anchor="start" transform="rotate(90 268.36 398.10)" textLength="21.0" lengthAdjust="spacingAndGlyphs">N-acetyl-L-tyrosin</text>
<text x="273.87" y="398.10" font-size="2.6" fill="#1c1c1c" stroke="#1c1c1c" stroke-width="0.07" text-anchor="start" transform="rotate(90 273.87 398.10)" textLength="16.6" lengthAdjust="spacingAndGlyphs">PE(18:3/18:0)</text>
<text x="279.38" y="398.10" font-size="2.6" fill="#1c1c1c" stroke="#1c1c1c" stroke-width="0.07" text-anchor="start" transform="rotate(90 279.38 398.10)" textLength="14.0" lengthAdjust="spacingAndGlyphs">Fumaric aci</text>
<text x="284.89" y="398.10" font-size="2.6" fill="#1c1c1c" stroke="#1c1c1c" stroke-width="0.07" text-anchor="start" transform="rotate(90 284.89 398.10)" textLength="14.0" lengthAdjust="spacingAndGlyphs">myristic acid</text>
<text x="290.40" y="398.10" font-size="2.6" fill="#1c1c1c" stroke="#1c1c1c" stroke-width="0.07" text-anchor="start" transform="rotate(90 290.40 398.10)" textLength="21.9" lengthAdjust="spacingAndGlyphs">hydroxy stearic aci</text>
<text x="295.91" y="398.10" font-size="2.6" fill="#1c1c1c" stroke="#1c1c1c" stroke-width="0.07" text-anchor="start" transform="rotate(90 295.91 398.10)" textLength="15.8" lengthAdjust="spacingAndGlyphs">Desmosterol</text>
<text x="301.42" y="398.10" font-size="2.6" fill="#1c1c1c" stroke="#1c1c1c" stroke-width="0.07" text-anchor="start" transform="rotate(90 301.42 398.10)" textLength="13.1" lengthAdjust="spacingAndGlyphs">Tryptamine</text>
<text x="306.93" y="398.10" font-size="2.6" fill="#1c1c1c" stroke="#1c1c1c" stroke-width="0.07" text-anchor="start" transform="rotate(90 306.93 398.10)" textLength="8.8" lengthAdjust="spacingAndGlyphs">leucine</text>
<text x="312.44" y="398.10" font-size="2.6" fill="#1c1c1c" stroke="#1c1c1c" stroke-width="0.07" text-anchor="start" transform="rotate(90 312.44 398.10)" textLength="21.9" lengthAdjust="spacingAndGlyphs">Butyrylglucosamid</text>
<text x="317.95" y="398.10" font-size="2.6" fill="#1c1c1c" stroke="#1c1c1c" stroke-width="0.07" text-anchor="start" transform="rotate(90 317.95 398.10)" textLength="19.3" lengthAdjust="spacingAndGlyphs">N-Feruloylglycine</text>
<text x="323.46" y="398.10" font-size="2.6" fill="#1c1c1c" stroke="#1c1c1c" stroke-width="0.07" text-anchor="start" transform="rotate(90 323.46 398.10)" textLength="6.1" lengthAdjust="spacingAndGlyphs">valin</text>
<text x="328.97" y="398.10" font-size="2.6" fill="#1c1c1c" stroke="#1c1c1c" stroke-width="0.07" text-anchor="start" transform="rotate(90 328.97 398.10)" textLength="14.0" lengthAdjust="spacingAndGlyphs">phosphatidi</text>
<text x="334.48" y="398.10" font-size="2.6" fill="#1c1c1c" stroke="#1c1c1c" stroke-width="0.07" text-anchor="start" transform="rotate(90 334.48 398.10)" textLength="22.8" lengthAdjust="spacingAndGlyphs">aminopentanoic ac</text>
<text x="339.99" y="398.10" font-size="2.6" fill="#1c1c1c" stroke="#1c1c1c" stroke-width="0.07" text-anchor="start" transform="rotate(90 339.99 398.10)" textLength="20.1" lengthAdjust="spacingAndGlyphs">Nonanedioic acid</text>
<text x="345.50" y="398.10" font-size="2.6" fill="#1c1c1c" stroke="#1c1c1c" stroke-width="0.07" text-anchor="start" transform="rotate(90 345.50 398.10)" textLength="25.4" lengthAdjust="spacingAndGlyphs">PG(16:0/18:4-cg.PG2)</text>
<text x="351.01" y="398.10" font-size="2.6" fill="#1c1c1c" stroke="#1c1c1c" stroke-width="0.07" text-anchor="start" transform="rotate(90 351.01 398.10)" textLength="14.0" lengthAdjust="spacingAndGlyphs">LysoPE (18:</text>
<text x="356.52" y="398.10" font-size="2.6" fill="#1c1c1c" stroke="#1c1c1c" stroke-width="0.07" text-anchor="start" transform="rotate(90 356.52 398.10)" textLength="15.8" lengthAdjust="spacingAndGlyphs">Nicotinic acid</text>
<text x="361.70" y="398.20" font-size="3.0" fill="#111" stroke="#111" stroke-width="0.06" text-anchor="start" transform="rotate(90 361.70 398.20)" font-weight="bold" >class</text>
<rect x="314.1" y="189.4" width="51.9" height="3.8" fill="url(#gbr)"/>
<text x="315.20" y="194.60" font-size="3.8" fill="#111" stroke="#111" stroke-width="0.07" text-anchor="start" transform="rotate(90 315.20 194.60)" >-1.5</text>
<text x="323.10" y="194.60" font-size="3.8" fill="#111" stroke="#111" stroke-width="0.07" text-anchor="start" transform="rotate(90 323.10 194.60)" >-1</text>
<text x="330.90" y="194.60" font-size="3.8" fill="#111" stroke="#111" stroke-width="0.07" text-anchor="start" transform="rotate(90 330.90 194.60)" >-0.5</text>
<text x="338.70" y="194.60" font-size="3.8" fill="#111" stroke="#111" stroke-width="0.07" text-anchor="start" transform="rotate(90 338.70 194.60)" >0</text>
<text x="346.20" y="194.60" font-size="3.8" fill="#111" stroke="#111" stroke-width="0.07" text-anchor="start" transform="rotate(90 346.20 194.60)" >0.5</text>
<text x="353.70" y="194.60" font-size="3.8" fill="#111" stroke="#111" stroke-width="0.07" text-anchor="start" transform="rotate(90 353.70 194.60)" >1</text>
<text x="361.70" y="194.60" font-size="3.8" fill="#111" stroke="#111" stroke-width="0.07" text-anchor="start" transform="rotate(90 361.70 194.60)" >1.5</text>
<text x="363.20" y="202.20" font-size="3.6" fill="#111" stroke="#111" stroke-width="0.06" text-anchor="start" transform="rotate(90 363.20 202.20)" font-weight="bold" >class</text>
<rect x="352.4" y="202.7" width="5.1" height="4.8" fill="rgb(240,250,175)" stroke="#999" stroke-width="0.3"/>
<rect x="357.5" y="202.7" width="5.0" height="4.8" fill="rgb(100,250,60)" stroke="#999" stroke-width="0.3"/>
<text x="358.50" y="209.20" font-size="3.2" fill="#111" stroke="#111" stroke-width="0.07" text-anchor="start" transform="rotate(90 358.50 209.20)" textLength="44.5" lengthAdjust="spacingAndGlyphs">Cauliflower-sprout mustard seeds</text>
<text x="353.50" y="209.20" font-size="3.2" fill="#111" stroke="#111" stroke-width="0.07" text-anchor="start" transform="rotate(90 353.50 209.20)" textLength="33" lengthAdjust="spacingAndGlyphs">River mustard seeds</text>
<rect x="310" y="427.8" width="54.8" height="3.3" fill="url(#gbr)"/>
<text x="312.40" y="432.60" font-size="3.8" fill="#111" stroke="#111" stroke-width="0.07" text-anchor="start" transform="rotate(90 312.40 432.60)" >-1.5</text>
<text x="320.70" y="432.60" font-size="3.8" fill="#111" stroke="#111" stroke-width="0.07" text-anchor="start" transform="rotate(90 320.70 432.60)" >-1</text>
<text x="328.30" y="432.60" font-size="3.8" fill="#111" stroke="#111" stroke-width="0.07" text-anchor="start" transform="rotate(90 328.30 432.60)" >-0.5</text>
<text x="336.20" y="432.60" font-size="3.8" fill="#111" stroke="#111" stroke-width="0.07" text-anchor="start" transform="rotate(90 336.20 432.60)" >0</text>
<text x="344.20" y="432.60" font-size="3.8" fill="#111" stroke="#111" stroke-width="0.07" text-anchor="start" transform="rotate(90 344.20 432.60)" >0.5</text>
<text x="351.70" y="432.60" font-size="3.8" fill="#111" stroke="#111" stroke-width="0.07" text-anchor="start" transform="rotate(90 351.70 432.60)" >1</text>
<text x="359.20" y="432.60" font-size="3.8" fill="#111" stroke="#111" stroke-width="0.07" text-anchor="start" transform="rotate(90 359.20 432.60)" >1.5</text>
<text x="362.20" y="440.00" font-size="3.6" fill="#111" stroke="#111" stroke-width="0.06" text-anchor="start" transform="rotate(90 362.20 440.00)" font-weight="bold" >class</text>
<rect x="350.8" y="440.3" width="5.2" height="5.2" fill="rgb(175,176,98)" stroke="#999" stroke-width="0.3"/>
<rect x="356" y="440.3" width="5.3" height="5.2" fill="rgb(200,250,50)" stroke="#999" stroke-width="0.3"/>
<text x="357.50" y="447.00" font-size="3.2" fill="#111" stroke="#111" stroke-width="0.07" text-anchor="start" transform="rotate(90 357.50 447.00)" textLength="31" lengthAdjust="spacingAndGlyphs">River mustard seeds</text>
<text x="352.20" y="447.00" font-size="3.2" fill="#111" stroke="#111" stroke-width="0.07" text-anchor="start" transform="rotate(90 352.20 447.00)" textLength="37" lengthAdjust="spacingAndGlyphs">Roasted mustard seeds</text>
<rect x="404.30" y="23.40" width="243.30" height="141.00" fill="#fff"/>
<path d="M424.20 23.40V164.40M489.20 23.40V164.40M554.30 23.40V164.40M619.60 23.40V164.40M404.30 31.50H647.60M404.30 72.80H647.60M404.30 114.30H647.60M404.30 156.00H647.60" stroke="#ececec" stroke-width="0.35" fill="none"/>
<path d="M456.80 23.40V164.40M521.60 23.40V164.40M587.10 23.40V164.40M404.30 52.30H647.60M404.30 93.30H647.60M404.30 135.30H647.60" stroke="#dcdcdc" stroke-width="0.55" fill="none"/>
<path d="M509.40 23.40V164.40M535.30 23.40V164.40M404.30 155.75H647.60" stroke="#555" stroke-width="0.5" fill="none"/>
<rect x="404.30" y="23.40" width="243.30" height="141.00" fill="none" stroke="#555" stroke-width="0.7"/>
<ellipse cx="528.0" cy="148.9" rx="1.8" ry="1.5" fill="rgb(152,152,152)" stroke="#555" stroke-width="0.35"/>
<ellipse cx="515.9" cy="113.5" rx="1.8" ry="1.5" fill="rgb(152,152,152)" stroke="#555" stroke-width="0.35"/>
<ellipse cx="517.9" cy="122.3" rx="1.8" ry="1.5" fill="rgb(152,152,152)" stroke="#555" stroke-width="0.35"/>
<ellipse cx="524.0" cy="113.8" rx="1.8" ry="1.5" fill="rgb(152,152,152)" stroke="#555" stroke-width="0.35"/>
<ellipse cx="519.7" cy="115.2" rx="1.8" ry="1.5" fill="rgb(152,152,152)" stroke="#555" stroke-width="0.35"/>
<ellipse cx="534.1" cy="146.4" rx="1.8" ry="1.5" fill="rgb(152,152,152)" stroke="#555" stroke-width="0.35"/>
<ellipse cx="522.1" cy="115.6" rx="1.8" ry="1.5" fill="rgb(152,152,152)" stroke="#555" stroke-width="0.35"/>
<ellipse cx="526.5" cy="111.0" rx="1.8" ry="1.5" fill="rgb(152,152,152)" stroke="#555" stroke-width="0.35"/>
<ellipse cx="517.0" cy="125.5" rx="1.8" ry="1.5" fill="rgb(152,152,152)" stroke="#555" stroke-width="0.35"/>
<ellipse cx="513.2" cy="126.0" rx="1.8" ry="1.5" fill="rgb(152,152,152)" stroke="#555" stroke-width="0.35"/>
<ellipse cx="529.9" cy="141.2" rx="1.8" ry="1.5" fill="rgb(152,152,152)" stroke="#555" stroke-width="0.35"/>
<ellipse cx="523.5" cy="138.1" rx="1.8" ry="1.5" fill="rgb(152,152,152)" stroke="#555" stroke-width="0.35"/>
<ellipse cx="522.7" cy="112.8" rx="1.8" ry="1.5" fill="rgb(152,152,152)" stroke="#555" stroke-width="0.35"/>
<ellipse cx="525.8" cy="126.3" rx="1.8" ry="1.5" fill="rgb(152,152,152)" stroke="#555" stroke-width="0.35"/>
<ellipse cx="525.1" cy="144.1" rx="1.8" ry="1.5" fill="rgb(152,152,152)" stroke="#555" stroke-width="0.35"/>
<ellipse cx="521.8" cy="117.3" rx="1.8" ry="1.5" fill="rgb(152,152,152)" stroke="#555" stroke-width="0.35"/>
<ellipse cx="528.4" cy="150.8" rx="1.8" ry="1.5" fill="rgb(152,152,152)" stroke="#555" stroke-width="0.35"/>
<ellipse cx="527.5" cy="138.5" rx="1.8" ry="1.5" fill="rgb(152,152,152)" stroke="#555" stroke-width="0.35"/>
<ellipse cx="522.5" cy="121.6" rx="1.8" ry="1.5" fill="rgb(152,152,152)" stroke="#555" stroke-width="0.35"/>
<ellipse cx="521.7" cy="145.8" rx="1.8" ry="1.5" fill="rgb(152,152,152)" stroke="#555" stroke-width="0.35"/>
<ellipse cx="518.0" cy="127.3" rx="1.8" ry="1.5" fill="rgb(152,152,152)" stroke="#555" stroke-width="0.35"/>
<ellipse cx="521.5" cy="140.3" rx="1.8" ry="1.5" fill="rgb(152,152,152)" stroke="#555" stroke-width="0.35"/>
<ellipse cx="533.0" cy="114.9" rx="1.8" ry="1.5" fill="rgb(152,152,152)" stroke="#555" stroke-width="0.35"/>
<ellipse cx="529.6" cy="125.5" rx="1.8" ry="1.5" fill="rgb(152,152,152)" stroke="#555" stroke-width="0.35"/>
<ellipse cx="514.7" cy="135.1" rx="1.8" ry="1.5" fill="rgb(152,152,152)" stroke="#555" stroke-width="0.35"/>
<ellipse cx="524.4" cy="142.4" rx="1.8" ry="1.5" fill="rgb(152,152,152)" stroke="#555" stroke-width="0.35"/>
<ellipse cx="530.7" cy="132.4" rx="1.8" ry="1.5" fill="rgb(152,152,152)" stroke="#555" stroke-width="0.35"/>
<ellipse cx="527.6" cy="125.7" rx="1.8" ry="1.5" fill="rgb(152,152,152)" stroke="#555" stroke-width="0.35"/>
<ellipse cx="529.3" cy="111.8" rx="1.8" ry="1.5" fill="rgb(152,152,152)" stroke="#555" stroke-width="0.35"/>
<ellipse cx="520.2" cy="119.2" rx="1.8" ry="1.5" fill="rgb(152,152,152)" stroke="#555" stroke-width="0.35"/>
<ellipse cx="517.4" cy="143.7" rx="1.8" ry="1.5" fill="rgb(152,152,152)" stroke="#555" stroke-width="0.35"/>
<ellipse cx="517.2" cy="112.2" rx="1.8" ry="1.5" fill="rgb(152,152,152)" stroke="#555" stroke-width="0.35"/>
<ellipse cx="529.6" cy="147.2" rx="1.8" ry="1.5" fill="rgb(152,152,152)" stroke="#555" stroke-width="0.35"/>
<ellipse cx="526.5" cy="129.7" rx="1.8" ry="1.5" fill="rgb(152,152,152)" stroke="#555" stroke-width="0.35"/>
<ellipse cx="524.9" cy="117.1" rx="1.8" ry="1.5" fill="rgb(152,152,152)" stroke="#555" stroke-width="0.35"/>
<ellipse cx="533.7" cy="123.7" rx="1.8" ry="1.5" fill="rgb(152,152,152)" stroke="#555" stroke-width="0.35"/>
<ellipse cx="524.6" cy="111.9" rx="1.8" ry="1.5" fill="rgb(152,152,152)" stroke="#555" stroke-width="0.35"/>
<ellipse cx="530.8" cy="123.8" rx="1.8" ry="1.5" fill="rgb(152,152,152)" stroke="#555" stroke-width="0.35"/>
<ellipse cx="516.6" cy="105.6" rx="1.8" ry="1.5" fill="rgb(152,152,152)" stroke="#555" stroke-width="0.35"/>
<ellipse cx="518.7" cy="118.1" rx="1.8" ry="1.5" fill="rgb(152,152,152)" stroke="#555" stroke-width="0.35"/>
<ellipse cx="519.1" cy="130.2" rx="1.8" ry="1.5" fill="rgb(152,152,152)" stroke="#555" stroke-width="0.35"/>
<ellipse cx="521.9" cy="138.3" rx="1.8" ry="1.5" fill="rgb(152,152,152)" stroke="#555" stroke-width="0.35"/>
<ellipse cx="527.0" cy="124.2" rx="1.8" ry="1.5" fill="rgb(152,152,152)" stroke="#555" stroke-width="0.35"/>
<ellipse cx="530.7" cy="152.1" rx="1.8" ry="1.5" fill="rgb(152,152,152)" stroke="#555" stroke-width="0.35"/>
<ellipse cx="515.6" cy="148.3" rx="1.8" ry="1.5" fill="rgb(152,152,152)" stroke="#555" stroke-width="0.35"/>
<ellipse cx="517.6" cy="145.5" rx="1.8" ry="1.5" fill="rgb(152,152,152)" stroke="#555" stroke-width="0.35"/>
<ellipse cx="520.1" cy="113.4" rx="1.8" ry="1.5" fill="rgb(152,152,152)" stroke="#555" stroke-width="0.35"/>
<ellipse cx="532.1" cy="136.8" rx="1.8" ry="1.5" fill="rgb(152,152,152)" stroke="#555" stroke-width="0.35"/>
<ellipse cx="531.0" cy="115.7" rx="1.8" ry="1.5" fill="rgb(152,152,152)" stroke="#555" stroke-width="0.35"/>
<ellipse cx="527.7" cy="132.8" rx="1.8" ry="1.5" fill="rgb(152,152,152)" stroke="#555" stroke-width="0.35"/>
<ellipse cx="528.8" cy="128.1" rx="1.8" ry="1.5" fill="rgb(152,152,152)" stroke="#555" stroke-width="0.35"/>
<ellipse cx="523.3" cy="108.5" rx="1.8" ry="1.5" fill="rgb(152,152,152)" stroke="#555" stroke-width="0.35"/>
<ellipse cx="515.7" cy="130.8" rx="1.8" ry="1.5" fill="rgb(152,152,152)" stroke="#555" stroke-width="0.35"/>
<ellipse cx="523.5" cy="133.3" rx="1.8" ry="1.5" fill="rgb(152,152,152)" stroke="#555" stroke-width="0.35"/>
<ellipse cx="524.9" cy="139.8" rx="1.8" ry="1.5" fill="rgb(152,152,152)" stroke="#555" stroke-width="0.35"/>
<ellipse cx="513.1" cy="136.9" rx="1.8" ry="1.5" fill="rgb(152,152,152)" stroke="#555" stroke-width="0.35"/>
<ellipse cx="532.2" cy="107.2" rx="1.8" ry="1.5" fill="rgb(152,152,152)" stroke="#555" stroke-width="0.35"/>
<ellipse cx="519.9" cy="149.9" rx="1.8" ry="1.5" fill="rgb(152,152,152)" stroke="#555" stroke-width="0.35"/>
<ellipse cx="524.1" cy="145.2" rx="1.8" ry="1.5" fill="rgb(152,152,152)" stroke="#555" stroke-width="0.35"/>
<ellipse cx="521.8" cy="134.0" rx="1.8" ry="1.5" fill="rgb(152,152,152)" stroke="#555" stroke-width="0.35"/>
<ellipse cx="530.7" cy="120.6" rx="1.8" ry="1.5" fill="rgb(152,152,152)" stroke="#555" stroke-width="0.35"/>
<ellipse cx="523.6" cy="119.5" rx="1.8" ry="1.5" fill="rgb(152,152,152)" stroke="#555" stroke-width="0.35"/>
<ellipse cx="523.6" cy="155.7" rx="1.8" ry="1.5" fill="rgb(152,152,152)" stroke="#555" stroke-width="0.35"/>
<ellipse cx="529.9" cy="122.5" rx="1.8" ry="1.5" fill="rgb(152,152,152)" stroke="#555" stroke-width="0.35"/>
<ellipse cx="519.5" cy="120.9" rx="1.8" ry="1.5" fill="rgb(152,152,152)" stroke="#555" stroke-width="0.35"/>
<ellipse cx="525.4" cy="138.2" rx="1.8" ry="1.5" fill="rgb(152,152,152)" stroke="#555" stroke-width="0.35"/>
<ellipse cx="529.8" cy="107.6" rx="1.8" ry="1.5" fill="rgb(152,152,152)" stroke="#555" stroke-width="0.35"/>
<ellipse cx="527.8" cy="136.2" rx="1.8" ry="1.5" fill="rgb(152,152,152)" stroke="#555" stroke-width="0.35"/>
<ellipse cx="527.5" cy="116.4" rx="1.8" ry="1.5" fill="rgb(152,152,152)" stroke="#555" stroke-width="0.35"/>
<ellipse cx="516.5" cy="107.4" rx="1.8" ry="1.5" fill="rgb(152,152,152)" stroke="#555" stroke-width="0.35"/>
<ellipse cx="530.6" cy="146.0" rx="1.8" ry="1.5" fill="rgb(152,152,152)" stroke="#555" stroke-width="0.35"/>
<ellipse cx="519.5" cy="127.7" rx="1.8" ry="1.5" fill="rgb(152,152,152)" stroke="#555" stroke-width="0.35"/>
<ellipse cx="530.3" cy="135.1" rx="1.8" ry="1.5" fill="rgb(152,152,152)" stroke="#555" stroke-width="0.35"/>
<ellipse cx="521.0" cy="136.0" rx="1.8" ry="1.5" fill="rgb(152,152,152)" stroke="#555" stroke-width="0.35"/>
<ellipse cx="521.6" cy="110.8" rx="1.8" ry="1.5" fill="rgb(152,152,152)" stroke="#555" stroke-width="0.35"/>
<ellipse cx="533.8" cy="110.0" rx="1.8" ry="1.5" fill="rgb(152,152,152)" stroke="#555" stroke-width="0.35"/>
<ellipse cx="528.6" cy="109.8" rx="1.8" ry="1.5" fill="rgb(152,152,152)" stroke="#555" stroke-width="0.35"/>
<ellipse cx="533.0" cy="118.6" rx="1.8" ry="1.5" fill="rgb(152,152,152)" stroke="#555" stroke-width="0.35"/>
<ellipse cx="526.8" cy="147.6" rx="1.8" ry="1.5" fill="rgb(152,152,152)" stroke="#555" stroke-width="0.35"/>
<ellipse cx="514.3" cy="121.5" rx="1.8" ry="1.5" fill="rgb(152,152,152)" stroke="#555" stroke-width="0.35"/>
<ellipse cx="528.5" cy="114.0" rx="1.8" ry="1.5" fill="rgb(152,152,152)" stroke="#555" stroke-width="0.35"/>
<ellipse cx="515.7" cy="146.6" rx="1.8" ry="1.5" fill="rgb(152,152,152)" stroke="#555" stroke-width="0.35"/>
<ellipse cx="520.5" cy="138.7" rx="1.8" ry="1.5" fill="rgb(152,152,152)" stroke="#555" stroke-width="0.35"/>
<ellipse cx="518.9" cy="108.6" rx="1.8" ry="1.5" fill="rgb(152,152,152)" stroke="#555" stroke-width="0.35"/>
<ellipse cx="534.0" cy="148.3" rx="1.8" ry="1.5" fill="rgb(152,152,152)" stroke="#555" stroke-width="0.35"/>
<ellipse cx="532.0" cy="124.9" rx="1.8" ry="1.5" fill="rgb(152,152,152)" stroke="#555" stroke-width="0.35"/>
<ellipse cx="525.7" cy="151.6" rx="1.8" ry="1.5" fill="rgb(152,152,152)" stroke="#555" stroke-width="0.35"/>
<ellipse cx="524.7" cy="146.6" rx="1.8" ry="1.5" fill="rgb(152,152,152)" stroke="#555" stroke-width="0.35"/>
<ellipse cx="517.0" cy="118.6" rx="1.8" ry="1.5" fill="rgb(152,152,152)" stroke="#555" stroke-width="0.35"/>
<ellipse cx="517.6" cy="135.3" rx="1.8" ry="1.5" fill="rgb(152,152,152)" stroke="#555" stroke-width="0.35"/>
<ellipse cx="523.0" cy="135.9" rx="1.8" ry="1.5" fill="rgb(152,152,152)" stroke="#555" stroke-width="0.35"/>
<ellipse cx="516.7" cy="115.4" rx="1.8" ry="1.5" fill="rgb(152,152,152)" stroke="#555" stroke-width="0.35"/>
<ellipse cx="516.5" cy="141.6" rx="1.8" ry="1.5" fill="rgb(152,152,152)" stroke="#555" stroke-width="0.35"/>
<ellipse cx="521.4" cy="132.1" rx="1.8" ry="1.5" fill="rgb(152,152,152)" stroke="#555" stroke-width="0.35"/>
<ellipse cx="526.4" cy="146.0" rx="1.8" ry="1.5" fill="rgb(152,152,152)" stroke="#555" stroke-width="0.35"/>
<ellipse cx="515.9" cy="136.3" rx="1.8" ry="1.5" fill="rgb(152,152,152)" stroke="#555" stroke-width="0.35"/>
<ellipse cx="513.0" cy="107.2" rx="1.8" ry="1.5" fill="rgb(152,152,152)" stroke="#555" stroke-width="0.35"/>
<ellipse cx="531.6" cy="130.5" rx="1.8" ry="1.5" fill="rgb(152,152,152)" stroke="#555" stroke-width="0.35"/>
<ellipse cx="521.9" cy="154.2" rx="1.8" ry="1.5" fill="rgb(152,152,152)" stroke="#555" stroke-width="0.35"/>
<ellipse cx="513.3" cy="115.9" rx="1.8" ry="1.5" fill="rgb(152,152,152)" stroke="#555" stroke-width="0.35"/>
<ellipse cx="538.0" cy="135.8" rx="1.8" ry="1.5" fill="rgb(152,152,152)" stroke="#555" stroke-width="0.35"/>
<ellipse cx="515.0" cy="118.5" rx="1.7" ry="1.5" fill="rgb(150,140,200)" stroke="#5a5a5a" stroke-width="0.35"/>
<ellipse cx="516.3" cy="129.7" rx="1.7" ry="1.5" fill="rgb(150,140,200)" stroke="#5a5a5a" stroke-width="0.35"/>
<ellipse cx="531.7" cy="104.0" rx="1.7" ry="1.5" fill="rgb(215,150,135)" stroke="#5a5a5a" stroke-width="0.35"/>
<ellipse cx="530.8" cy="111.7" rx="1.7" ry="1.5" fill="rgb(215,145,130)" stroke="#5a5a5a" stroke-width="0.35"/>
<ellipse cx="525.4" cy="152.4" rx="1.7" ry="1.5" fill="rgb(215,150,135)" stroke="#5a5a5a" stroke-width="0.35"/>
<ellipse cx="524.3" cy="158.3" rx="1.7" ry="1.5" fill="rgb(210,150,140)" stroke="#5a5a5a" stroke-width="0.35"/>
<ellipse cx="414.9" cy="29.6" rx="2.1" ry="2.0" fill="rgb(47,17,242)" stroke="#3a2a2a" stroke-width="0.35"/>
<ellipse cx="443.8" cy="30.9" rx="2.1" ry="2.0" fill="rgb(93,63,245)" stroke="#3a2a2a" stroke-width="0.35"/>
<ellipse cx="453.4" cy="31.6" rx="2.1" ry="2.0" fill="rgb(107,77,244)" stroke="#3a2a2a" stroke-width="0.35"/>
<ellipse cx="470.0" cy="34.0" rx="2.1" ry="2.0" fill="rgb(124,94,239)" stroke="#3a2a2a" stroke-width="0.35"/>
<ellipse cx="477.0" cy="36.5" rx="2.1" ry="2.0" fill="rgb(132,102,236)" stroke="#3a2a2a" stroke-width="0.35"/>
<ellipse cx="478.8" cy="37.4" rx="2.1" ry="2.0" fill="rgb(133,104,235)" stroke="#3a2a2a" stroke-width="0.35"/>
<ellipse cx="482.3" cy="39.0" rx="2.1" ry="2.0" fill="rgb(137,108,233)" stroke="#3a2a2a" stroke-width="0.35"/>
<ellipse cx="484.5" cy="40.2" rx="2.1" ry="2.0" fill="rgb(139,111,232)" stroke="#3a2a2a" stroke-width="0.35"/>
<ellipse cx="489.3" cy="42.5" rx="2.1" ry="2.0" fill="rgb(143,117,229)" stroke="#3a2a2a" stroke-width="0.35"/>
<ellipse cx="490.8" cy="46.0" rx="2.1" ry="2.0" fill="rgb(145,119,229)" stroke="#3a2a2a" stroke-width="0.35"/>
<ellipse cx="499.5" cy="57.8" rx="2.1" ry="2.0" fill="rgb(153,130,222)" stroke="#3a2a2a" stroke-width="0.35"/>
<ellipse cx="636.3" cy="36.6" rx="2.1" ry="2.0" fill="rgb(249,23,22)" stroke="#3a2a2a" stroke-width="0.35"/>
<ellipse cx="607.1" cy="37.0" rx="2.1" ry="2.0" fill="rgb(246,66,56)" stroke="#3a2a2a" stroke-width="0.35"/>
<ellipse cx="609.0" cy="37.0" rx="2.1" ry="2.0" fill="rgb(246,63,54)" stroke="#3a2a2a" stroke-width="0.35"/>
<ellipse cx="598.9" cy="37.2" rx="2.1" ry="2.0" fill="rgb(244,75,63)" stroke="#3a2a2a" stroke-width="0.35"/>
<ellipse cx="580.8" cy="39.3" rx="2.1" ry="2.0" fill="rgb(240,94,79)" stroke="#3a2a2a" stroke-width="0.35"/>
<ellipse cx="567.1" cy="42.8" rx="2.1" ry="2.0" fill="rgb(235,107,92)" stroke="#3a2a2a" stroke-width="0.35"/>
<ellipse cx="558.9" cy="47.5" rx="2.1" ry="2.0" fill="rgb(232,115,99)" stroke="#3a2a2a" stroke-width="0.35"/>
<ellipse cx="556.5" cy="49.5" rx="2.1" ry="2.0" fill="rgb(231,118,102)" stroke="#3a2a2a" stroke-width="0.35"/>
<ellipse cx="554.8" cy="51.0" rx="2.1" ry="2.0" fill="rgb(230,120,105)" stroke="#3a2a2a" stroke-width="0.35"/>
<ellipse cx="553.2" cy="52.6" rx="2.1" ry="2.0" fill="rgb(228,123,108)" stroke="#3a2a2a" stroke-width="0.35"/>
<ellipse cx="551.6" cy="54.2" rx="2.1" ry="2.0" fill="rgb(227,125,111)" stroke="#3a2a2a" stroke-width="0.35"/>
<ellipse cx="550.0" cy="55.8" rx="2.1" ry="2.0" fill="rgb(225,128,114)" stroke="#3a2a2a" stroke-width="0.35"/>
<ellipse cx="548.6" cy="57.2" rx="2.1" ry="2.0" fill="rgb(224,130,116)" stroke="#3a2a2a" stroke-width="0.35"/>
<ellipse cx="543.7" cy="65.2" rx="2.1" ry="2.0" fill="rgb(219,137,125)" stroke="#3a2a2a" stroke-width="0.35"/>
<ellipse cx="542.0" cy="67.6" rx="2.1" ry="2.0" fill="rgb(218,140,128)" stroke="#3a2a2a" stroke-width="0.35"/>
<ellipse cx="537.7" cy="79.7" rx="2.1" ry="2.0" fill="rgb(213,146,136)" stroke="#3a2a2a" stroke-width="0.35"/>
<text x="424.00" y="29.40" font-size="4.2" fill="#111" stroke="#111" stroke-width="0.20" text-anchor="start" textLength="29" lengthAdjust="spacingAndGlyphs">gluconasturtiin</text>
<text x="405.50" y="36.20" font-size="4.2" fill="#111" stroke="#111" stroke-width="0.20" text-anchor="start" textLength="46.5" lengthAdjust="spacingAndGlyphs">L-Valyl-L-Phenylalanine</text>
<text x="455.00" y="36.20" font-size="4.2" fill="#111" stroke="#111" stroke-width="0.20" text-anchor="start" textLength="27" lengthAdjust="spacingAndGlyphs">LysoPC (18:0)</text>
<text x="566.00" y="33.40" font-size="4.0" fill="#111" stroke="#111" stroke-width="0.20" text-anchor="start" textLength="45" lengthAdjust="spacingAndGlyphs">Hydroxy arachidonic acid</text>
<text x="617.00" y="33.40" font-size="4.0" fill="#111" stroke="#111" stroke-width="0.20" text-anchor="start" textLength="23" lengthAdjust="spacingAndGlyphs">linolenic acid</text>
<text x="566.00" y="42.90" font-size="4.0" fill="#111" stroke="#111" stroke-width="0.20" text-anchor="start" textLength="28" lengthAdjust="spacingAndGlyphs">Glucoerucin/iberin</text>
<text x="591.00" y="41.80" font-size="4.8" fill="#111" stroke="#111" stroke-width="0.20" text-anchor="start" textLength="25" lengthAdjust="spacingAndGlyphs">isorhamnetin</text>
<text x="557.50" y="50.90" font-size="4.0" fill="#111" stroke="#111" stroke-width="0.20" text-anchor="start" textLength="20" lengthAdjust="spacingAndGlyphs">syringic acid</text>
<text x="456.80" y="169.50" font-size="3.8" fill="#444" stroke="#444" stroke-width="0.06" text-anchor="middle" >-5</text>
<text x="521.60" y="169.50" font-size="3.8" fill="#444" stroke="#444" stroke-width="0.06" text-anchor="middle" >0</text>
<text x="587.10" y="169.50" font-size="3.8" fill="#444" stroke="#444" stroke-width="0.06" text-anchor="middle" >5</text>
<text x="401.60" y="53.60" font-size="3.8" fill="#444" stroke="#444" stroke-width="0.06" text-anchor="end" >6</text>
<text x="401.60" y="94.60" font-size="3.8" fill="#444" stroke="#444" stroke-width="0.06" text-anchor="end" >4</text>
<text x="401.60" y="136.60" font-size="3.8" fill="#444" stroke="#444" stroke-width="0.06" text-anchor="end" >2</text>
<text x="524.70" y="174.30" font-size="4.4" fill="#222" stroke="#222" stroke-width="0.20" text-anchor="middle" >log2(FC) *</text>
<text x="397.30" y="97.50" font-size="4.3" fill="#222" stroke="#222" stroke-width="0.20" text-anchor="middle" transform="rotate(-90 397.30 97.50)" textLength="29" lengthAdjust="spacingAndGlyphs">-log10(p-value)</text>
<text x="653.80" y="56.50" font-size="4.2" fill="#222" stroke="#222" stroke-width="0.20" text-anchor="start" >Log2(FC)</text>
<rect x="654" y="59" width="7.4" height="31" fill="url(#fcB)"/>
<text x="663.30" y="67.20" font-size="3.2" fill="#333" stroke="#333" stroke-width="0.06" text-anchor="start" >5</text>
<text x="663.30" y="76.50" font-size="3.2" fill="#333" stroke="#333" stroke-width="0.06" text-anchor="start" >0</text>
<text x="663.30" y="85.70" font-size="3.2" fill="#333" stroke="#333" stroke-width="0.06" text-anchor="start" >-5</text>
<text x="653.80" y="101.40" font-size="4.3" fill="#222" stroke="#222" stroke-width="0.20" text-anchor="start" >P-value</text>
<circle cx="657.3" cy="107.0" r="0.4" fill="#fff" stroke="#333" stroke-width="0.4"/>
<text x="663.00" y="108.20" font-size="3.2" fill="#333" stroke="#333" stroke-width="0.06" text-anchor="start" >1.0</text>
<circle cx="657.3" cy="113.0" r="1.2" fill="#fff" stroke="#333" stroke-width="0.4"/>
<text x="663.00" y="114.20" font-size="3.2" fill="#333" stroke="#333" stroke-width="0.06" text-anchor="start" >0.1</text>
<circle cx="657.3" cy="119.4" r="1.4" fill="#fff" stroke="#333" stroke-width="0.4"/>
<text x="663.00" y="120.60" font-size="3.2" fill="#333" stroke="#333" stroke-width="0.06" text-anchor="start" >0.05</text>
<circle cx="657.3" cy="125.5" r="1.6" fill="#fff" stroke="#333" stroke-width="0.4"/>
<text x="663.00" y="126.70" font-size="3.2" fill="#333" stroke="#333" stroke-width="0.06" text-anchor="start" >0.01</text>
<circle cx="657.3" cy="131.6" r="1.9" fill="#fff" stroke="#333" stroke-width="0.4"/>
<text x="663.00" y="132.80" font-size="3.2" fill="#333" stroke="#333" stroke-width="0.06" text-anchor="start" >0.001</text>
<rect x="402.80" y="274.40" width="250.00" height="151.40" fill="#fff"/>
<path d="M438.60 274.40V425.80M498.80 274.40V425.80M558.40 274.40V425.80M618.40 274.40V425.80M402.80 287.40H652.80M402.80 326.60H652.80M402.80 365.90H652.80M402.80 405.10H652.80" stroke="#ececec" stroke-width="0.35" fill="none"/>
<path d="M408.60 274.40V425.80M468.60 274.40V425.80M528.60 274.40V425.80M588.40 274.40V425.80M648.60 274.40V425.80M402.80 307.00H652.80M402.80 346.30H652.80M402.80 385.50H652.80M402.80 424.80H652.80" stroke="#dcdcdc" stroke-width="0.55" fill="none"/>
<path d="M513.70 274.40V425.80M543.80 274.40V425.80M402.80 405.30H652.80" stroke="#555" stroke-width="0.5" fill="none"/>
<rect x="402.80" y="274.40" width="250.00" height="151.40" fill="none" stroke="#555" stroke-width="0.7"/>
<ellipse cx="530.2" cy="399.4" rx="2.1" ry="1.6" fill="rgb(152,152,152)" stroke="#555" stroke-width="0.35"/>
<ellipse cx="542.3" cy="363.5" rx="2.1" ry="1.6" fill="rgb(152,152,152)" stroke="#555" stroke-width="0.35"/>
<ellipse cx="532.7" cy="404.5" rx="2.1" ry="1.6" fill="rgb(152,152,152)" stroke="#555" stroke-width="0.35"/>
<ellipse cx="527.0" cy="357.8" rx="2.1" ry="1.6" fill="rgb(152,152,152)" stroke="#555" stroke-width="0.35"/>
<ellipse cx="524.1" cy="401.3" rx="2.1" ry="1.6" fill="rgb(152,152,152)" stroke="#555" stroke-width="0.35"/>
<ellipse cx="538.6" cy="351.3" rx="2.1" ry="1.6" fill="rgb(152,152,152)" stroke="#555" stroke-width="0.35"/>
<ellipse cx="517.8" cy="392.7" rx="2.1" ry="1.6" fill="rgb(152,152,152)" stroke="#555" stroke-width="0.35"/>
<ellipse cx="541.7" cy="388.1" rx="2.1" ry="1.6" fill="rgb(152,152,152)" stroke="#555" stroke-width="0.35"/>
<ellipse cx="522.5" cy="383.1" rx="2.1" ry="1.6" fill="rgb(152,152,152)" stroke="#555" stroke-width="0.35"/>
<ellipse cx="516.7" cy="367.4" rx="2.1" ry="1.6" fill="rgb(152,152,152)" stroke="#555" stroke-width="0.35"/>
<ellipse cx="541.3" cy="361.4" rx="2.1" ry="1.6" fill="rgb(152,152,152)" stroke="#555" stroke-width="0.35"/>
<ellipse cx="539.5" cy="400.5" rx="2.1" ry="1.6" fill="rgb(152,152,152)" stroke="#555" stroke-width="0.35"/>
<ellipse cx="541.4" cy="397.8" rx="2.1" ry="1.6" fill="rgb(152,152,152)" stroke="#555" stroke-width="0.35"/>
<ellipse cx="532.4" cy="375.0" rx="2.1" ry="1.6" fill="rgb(152,152,152)" stroke="#555" stroke-width="0.35"/>
<ellipse cx="538.2" cy="376.4" rx="2.1" ry="1.6" fill="rgb(152,152,152)" stroke="#555" stroke-width="0.35"/>
<ellipse cx="539.6" cy="364.1" rx="2.1" ry="1.6" fill="rgb(152,152,152)" stroke="#555" stroke-width="0.35"/>
<ellipse cx="518.2" cy="364.4" rx="2.1" ry="1.6" fill="rgb(152,152,152)" stroke="#555" stroke-width="0.35"/>
<ellipse cx="523.5" cy="358.3" rx="2.1" ry="1.6" fill="rgb(152,152,152)" stroke="#555" stroke-width="0.35"/>
<ellipse cx="533.5" cy="360.9" rx="2.1" ry="1.6" fill="rgb(152,152,152)" stroke="#555" stroke-width="0.35"/>
<ellipse cx="524.4" cy="406.5" rx="2.1" ry="1.6" fill="rgb(152,152,152)" stroke="#555" stroke-width="0.35"/>
<ellipse cx="516.4" cy="365.4" rx="2.1" ry="1.6" fill="rgb(152,152,152)" stroke="#555" stroke-width="0.35"/>
<ellipse cx="515.2" cy="391.0" rx="2.1" ry="1.6" fill="rgb(152,152,152)" stroke="#555" stroke-width="0.35"/>
<ellipse cx="513.6" cy="397.2" rx="2.1" ry="1.6" fill="rgb(152,152,152)" stroke="#555" stroke-width="0.35"/>
<ellipse cx="529.3" cy="359.4" rx="2.1" ry="1.6" fill="rgb(152,152,152)" stroke="#555" stroke-width="0.35"/>
<ellipse cx="517.6" cy="359.0" rx="2.1" ry="1.6" fill="rgb(152,152,152)" stroke="#555" stroke-width="0.35"/>
<ellipse cx="516.1" cy="384.1" rx="2.1" ry="1.6" fill="rgb(152,152,152)" stroke="#555" stroke-width="0.35"/>
<ellipse cx="521.7" cy="360.6" rx="2.1" ry="1.6" fill="rgb(152,152,152)" stroke="#555" stroke-width="0.35"/>
<ellipse cx="534.7" cy="396.0" rx="2.1" ry="1.6" fill="rgb(152,152,152)" stroke="#555" stroke-width="0.35"/>
<ellipse cx="535.5" cy="372.4" rx="2.1" ry="1.6" fill="rgb(152,152,152)" stroke="#555" stroke-width="0.35"/>
<ellipse cx="515.2" cy="395.9" rx="2.1" ry="1.6" fill="rgb(152,152,152)" stroke="#555" stroke-width="0.35"/>
<ellipse cx="523.6" cy="397.8" rx="2.1" ry="1.6" fill="rgb(152,152,152)" stroke="#555" stroke-width="0.35"/>
<ellipse cx="540.8" cy="376.4" rx="2.1" ry="1.6" fill="rgb(152,152,152)" stroke="#555" stroke-width="0.35"/>
<ellipse cx="531.3" cy="348.8" rx="2.1" ry="1.6" fill="rgb(152,152,152)" stroke="#555" stroke-width="0.35"/>
<ellipse cx="529.0" cy="355.6" rx="2.1" ry="1.6" fill="rgb(152,152,152)" stroke="#555" stroke-width="0.35"/>
<ellipse cx="539.5" cy="367.3" rx="2.1" ry="1.6" fill="rgb(152,152,152)" stroke="#555" stroke-width="0.35"/>
<ellipse cx="524.9" cy="392.5" rx="2.1" ry="1.6" fill="rgb(152,152,152)" stroke="#555" stroke-width="0.35"/>
<ellipse cx="515.3" cy="399.6" rx="2.1" ry="1.6" fill="rgb(152,152,152)" stroke="#555" stroke-width="0.35"/>
<ellipse cx="542.1" cy="377.4" rx="2.1" ry="1.6" fill="rgb(152,152,152)" stroke="#555" stroke-width="0.35"/>
<ellipse cx="516.6" cy="363.2" rx="2.1" ry="1.6" fill="rgb(152,152,152)" stroke="#555" stroke-width="0.35"/>
<ellipse cx="519.4" cy="349.5" rx="2.1" ry="1.6" fill="rgb(152,152,152)" stroke="#555" stroke-width="0.35"/>
<ellipse cx="529.2" cy="389.6" rx="2.1" ry="1.6" fill="rgb(152,152,152)" stroke="#555" stroke-width="0.35"/>
<ellipse cx="528.3" cy="377.8" rx="2.1" ry="1.6" fill="rgb(152,152,152)" stroke="#555" stroke-width="0.35"/>
<ellipse cx="517.9" cy="382.0" rx="2.1" ry="1.6" fill="rgb(152,152,152)" stroke="#555" stroke-width="0.35"/>
<ellipse cx="518.4" cy="396.8" rx="2.1" ry="1.6" fill="rgb(152,152,152)" stroke="#555" stroke-width="0.35"/>
<ellipse cx="541.6" cy="371.2" rx="2.1" ry="1.6" fill="rgb(152,152,152)" stroke="#555" stroke-width="0.35"/>
<ellipse cx="538.7" cy="379.2" rx="2.1" ry="1.6" fill="rgb(152,152,152)" stroke="#555" stroke-width="0.35"/>
<ellipse cx="541.7" cy="393.9" rx="2.1" ry="1.6" fill="rgb(152,152,152)" stroke="#555" stroke-width="0.35"/>
<ellipse cx="523.7" cy="362.6" rx="2.1" ry="1.6" fill="rgb(152,152,152)" stroke="#555" stroke-width="0.35"/>
<ellipse cx="526.6" cy="405.9" rx="2.1" ry="1.6" fill="rgb(152,152,152)" stroke="#555" stroke-width="0.35"/>
<ellipse cx="538.0" cy="398.1" rx="2.1" ry="1.6" fill="rgb(152,152,152)" stroke="#555" stroke-width="0.35"/>
<ellipse cx="515.1" cy="378.8" rx="2.1" ry="1.6" fill="rgb(152,152,152)" stroke="#555" stroke-width="0.35"/>
<ellipse cx="532.5" cy="369.8" rx="2.1" ry="1.6" fill="rgb(152,152,152)" stroke="#555" stroke-width="0.35"/>
<ellipse cx="515.6" cy="373.8" rx="2.1" ry="1.6" fill="rgb(152,152,152)" stroke="#555" stroke-width="0.35"/>
<ellipse cx="536.8" cy="403.3" rx="2.1" ry="1.6" fill="rgb(152,152,152)" stroke="#555" stroke-width="0.35"/>
<ellipse cx="514.5" cy="386.0" rx="2.1" ry="1.6" fill="rgb(152,152,152)" stroke="#555" stroke-width="0.35"/>
<ellipse cx="521.5" cy="388.2" rx="2.1" ry="1.6" fill="rgb(152,152,152)" stroke="#555" stroke-width="0.35"/>
<ellipse cx="521.7" cy="380.2" rx="2.1" ry="1.6" fill="rgb(152,152,152)" stroke="#555" stroke-width="0.35"/>
<ellipse cx="532.1" cy="363.2" rx="2.1" ry="1.6" fill="rgb(152,152,152)" stroke="#555" stroke-width="0.35"/>
<ellipse cx="522.7" cy="386.4" rx="2.1" ry="1.6" fill="rgb(152,152,152)" stroke="#555" stroke-width="0.35"/>
<ellipse cx="528.9" cy="364.2" rx="2.1" ry="1.6" fill="rgb(152,152,152)" stroke="#555" stroke-width="0.35"/>
<ellipse cx="529.9" cy="397.6" rx="2.1" ry="1.6" fill="rgb(152,152,152)" stroke="#555" stroke-width="0.35"/>
<ellipse cx="531.8" cy="381.9" rx="2.1" ry="1.6" fill="rgb(152,152,152)" stroke="#555" stroke-width="0.35"/>
<ellipse cx="519.5" cy="390.1" rx="2.1" ry="1.6" fill="rgb(152,152,152)" stroke="#555" stroke-width="0.35"/>
<ellipse cx="527.3" cy="380.6" rx="2.1" ry="1.6" fill="rgb(152,152,152)" stroke="#555" stroke-width="0.35"/>
<ellipse cx="520.1" cy="378.5" rx="2.1" ry="1.6" fill="rgb(152,152,152)" stroke="#555" stroke-width="0.35"/>
<ellipse cx="539.4" cy="362.5" rx="2.1" ry="1.6" fill="rgb(152,152,152)" stroke="#555" stroke-width="0.35"/>
<ellipse cx="522.4" cy="393.7" rx="2.1" ry="1.6" fill="rgb(152,152,152)" stroke="#555" stroke-width="0.35"/>
<ellipse cx="518.3" cy="352.4" rx="2.1" ry="1.6" fill="rgb(152,152,152)" stroke="#555" stroke-width="0.35"/>
<ellipse cx="515.4" cy="371.2" rx="2.1" ry="1.6" fill="rgb(152,152,152)" stroke="#555" stroke-width="0.35"/>
<ellipse cx="542.3" cy="391.7" rx="2.1" ry="1.6" fill="rgb(152,152,152)" stroke="#555" stroke-width="0.35"/>
<ellipse cx="518.1" cy="368.2" rx="2.1" ry="1.6" fill="rgb(152,152,152)" stroke="#555" stroke-width="0.35"/>
<ellipse cx="533.8" cy="384.6" rx="2.1" ry="1.6" fill="rgb(152,152,152)" stroke="#555" stroke-width="0.35"/>
<ellipse cx="535.8" cy="392.9" rx="2.1" ry="1.6" fill="rgb(152,152,152)" stroke="#555" stroke-width="0.35"/>
<ellipse cx="527.8" cy="394.4" rx="2.1" ry="1.6" fill="rgb(152,152,152)" stroke="#555" stroke-width="0.35"/>
<ellipse cx="539.6" cy="348.8" rx="2.1" ry="1.6" fill="rgb(152,152,152)" stroke="#555" stroke-width="0.35"/>
<ellipse cx="526.0" cy="394.3" rx="2.1" ry="1.6" fill="rgb(152,152,152)" stroke="#555" stroke-width="0.35"/>
<ellipse cx="539.7" cy="384.0" rx="2.1" ry="1.6" fill="rgb(152,152,152)" stroke="#555" stroke-width="0.35"/>
<ellipse cx="527.1" cy="375.3" rx="2.1" ry="1.6" fill="rgb(152,152,152)" stroke="#555" stroke-width="0.35"/>
<ellipse cx="522.3" cy="371.4" rx="2.1" ry="1.6" fill="rgb(152,152,152)" stroke="#555" stroke-width="0.35"/>
<ellipse cx="525.0" cy="367.3" rx="2.1" ry="1.6" fill="rgb(152,152,152)" stroke="#555" stroke-width="0.35"/>
<ellipse cx="539.0" cy="377.7" rx="2.1" ry="1.6" fill="rgb(152,152,152)" stroke="#555" stroke-width="0.35"/>
<ellipse cx="541.1" cy="367.4" rx="2.1" ry="1.6" fill="rgb(152,152,152)" stroke="#555" stroke-width="0.35"/>
<ellipse cx="514.9" cy="381.5" rx="2.1" ry="1.6" fill="rgb(152,152,152)" stroke="#555" stroke-width="0.35"/>
<ellipse cx="525.2" cy="369.4" rx="2.1" ry="1.6" fill="rgb(152,152,152)" stroke="#555" stroke-width="0.35"/>
<ellipse cx="524.0" cy="404.0" rx="2.1" ry="1.6" fill="rgb(152,152,152)" stroke="#555" stroke-width="0.35"/>
<ellipse cx="529.4" cy="396.2" rx="2.1" ry="1.6" fill="rgb(152,152,152)" stroke="#555" stroke-width="0.35"/>
<ellipse cx="540.3" cy="388.9" rx="2.1" ry="1.6" fill="rgb(152,152,152)" stroke="#555" stroke-width="0.35"/>
<ellipse cx="538.1" cy="406.4" rx="2.1" ry="1.6" fill="rgb(152,152,152)" stroke="#555" stroke-width="0.35"/>
<ellipse cx="532.4" cy="383.8" rx="2.1" ry="1.6" fill="rgb(152,152,152)" stroke="#555" stroke-width="0.35"/>
<ellipse cx="513.6" cy="366.3" rx="2.1" ry="1.6" fill="rgb(152,152,152)" stroke="#555" stroke-width="0.35"/>
<ellipse cx="531.1" cy="387.6" rx="2.1" ry="1.6" fill="rgb(152,152,152)" stroke="#555" stroke-width="0.35"/>
<ellipse cx="518.6" cy="379.1" rx="2.1" ry="1.6" fill="rgb(152,152,152)" stroke="#555" stroke-width="0.35"/>
<ellipse cx="531.9" cy="395.7" rx="2.1" ry="1.6" fill="rgb(152,152,152)" stroke="#555" stroke-width="0.35"/>
<ellipse cx="523.2" cy="390.4" rx="2.1" ry="1.6" fill="rgb(152,152,152)" stroke="#555" stroke-width="0.35"/>
<ellipse cx="524.0" cy="374.8" rx="2.1" ry="1.6" fill="rgb(152,152,152)" stroke="#555" stroke-width="0.35"/>
<ellipse cx="525.2" cy="390.5" rx="2.1" ry="1.6" fill="rgb(152,152,152)" stroke="#555" stroke-width="0.35"/>
<ellipse cx="520.1" cy="366.6" rx="2.1" ry="1.6" fill="rgb(152,152,152)" stroke="#555" stroke-width="0.35"/>
<ellipse cx="520.8" cy="358.6" rx="2.1" ry="1.6" fill="rgb(152,152,152)" stroke="#555" stroke-width="0.35"/>
<ellipse cx="514.5" cy="387.4" rx="2.1" ry="1.6" fill="rgb(152,152,152)" stroke="#555" stroke-width="0.35"/>
<ellipse cx="521.6" cy="397.3" rx="2.1" ry="1.6" fill="rgb(152,152,152)" stroke="#555" stroke-width="0.35"/>
<ellipse cx="517.3" cy="374.4" rx="2.1" ry="1.6" fill="rgb(152,152,152)" stroke="#555" stroke-width="0.35"/>
<ellipse cx="535.2" cy="370.5" rx="2.1" ry="1.6" fill="rgb(152,152,152)" stroke="#555" stroke-width="0.35"/>
<ellipse cx="534.7" cy="363.8" rx="2.1" ry="1.6" fill="rgb(152,152,152)" stroke="#555" stroke-width="0.35"/>
<ellipse cx="531.7" cy="360.9" rx="2.1" ry="1.6" fill="rgb(152,152,152)" stroke="#555" stroke-width="0.35"/>
<ellipse cx="517.2" cy="378.5" rx="2.1" ry="1.6" fill="rgb(152,152,152)" stroke="#555" stroke-width="0.35"/>
<ellipse cx="525.0" cy="387.0" rx="2.1" ry="1.6" fill="rgb(152,152,152)" stroke="#555" stroke-width="0.35"/>
<ellipse cx="530.5" cy="366.7" rx="2.1" ry="1.6" fill="rgb(152,152,152)" stroke="#555" stroke-width="0.35"/>
<ellipse cx="535.0" cy="365.0" rx="2.1" ry="1.6" fill="rgb(152,152,152)" stroke="#555" stroke-width="0.35"/>
<ellipse cx="540.0" cy="398.9" rx="2.1" ry="1.6" fill="rgb(152,152,152)" stroke="#555" stroke-width="0.35"/>
<ellipse cx="533.9" cy="387.3" rx="2.1" ry="1.6" fill="rgb(152,152,152)" stroke="#555" stroke-width="0.35"/>
<ellipse cx="524.0" cy="372.6" rx="2.1" ry="1.6" fill="rgb(152,152,152)" stroke="#555" stroke-width="0.35"/>
<ellipse cx="517.0" cy="401.9" rx="2.1" ry="1.6" fill="rgb(152,152,152)" stroke="#555" stroke-width="0.35"/>
<ellipse cx="532.6" cy="359.0" rx="2.1" ry="1.6" fill="rgb(152,152,152)" stroke="#555" stroke-width="0.35"/>
<ellipse cx="530.6" cy="390.4" rx="2.1" ry="1.6" fill="rgb(152,152,152)" stroke="#555" stroke-width="0.35"/>
<ellipse cx="521.1" cy="373.9" rx="2.1" ry="1.6" fill="rgb(152,152,152)" stroke="#555" stroke-width="0.35"/>
<ellipse cx="524.0" cy="348.6" rx="2.1" ry="1.6" fill="rgb(152,152,152)" stroke="#555" stroke-width="0.35"/>
<ellipse cx="522.1" cy="351.0" rx="2.1" ry="1.6" fill="rgb(152,152,152)" stroke="#555" stroke-width="0.35"/>
<ellipse cx="537.2" cy="360.8" rx="2.1" ry="1.6" fill="rgb(152,152,152)" stroke="#555" stroke-width="0.35"/>
<ellipse cx="536.0" cy="353.5" rx="2.1" ry="1.6" fill="rgb(152,152,152)" stroke="#555" stroke-width="0.35"/>
<ellipse cx="535.9" cy="397.0" rx="2.1" ry="1.6" fill="rgb(152,152,152)" stroke="#555" stroke-width="0.35"/>
<ellipse cx="521.9" cy="353.8" rx="2.1" ry="1.6" fill="rgb(152,152,152)" stroke="#555" stroke-width="0.35"/>
<ellipse cx="534.4" cy="373.6" rx="2.1" ry="1.6" fill="rgb(152,152,152)" stroke="#555" stroke-width="0.35"/>
<ellipse cx="514.8" cy="389.6" rx="2.1" ry="1.6" fill="rgb(152,152,152)" stroke="#555" stroke-width="0.35"/>
<ellipse cx="537.7" cy="363.8" rx="2.1" ry="1.6" fill="rgb(152,152,152)" stroke="#555" stroke-width="0.35"/>
<ellipse cx="542.6" cy="385.8" rx="2.1" ry="1.6" fill="rgb(152,152,152)" stroke="#555" stroke-width="0.35"/>
<ellipse cx="525.8" cy="360.3" rx="2.1" ry="1.6" fill="rgb(152,152,152)" stroke="#555" stroke-width="0.35"/>
<ellipse cx="517.6" cy="389.9" rx="2.1" ry="1.6" fill="rgb(152,152,152)" stroke="#555" stroke-width="0.35"/>
<ellipse cx="529.0" cy="374.5" rx="2.1" ry="1.6" fill="rgb(152,152,152)" stroke="#555" stroke-width="0.35"/>
<ellipse cx="524.0" cy="366.0" rx="2.1" ry="1.6" fill="rgb(152,152,152)" stroke="#555" stroke-width="0.35"/>
<ellipse cx="538.0" cy="380.6" rx="2.1" ry="1.6" fill="rgb(152,152,152)" stroke="#555" stroke-width="0.35"/>
<ellipse cx="518.6" cy="387.5" rx="2.1" ry="1.6" fill="rgb(152,152,152)" stroke="#555" stroke-width="0.35"/>
<ellipse cx="513.7" cy="402.3" rx="2.1" ry="1.6" fill="rgb(152,152,152)" stroke="#555" stroke-width="0.35"/>
<ellipse cx="514.3" cy="393.8" rx="2.1" ry="1.6" fill="rgb(152,152,152)" stroke="#555" stroke-width="0.35"/>
<ellipse cx="532.6" cy="398.0" rx="2.1" ry="1.6" fill="rgb(152,152,152)" stroke="#555" stroke-width="0.35"/>
<ellipse cx="541.3" cy="358.4" rx="2.1" ry="1.6" fill="rgb(152,152,152)" stroke="#555" stroke-width="0.35"/>
<ellipse cx="538.4" cy="391.9" rx="2.1" ry="1.6" fill="rgb(152,152,152)" stroke="#555" stroke-width="0.35"/>
<ellipse cx="523.1" cy="370.1" rx="2.1" ry="1.6" fill="rgb(152,152,152)" stroke="#555" stroke-width="0.35"/>
<ellipse cx="538.1" cy="389.8" rx="2.1" ry="1.6" fill="rgb(152,152,152)" stroke="#555" stroke-width="0.35"/>
<ellipse cx="535.2" cy="348.7" rx="2.1" ry="1.6" fill="rgb(152,152,152)" stroke="#555" stroke-width="0.35"/>
<ellipse cx="537.1" cy="373.4" rx="2.1" ry="1.6" fill="rgb(152,152,152)" stroke="#555" stroke-width="0.35"/>
<ellipse cx="533.3" cy="378.6" rx="2.1" ry="1.6" fill="rgb(152,152,152)" stroke="#555" stroke-width="0.35"/>
<ellipse cx="542.7" cy="404.8" rx="2.1" ry="1.6" fill="rgb(152,152,152)" stroke="#555" stroke-width="0.35"/>
<ellipse cx="531.8" cy="365.9" rx="2.1" ry="1.6" fill="rgb(152,152,152)" stroke="#555" stroke-width="0.35"/>
<ellipse cx="522.5" cy="368.6" rx="2.1" ry="1.6" fill="rgb(152,152,152)" stroke="#555" stroke-width="0.35"/>
<ellipse cx="514.3" cy="359.5" rx="2.1" ry="1.6" fill="rgb(152,152,152)" stroke="#555" stroke-width="0.35"/>
<ellipse cx="526.9" cy="353.5" rx="2.1" ry="1.6" fill="rgb(152,152,152)" stroke="#555" stroke-width="0.35"/>
<ellipse cx="530.9" cy="372.9" rx="2.1" ry="1.6" fill="rgb(152,152,152)" stroke="#555" stroke-width="0.35"/>
<ellipse cx="518.9" cy="400.6" rx="2.1" ry="1.6" fill="rgb(152,152,152)" stroke="#555" stroke-width="0.35"/>
<ellipse cx="530.7" cy="355.1" rx="2.1" ry="1.6" fill="rgb(152,152,152)" stroke="#555" stroke-width="0.35"/>
<ellipse cx="526.7" cy="399.0" rx="2.1" ry="1.6" fill="rgb(152,152,152)" stroke="#555" stroke-width="0.35"/>
<ellipse cx="523.0" cy="409.4" rx="2.1" ry="1.6" fill="rgb(152,152,152)" stroke="#555" stroke-width="0.35"/>
<ellipse cx="535.5" cy="410.0" rx="2.1" ry="1.6" fill="rgb(152,152,152)" stroke="#555" stroke-width="0.35"/>
<ellipse cx="528.7" cy="418.7" rx="2.1" ry="1.6" fill="rgb(152,152,152)" stroke="#555" stroke-width="0.35"/>
<ellipse cx="527.5" cy="419.5" rx="2.1" ry="1.6" fill="rgb(152,152,152)" stroke="#555" stroke-width="0.35"/>
<ellipse cx="512.6" cy="394.0" rx="2.1" ry="1.6" fill="rgb(152,152,152)" stroke="#555" stroke-width="0.35"/>
<ellipse cx="514.0" cy="395.5" rx="2.1" ry="1.6" fill="rgb(152,152,152)" stroke="#555" stroke-width="0.35"/>
<ellipse cx="518.5" cy="360.0" rx="1.9" ry="1.7" fill="rgb(140,135,190)" stroke="#4a4a4a" stroke-width="0.35"/>
<ellipse cx="538.4" cy="329.0" rx="1.9" ry="1.7" fill="rgb(215,140,125)" stroke="#4a4a4a" stroke-width="0.35"/>
<ellipse cx="536.3" cy="342.5" rx="1.9" ry="1.7" fill="rgb(215,150,135)" stroke="#4a4a4a" stroke-width="0.35"/>
<ellipse cx="541.8" cy="341.0" rx="1.9" ry="1.7" fill="rgb(215,130,115)" stroke="#4a4a4a" stroke-width="0.35"/>
<ellipse cx="541.8" cy="343.5" rx="1.9" ry="1.7" fill="rgb(215,130,115)" stroke="#4a4a4a" stroke-width="0.35"/>
<ellipse cx="539.5" cy="352.5" rx="1.9" ry="1.7" fill="rgb(200,150,140)" stroke="#4a4a4a" stroke-width="0.35"/>
<ellipse cx="414.0" cy="285.8" rx="2.1" ry="2.0" fill="rgb(30,0,240)" stroke="#3a2a2a" stroke-width="0.35"/>
<ellipse cx="419.6" cy="286.0" rx="2.1" ry="2.0" fill="rgb(38,8,241)" stroke="#3a2a2a" stroke-width="0.35"/>
<ellipse cx="429.3" cy="283.1" rx="2.1" ry="2.0" fill="rgb(55,25,243)" stroke="#3a2a2a" stroke-width="0.35"/>
<ellipse cx="451.0" cy="287.2" rx="2.1" ry="2.0" fill="rgb(90,60,245)" stroke="#3a2a2a" stroke-width="0.35"/>
<ellipse cx="461.3" cy="288.4" rx="2.1" ry="2.0" fill="rgb(106,76,244)" stroke="#3a2a2a" stroke-width="0.35"/>
<ellipse cx="463.5" cy="288.6" rx="2.1" ry="2.0" fill="rgb(108,78,243)" stroke="#3a2a2a" stroke-width="0.35"/>
<ellipse cx="478.8" cy="289.8" rx="2.1" ry="2.0" fill="rgb(125,95,239)" stroke="#3a2a2a" stroke-width="0.35"/>
<ellipse cx="480.0" cy="292.5" rx="2.1" ry="2.0" fill="rgb(126,96,238)" stroke="#3a2a2a" stroke-width="0.35"/>
<ellipse cx="482.0" cy="293.8" rx="2.1" ry="2.0" fill="rgb(128,98,238)" stroke="#3a2a2a" stroke-width="0.35"/>
<ellipse cx="484.5" cy="295.0" rx="2.1" ry="2.0" fill="rgb(131,101,237)" stroke="#3a2a2a" stroke-width="0.35"/>
<ellipse cx="487.0" cy="296.5" rx="2.1" ry="2.0" fill="rgb(133,104,235)" stroke="#3a2a2a" stroke-width="0.35"/>
<ellipse cx="489.5" cy="297.5" rx="2.1" ry="2.0" fill="rgb(136,107,234)" stroke="#3a2a2a" stroke-width="0.35"/>
<ellipse cx="491.5" cy="295.5" rx="2.1" ry="2.0" fill="rgb(138,110,233)" stroke="#3a2a2a" stroke-width="0.35"/>
<ellipse cx="490.5" cy="298.0" rx="2.1" ry="2.0" fill="rgb(137,109,233)" stroke="#3a2a2a" stroke-width="0.35"/>
<ellipse cx="494.5" cy="302.0" rx="2.1" ry="2.0" fill="rgb(141,114,231)" stroke="#3a2a2a" stroke-width="0.35"/>
<ellipse cx="499.5" cy="305.5" rx="2.1" ry="2.0" fill="rgb(145,120,228)" stroke="#3a2a2a" stroke-width="0.35"/>
<ellipse cx="500.5" cy="308.0" rx="2.1" ry="2.0" fill="rgb(146,121,228)" stroke="#3a2a2a" stroke-width="0.35"/>
<ellipse cx="502.0" cy="310.5" rx="2.1" ry="2.0" fill="rgb(148,123,227)" stroke="#3a2a2a" stroke-width="0.35"/>
<ellipse cx="504.5" cy="314.5" rx="2.1" ry="2.0" fill="rgb(150,126,225)" stroke="#3a2a2a" stroke-width="0.35"/>
<ellipse cx="507.6" cy="320.0" rx="2.1" ry="2.0" fill="rgb(153,131,221)" stroke="#3a2a2a" stroke-width="0.35"/>
<ellipse cx="510.5" cy="328.0" rx="2.1" ry="2.0" fill="rgb(156,136,214)" stroke="#3a2a2a" stroke-width="0.35"/>
<ellipse cx="512.0" cy="332.2" rx="2.1" ry="2.0" fill="rgb(158,139,211)" stroke="#3a2a2a" stroke-width="0.35"/>
<ellipse cx="544.2" cy="281.5" rx="2.1" ry="2.0" fill="rgb(213,147,136)" stroke="#3a2a2a" stroke-width="0.35"/>
<ellipse cx="598.0" cy="285.2" rx="2.1" ry="2.0" fill="rgb(242,81,69)" stroke="#3a2a2a" stroke-width="0.35"/>
<ellipse cx="618.9" cy="283.2" rx="2.1" ry="2.0" fill="rgb(247,55,48)" stroke="#3a2a2a" stroke-width="0.35"/>
<ellipse cx="641.4" cy="282.8" rx="2.1" ry="2.0" fill="rgb(249,21,21)" stroke="#3a2a2a" stroke-width="0.35"/>
<ellipse cx="576.6" cy="290.2" rx="2.1" ry="2.0" fill="rgb(236,104,88)" stroke="#3a2a2a" stroke-width="0.35"/>
<ellipse cx="578.1" cy="289.8" rx="2.1" ry="2.0" fill="rgb(237,102,87)" stroke="#3a2a2a" stroke-width="0.35"/>
<ellipse cx="566.1" cy="295.5" rx="2.1" ry="2.0" fill="rgb(233,114,98)" stroke="#3a2a2a" stroke-width="0.35"/>
<ellipse cx="558.6" cy="303.3" rx="2.1" ry="2.0" fill="rgb(227,124,109)" stroke="#3a2a2a" stroke-width="0.35"/>
<ellipse cx="554.7" cy="308.4" rx="2.1" ry="2.0" fill="rgb(224,130,116)" stroke="#3a2a2a" stroke-width="0.35"/>
<ellipse cx="549.9" cy="318.2" rx="2.1" ry="2.0" fill="rgb(219,138,125)" stroke="#3a2a2a" stroke-width="0.35"/>
<path d="M412.5 283.5L419 281.6M433 281L436 279.5" stroke="#444" stroke-width="0.3"/>
<text x="404.50" y="281.80" font-size="4.4" fill="#111" stroke="#111" stroke-width="0.20" text-anchor="start" textLength="27.5" lengthAdjust="spacingAndGlyphs">gluconasturtiin</text>
<text x="436.00" y="279.90" font-size="4.4" fill="#111" stroke="#111" stroke-width="0.20" text-anchor="start" textLength="29" lengthAdjust="spacingAndGlyphs">glucobrassicin</text>
<text x="409.00" y="290.60" font-size="4.4" fill="#111" stroke="#111" stroke-width="0.20" text-anchor="start" textLength="32" lengthAdjust="spacingAndGlyphs">L-Phenylalanine</text>
<text x="442.00" y="293.40" font-size="5.4" fill="#111" stroke="#111" stroke-width="0.08" text-anchor="start" textLength="17" lengthAdjust="spacingAndGlyphs">leucine</text>
<text x="523.00" y="286.40" font-size="4.0" fill="#111" stroke="#111" stroke-width="0.20" text-anchor="start" textLength="26" lengthAdjust="spacingAndGlyphs">beta-tocopherol</text>
<text x="588.00" y="290.40" font-size="5.3" fill="#111" stroke="#111" stroke-width="0.08" text-anchor="start" textLength="32" lengthAdjust="spacingAndGlyphs">linolenic acid</text>
<text x="575.00" y="296.10" font-size="5.5" fill="#111" stroke="#111" stroke-width="0.08" text-anchor="start" textLength="42" lengthAdjust="spacingAndGlyphs">indole-3-carbinol</text>
<text x="618.50" y="284.50" font-size="4.4" fill="#111" stroke="#111" stroke-width="0.20" text-anchor="start" textLength="21.5" lengthAdjust="spacingAndGlyphs">erucic acid</text>
<text x="408.60" y="431.00" font-size="3.7" fill="#444" stroke="#444" stroke-width="0.06" text-anchor="middle" >-10</text>
<text x="468.80" y="431.00" font-size="3.7" fill="#444" stroke="#444" stroke-width="0.06" text-anchor="middle" >-5</text>
<text x="528.20" y="431.00" font-size="3.7" fill="#444" stroke="#444" stroke-width="0.06" text-anchor="middle" >0</text>
<text x="588.40" y="431.00" font-size="3.7" fill="#444" stroke="#444" stroke-width="0.06" text-anchor="middle" >5</text>
<text x="648.60" y="431.00" font-size="3.7" fill="#444" stroke="#444" stroke-width="0.06" text-anchor="middle" >10</text>
<text x="400.90" y="308.30" font-size="3.7" fill="#444" stroke="#444" stroke-width="0.06" text-anchor="end" >6</text>
<text x="400.90" y="347.60" font-size="3.7" fill="#444" stroke="#444" stroke-width="0.06" text-anchor="end" >4</text>
<text x="400.90" y="386.80" font-size="3.7" fill="#444" stroke="#444" stroke-width="0.06" text-anchor="end" >2</text>
<text x="400.90" y="426.30" font-size="3.7" fill="#444" stroke="#444" stroke-width="0.06" text-anchor="end" >0</text>
<text x="528.00" y="435.80" font-size="4.4" fill="#222" stroke="#222" stroke-width="0.20" text-anchor="middle" >log2(FC)</text>
<text x="397.30" y="350.20" font-size="4.3" fill="#222" stroke="#222" stroke-width="0.20" text-anchor="middle" transform="rotate(-90 397.30 350.20)" textLength="29.2" lengthAdjust="spacingAndGlyphs">-log10(p-value)</text>
<text x="658.80" y="310.60" font-size="4.5" fill="#222" stroke="#222" stroke-width="0.20" text-anchor="start" >Log2(FC)</text>
<rect x="659.4" y="313" width="7" height="33.3" fill="url(#fcB)"/>
<text x="669.00" y="322.20" font-size="3.2" fill="#333" stroke="#333" stroke-width="0.06" text-anchor="start" >4</text>
<text x="669.00" y="330.70" font-size="3.2" fill="#333" stroke="#333" stroke-width="0.06" text-anchor="start" >0</text>
<text x="669.00" y="339.40" font-size="3.2" fill="#333" stroke="#333" stroke-width="0.06" text-anchor="start" >-4</text>
<text x="658.80" y="358.20" font-size="4.5" fill="#222" stroke="#222" stroke-width="0.20" text-anchor="start" >P-value</text>
<circle cx="663" cy="364.0" r="0.4" fill="#fff" stroke="#333" stroke-width="0.4"/>
<text x="668.50" y="365.20" font-size="3.2" fill="#333" stroke="#333" stroke-width="0.06" text-anchor="start" >1.0</text>
<circle cx="663" cy="370.6" r="1.2" fill="#fff" stroke="#333" stroke-width="0.4"/>
<text x="668.50" y="371.80" font-size="3.2" fill="#333" stroke="#333" stroke-width="0.06" text-anchor="start" >0.1</text>
<circle cx="663" cy="377.2" r="1.4" fill="#fff" stroke="#333" stroke-width="0.4"/>
<text x="668.50" y="378.40" font-size="3.2" fill="#333" stroke="#333" stroke-width="0.06" text-anchor="start" >0.05</text>
<circle cx="663" cy="383.8" r="1.6" fill="#fff" stroke="#333" stroke-width="0.4"/>
<text x="668.50" y="385.00" font-size="3.2" fill="#333" stroke="#333" stroke-width="0.06" text-anchor="start" >0.01</text>
<circle cx="663" cy="390.6" r="1.9" fill="#fff" stroke="#333" stroke-width="0.4"/>
<text x="668.50" y="391.80" font-size="3.2" fill="#333" stroke="#333" stroke-width="0.06" text-anchor="start" >0.001</text>
</g>
</svg>
</body></html>
